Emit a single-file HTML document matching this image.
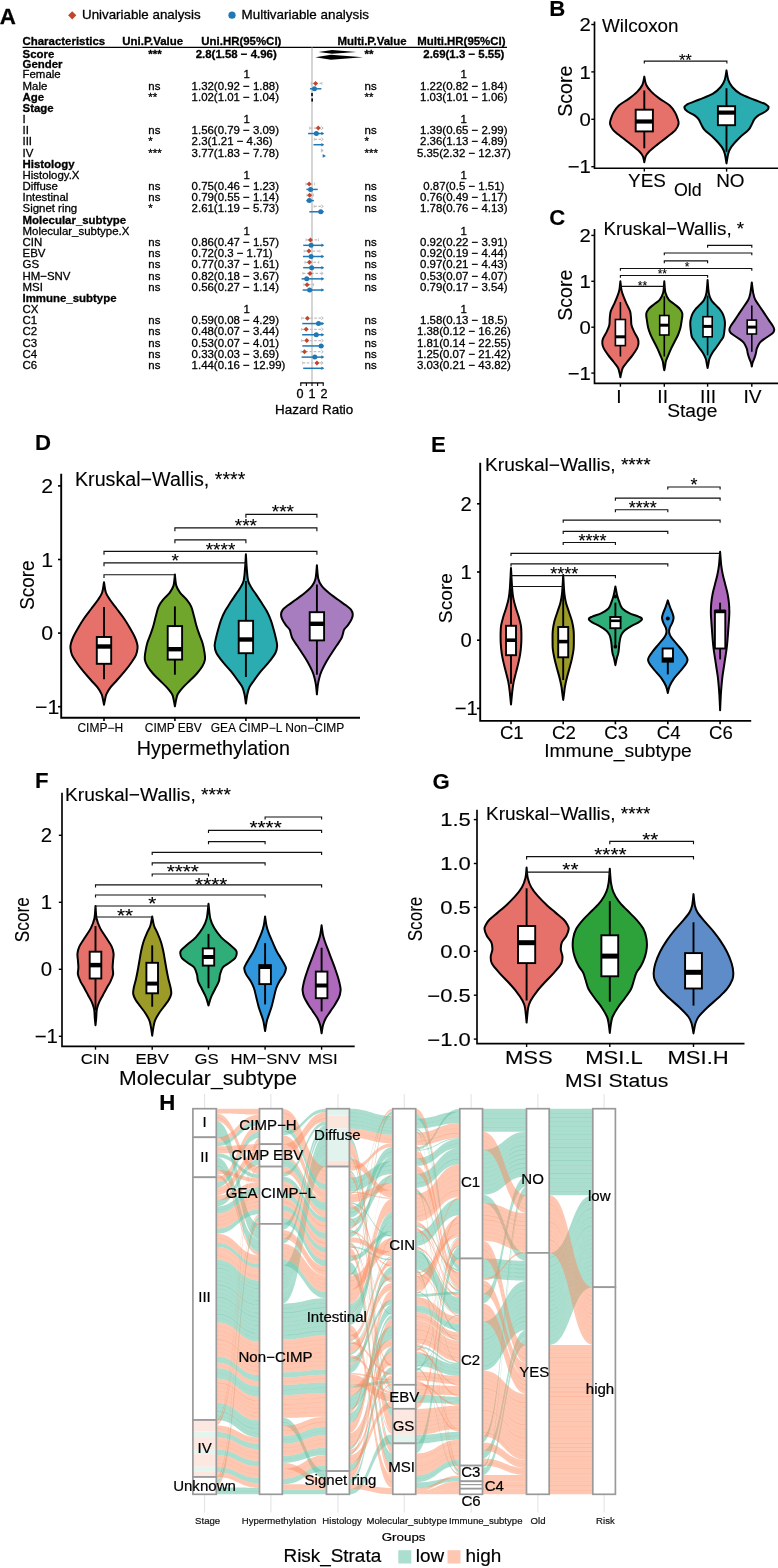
<!DOCTYPE html>
<html lang="en"><head><meta charset="utf-8"><title>Figure</title>
<style>
html,body{margin:0;padding:0;background:#fff}
svg{display:block;font-family:"Liberation Sans",Arial,Helvetica,sans-serif}
text{stroke:#000;stroke-width:.12px;stroke-linejoin:round}
#panelA text{stroke-width:.3px}
#panelH text{stroke-width:.2px}
</style></head><body>
<svg width="778" height="1568" viewBox="0 0 778 1568">
<rect width="778" height="1568" fill="#fff"/>
<g id="panelA">
<text transform="translate(-0.3 24.4)" font-size="22.3" font-weight="700">A</text>
<path d="M72.2 11.2L76.3 15.3L72.2 19.4L68.1 15.3Z" fill="#C1452B"/>
<text transform="translate(82 18.7)" font-size="13.35">Univariable analysis</text>
<circle cx="232" cy="15.2" r="3.6" fill="#1F78B4"/>
<text transform="translate(241.6 18.7)" font-size="13.4">Multivariable analysis</text>
<text transform="translate(22.5 44.9)" font-size="11.45" font-weight="700">Characteristics</text>
<text transform="translate(122.3 44.9)" font-size="11.45" font-weight="700">Uni.P.Value</text>
<text transform="translate(201.3 44.9)" font-size="11.45" font-weight="700">Uni.HR(95%CI)</text>
<text transform="translate(337.5 44.9)" font-size="11.45" font-weight="700">Multi.P.Value</text>
<text transform="translate(417.2 44.9)" font-size="11.45" font-weight="700">Multi.HR(95%CI)</text>
<line x1="22.5" y1="47.4" x2="507" y2="47.4" stroke="#000" stroke-width="1.3"/>
<line x1="312" y1="47.4" x2="312" y2="383" stroke="#BEBEBE" stroke-width="1.3"/>
<text transform="translate(22.5 58)" font-size="11.45" font-weight="700">Score</text>
<text transform="translate(148.3 58)" font-size="11.45" font-weight="700">***</text>
<text transform="translate(236.2 58)" font-size="11.45" text-anchor="middle" font-weight="700">2.8(1.58 − 4.96)</text>
<text transform="translate(364.6 58)" font-size="11.45" font-weight="700">**</text>
<text transform="translate(463.8 58)" font-size="11.45" text-anchor="middle" font-weight="700">2.69(1.3 − 5.55)</text>
<path d="M318.5 51.9L332.16 50L356.35 51.9L332.16 53.8Z" fill="#000"/>
<path d="M315.36 57.3L330.93 54.8L362.96 57.3L330.93 59.8Z" fill="#000"/>
<text transform="translate(22.5 67.6)" font-size="11.45" font-weight="700">Gender</text>
<text transform="translate(22.5 78.32)" font-size="11.45">Female</text>
<text transform="translate(246.7 78.32)" font-size="11.45" text-anchor="middle">1</text>
<text transform="translate(463.8 78.32)" font-size="11.45" text-anchor="middle">1</text>
<text transform="translate(22.5 89.5)" font-size="11.45">Male</text>
<text transform="translate(148.3 89.5)" font-size="11.45">ns</text>
<text transform="translate(191.6 89.5)" font-size="11.45">1.32(0.92 − 1.88)</text>
<text transform="translate(364.6 89.5)" font-size="11.45">ns</text>
<text transform="translate(463.8 89.5)" font-size="11.45" text-anchor="middle">1.22(0.82 − 1.84)</text>
<line x1="311.1" y1="83.4" x2="321.86" y2="83.4" stroke="#BEBEBE" stroke-width="1.25" stroke-dasharray="2.6 1.6"/>
<line x1="321.86" y1="81.9" x2="321.86" y2="84.9" stroke="#BEBEBE" stroke-width="0.8"/>
<line x1="311.1" y1="81.9" x2="311.1" y2="84.9" stroke="#BEBEBE" stroke-width="0.8"/>
<path d="M315.58 80.9L318.08 83.4L315.58 85.9L313.08 83.4Z" fill="#C1452B"/>
<line x1="309.98" y1="88.8" x2="321.41" y2="88.8" stroke="#1F78B4" stroke-width="1.5"/>
<circle cx="314.46" cy="88.8" r="2.5" fill="#1F78B4"/>
<text transform="translate(22.5 100.68)" font-size="11.45" font-weight="700">Age</text>
<text transform="translate(148.3 100.68)" font-size="11.45">**</text>
<text transform="translate(191.6 100.68)" font-size="11.45">1.02(1.01 − 1.04)</text>
<text transform="translate(364.6 100.68)" font-size="11.45">**</text>
<text transform="translate(463.8 100.68)" font-size="11.45" text-anchor="middle">1.03(1.01 − 1.06)</text>
<rect x="311.22" y="92.98" width="1.6" height="3.2" fill="#000" stroke="none" stroke-width="1"/>
<rect x="311.34" y="98.38" width="1.6" height="3.2" fill="#000" stroke="none" stroke-width="1"/>
<text transform="translate(22.5 111.86)" font-size="11.45" font-weight="700">Stage</text>
<text transform="translate(22.5 123.04)" font-size="11.45">I</text>
<text transform="translate(246.7 123.04)" font-size="11.45" text-anchor="middle">1</text>
<text transform="translate(463.8 123.04)" font-size="11.45" text-anchor="middle">1</text>
<text transform="translate(22.5 134.22)" font-size="11.45">II</text>
<text transform="translate(148.3 134.22)" font-size="11.45">ns</text>
<text transform="translate(191.6 134.22)" font-size="11.45">1.56(0.79 − 3.09)</text>
<text transform="translate(364.6 134.22)" font-size="11.45">ns</text>
<text transform="translate(463.8 134.22)" font-size="11.45" text-anchor="middle">1.39(0.65 − 2.99)</text>
<line x1="309.65" y1="128.12" x2="323.2" y2="128.12" stroke="#BEBEBE" stroke-width="1.25" stroke-dasharray="2.6 1.6"/>
<path d="M321.2 126.52L323.2 128.12L321.2 129.72" fill="none" stroke="#BEBEBE" stroke-width="1"/>
<line x1="309.65" y1="126.62" x2="309.65" y2="129.62" stroke="#BEBEBE" stroke-width="0.8"/>
<path d="M318.27 125.62L320.77 128.12L318.27 130.62L315.77 128.12Z" fill="#C1452B"/>
<line x1="308.08" y1="133.52" x2="323.2" y2="133.52" stroke="#1F78B4" stroke-width="1.5"/>
<path d="M321.4 131.72L324.2 133.52L321.4 135.32Z" fill="#1F78B4"/>
<circle cx="316.37" cy="133.52" r="2.5" fill="#1F78B4"/>
<text transform="translate(22.5 145.4)" font-size="11.45">III</text>
<text transform="translate(148.3 145.4)" font-size="11.45">*</text>
<text transform="translate(191.6 145.4)" font-size="11.45">2.3(1.21 − 4.36)</text>
<text transform="translate(364.6 145.4)" font-size="11.45">*</text>
<text transform="translate(463.8 145.4)" font-size="11.45" text-anchor="middle">2.36(1.13 − 4.89)</text>
<line x1="314.35" y1="139.3" x2="323.2" y2="139.3" stroke="#BEBEBE" stroke-width="1.25" stroke-dasharray="2.6 1.6"/>
<path d="M321.2 137.7L323.2 139.3L321.2 140.9" fill="none" stroke="#BEBEBE" stroke-width="1"/>
<line x1="314.35" y1="137.8" x2="314.35" y2="140.8" stroke="#BEBEBE" stroke-width="0.8"/>
<line x1="313.46" y1="144.7" x2="323.2" y2="144.7" stroke="#1F78B4" stroke-width="1.5"/>
<path d="M321.4 142.9L324.2 144.7L321.4 146.5Z" fill="#1F78B4"/>
<text transform="translate(22.5 156.58)" font-size="11.45">IV</text>
<text transform="translate(148.3 156.58)" font-size="11.45">***</text>
<text transform="translate(191.6 156.58)" font-size="11.45">3.77(1.83 − 7.78)</text>
<text transform="translate(364.6 156.58)" font-size="11.45">***</text>
<text transform="translate(463.8 156.58)" font-size="11.45" text-anchor="middle">5.35(2.32 − 12.37)</text>
<line x1="321.3" y1="150.48" x2="323.2" y2="150.48" stroke="#BEBEBE" stroke-width="1.25" stroke-dasharray="2.6 1.6"/>
<path d="M321.2 148.88L323.2 150.48L321.2 152.08" fill="none" stroke="#BEBEBE" stroke-width="1"/>
<line x1="321.3" y1="148.98" x2="321.3" y2="151.98" stroke="#BEBEBE" stroke-width="0.8"/>
<path d="M322.7 154.08L326 155.88L322.7 157.68Z" fill="#1F78B4"/>
<text transform="translate(22.5 167.76)" font-size="11.45" font-weight="700">Histology</text>
<text transform="translate(22.5 178.94)" font-size="11.45">Histology.X</text>
<text transform="translate(246.7 178.94)" font-size="11.45" text-anchor="middle">1</text>
<text transform="translate(463.8 178.94)" font-size="11.45" text-anchor="middle">1</text>
<text transform="translate(22.5 190.12)" font-size="11.45">Diffuse</text>
<text transform="translate(148.3 190.12)" font-size="11.45">ns</text>
<text transform="translate(191.6 190.12)" font-size="11.45">0.75(0.46 − 1.23)</text>
<text transform="translate(364.6 190.12)" font-size="11.45">ns</text>
<text transform="translate(463.8 190.12)" font-size="11.45" text-anchor="middle">0.87(0.5 − 1.51)</text>
<line x1="305.95" y1="184.02" x2="314.58" y2="184.02" stroke="#BEBEBE" stroke-width="1.25" stroke-dasharray="2.6 1.6"/>
<line x1="314.58" y1="182.52" x2="314.58" y2="185.52" stroke="#BEBEBE" stroke-width="0.8"/>
<line x1="305.95" y1="182.52" x2="305.95" y2="185.52" stroke="#BEBEBE" stroke-width="0.8"/>
<path d="M309.2 181.52L311.7 184.02L309.2 186.52L306.7 184.02Z" fill="#C1452B"/>
<line x1="306.4" y1="189.42" x2="317.71" y2="189.42" stroke="#1F78B4" stroke-width="1.5"/>
<circle cx="310.54" cy="189.42" r="2.5" fill="#1F78B4"/>
<text transform="translate(22.5 201.3)" font-size="11.45">Intestinal</text>
<text transform="translate(148.3 201.3)" font-size="11.45">ns</text>
<text transform="translate(191.6 201.3)" font-size="11.45">0.79(0.55 − 1.14)</text>
<text transform="translate(364.6 201.3)" font-size="11.45">ns</text>
<text transform="translate(463.8 201.3)" font-size="11.45" text-anchor="middle">0.76(0.49 − 1.17)</text>
<line x1="306.96" y1="195.2" x2="313.57" y2="195.2" stroke="#BEBEBE" stroke-width="1.25" stroke-dasharray="2.6 1.6"/>
<line x1="313.57" y1="193.7" x2="313.57" y2="196.7" stroke="#BEBEBE" stroke-width="0.8"/>
<line x1="306.96" y1="193.7" x2="306.96" y2="196.7" stroke="#BEBEBE" stroke-width="0.8"/>
<path d="M309.65 192.7L312.15 195.2L309.65 197.7L307.15 195.2Z" fill="#C1452B"/>
<line x1="306.29" y1="200.6" x2="313.9" y2="200.6" stroke="#1F78B4" stroke-width="1.5"/>
<circle cx="309.31" cy="200.6" r="2.5" fill="#1F78B4"/>
<text transform="translate(22.5 212.48)" font-size="11.45">Signet ring</text>
<text transform="translate(148.3 212.48)" font-size="11.45">*</text>
<text transform="translate(191.6 212.48)" font-size="11.45">2.61(1.19 − 5.73)</text>
<text transform="translate(364.6 212.48)" font-size="11.45">ns</text>
<text transform="translate(463.8 212.48)" font-size="11.45" text-anchor="middle">1.78(0.76 − 4.13)</text>
<line x1="314.13" y1="206.38" x2="323.2" y2="206.38" stroke="#BEBEBE" stroke-width="1.25" stroke-dasharray="2.6 1.6"/>
<path d="M321.2 204.78L323.2 206.38L321.2 207.98" fill="none" stroke="#BEBEBE" stroke-width="1"/>
<line x1="314.13" y1="204.88" x2="314.13" y2="207.88" stroke="#BEBEBE" stroke-width="0.8"/>
<line x1="309.31" y1="211.78" x2="323.2" y2="211.78" stroke="#1F78B4" stroke-width="1.5"/>
<path d="M321.4 209.98L324.2 211.78L321.4 213.58Z" fill="#1F78B4"/>
<circle cx="320.74" cy="211.78" r="2.5" fill="#1F78B4"/>
<text transform="translate(22.5 223.66)" font-size="11.45" font-weight="700">Molecular_subtype</text>
<text transform="translate(22.5 234.84)" font-size="11.45">Molecular_subtype.X</text>
<text transform="translate(246.7 234.84)" font-size="11.45" text-anchor="middle">1</text>
<text transform="translate(463.8 234.84)" font-size="11.45" text-anchor="middle">1</text>
<text transform="translate(22.5 246.02)" font-size="11.45">CIN</text>
<text transform="translate(148.3 246.02)" font-size="11.45">ns</text>
<text transform="translate(191.6 246.02)" font-size="11.45">0.86(0.47 − 1.57)</text>
<text transform="translate(364.6 246.02)" font-size="11.45">ns</text>
<text transform="translate(463.8 246.02)" font-size="11.45" text-anchor="middle">0.92(0.22 − 3.91)</text>
<line x1="306.06" y1="239.92" x2="318.38" y2="239.92" stroke="#BEBEBE" stroke-width="1.25" stroke-dasharray="2.6 1.6"/>
<line x1="318.38" y1="238.42" x2="318.38" y2="241.42" stroke="#BEBEBE" stroke-width="0.8"/>
<line x1="306.06" y1="238.42" x2="306.06" y2="241.42" stroke="#BEBEBE" stroke-width="0.8"/>
<path d="M310.43 237.42L312.93 239.92L310.43 242.42L307.93 239.92Z" fill="#C1452B"/>
<line x1="303.26" y1="245.32" x2="323.2" y2="245.32" stroke="#1F78B4" stroke-width="1.5"/>
<path d="M321.4 243.52L324.2 245.32L321.4 247.12Z" fill="#1F78B4"/>
<circle cx="311.1" cy="245.32" r="2.5" fill="#1F78B4"/>
<text transform="translate(22.5 257.2)" font-size="11.45">EBV</text>
<text transform="translate(148.3 257.2)" font-size="11.45">ns</text>
<text transform="translate(191.6 257.2)" font-size="11.45">0.72(0.3 − 1.71)</text>
<text transform="translate(364.6 257.2)" font-size="11.45">ns</text>
<text transform="translate(463.8 257.2)" font-size="11.45" text-anchor="middle">0.92(0.19 − 4.44)</text>
<line x1="304.16" y1="251.1" x2="319.95" y2="251.1" stroke="#BEBEBE" stroke-width="1.25" stroke-dasharray="2.6 1.6"/>
<line x1="319.95" y1="249.6" x2="319.95" y2="252.6" stroke="#BEBEBE" stroke-width="0.8"/>
<line x1="304.16" y1="249.6" x2="304.16" y2="252.6" stroke="#BEBEBE" stroke-width="0.8"/>
<path d="M308.86 248.6L311.36 251.1L308.86 253.6L306.36 251.1Z" fill="#C1452B"/>
<line x1="302.93" y1="256.5" x2="323.2" y2="256.5" stroke="#1F78B4" stroke-width="1.5"/>
<path d="M321.4 254.7L324.2 256.5L321.4 258.3Z" fill="#1F78B4"/>
<circle cx="311.1" cy="256.5" r="2.5" fill="#1F78B4"/>
<text transform="translate(22.5 268.38)" font-size="11.45">GS</text>
<text transform="translate(148.3 268.38)" font-size="11.45">ns</text>
<text transform="translate(191.6 268.38)" font-size="11.45">0.77(0.37 − 1.61)</text>
<text transform="translate(364.6 268.38)" font-size="11.45">ns</text>
<text transform="translate(463.8 268.38)" font-size="11.45" text-anchor="middle">0.97(0.21 − 4.43)</text>
<line x1="304.94" y1="262.28" x2="318.83" y2="262.28" stroke="#BEBEBE" stroke-width="1.25" stroke-dasharray="2.6 1.6"/>
<line x1="318.83" y1="260.78" x2="318.83" y2="263.78" stroke="#BEBEBE" stroke-width="0.8"/>
<line x1="304.94" y1="260.78" x2="304.94" y2="263.78" stroke="#BEBEBE" stroke-width="0.8"/>
<path d="M309.42 259.78L311.92 262.28L309.42 264.78L306.92 262.28Z" fill="#C1452B"/>
<line x1="303.15" y1="267.68" x2="323.2" y2="267.68" stroke="#1F78B4" stroke-width="1.5"/>
<path d="M321.4 265.88L324.2 267.68L321.4 269.48Z" fill="#1F78B4"/>
<circle cx="311.66" cy="267.68" r="2.5" fill="#1F78B4"/>
<text transform="translate(22.5 279.56)" font-size="11.45">HM−SNV</text>
<text transform="translate(148.3 279.56)" font-size="11.45">ns</text>
<text transform="translate(191.6 279.56)" font-size="11.45">0.82(0.18 − 3.67)</text>
<text transform="translate(364.6 279.56)" font-size="11.45">ns</text>
<text transform="translate(463.8 279.56)" font-size="11.45" text-anchor="middle">0.53(0.07 − 4.07)</text>
<line x1="302.82" y1="273.46" x2="323.2" y2="273.46" stroke="#BEBEBE" stroke-width="1.25" stroke-dasharray="2.6 1.6"/>
<path d="M321.2 271.86L323.2 273.46L321.2 275.06" fill="none" stroke="#BEBEBE" stroke-width="1"/>
<line x1="302.82" y1="271.96" x2="302.82" y2="274.96" stroke="#BEBEBE" stroke-width="0.8"/>
<path d="M309.98 270.96L312.48 273.46L309.98 275.96L307.48 273.46Z" fill="#C1452B"/>
<line x1="301.58" y1="278.86" x2="323.2" y2="278.86" stroke="#1F78B4" stroke-width="1.5"/>
<path d="M321.4 277.06L324.2 278.86L321.4 280.66Z" fill="#1F78B4"/>
<circle cx="306.74" cy="278.86" r="2.5" fill="#1F78B4"/>
<text transform="translate(22.5 290.74)" font-size="11.45">MSI</text>
<text transform="translate(148.3 290.74)" font-size="11.45">ns</text>
<text transform="translate(191.6 290.74)" font-size="11.45">0.56(0.27 − 1.14)</text>
<text transform="translate(364.6 290.74)" font-size="11.45">ns</text>
<text transform="translate(463.8 290.74)" font-size="11.45" text-anchor="middle">0.79(0.17 − 3.54)</text>
<line x1="303.82" y1="284.64" x2="313.57" y2="284.64" stroke="#BEBEBE" stroke-width="1.25" stroke-dasharray="2.6 1.6"/>
<line x1="313.57" y1="283.14" x2="313.57" y2="286.14" stroke="#BEBEBE" stroke-width="0.8"/>
<line x1="303.82" y1="283.14" x2="303.82" y2="286.14" stroke="#BEBEBE" stroke-width="0.8"/>
<path d="M307.07 282.14L309.57 284.64L307.07 287.14L304.57 284.64Z" fill="#C1452B"/>
<line x1="302.7" y1="290.04" x2="323.2" y2="290.04" stroke="#1F78B4" stroke-width="1.5"/>
<path d="M321.4 288.24L324.2 290.04L321.4 291.84Z" fill="#1F78B4"/>
<circle cx="309.65" cy="290.04" r="2.5" fill="#1F78B4"/>
<text transform="translate(22.5 301.92)" font-size="11.45" font-weight="700">Immune_subtype</text>
<text transform="translate(22.5 313.1)" font-size="11.45">CX</text>
<text transform="translate(246.7 313.1)" font-size="11.45" text-anchor="middle">1</text>
<text transform="translate(463.8 313.1)" font-size="11.45" text-anchor="middle">1</text>
<text transform="translate(22.5 324.28)" font-size="11.45">C1</text>
<text transform="translate(148.3 324.28)" font-size="11.45">ns</text>
<text transform="translate(191.6 324.28)" font-size="11.45">0.59(0.08 − 4.29)</text>
<text transform="translate(364.6 324.28)" font-size="11.45">ns</text>
<text transform="translate(463.8 324.28)" font-size="11.45" text-anchor="middle">1.58(0.13 − 18.5)</text>
<line x1="301.7" y1="318.18" x2="323.2" y2="318.18" stroke="#BEBEBE" stroke-width="1.25" stroke-dasharray="2.6 1.6"/>
<path d="M321.2 316.58L323.2 318.18L321.2 319.78" fill="none" stroke="#BEBEBE" stroke-width="1"/>
<line x1="301.7" y1="316.68" x2="301.7" y2="319.68" stroke="#BEBEBE" stroke-width="0.8"/>
<path d="M307.41 315.68L309.91 318.18L307.41 320.68L304.91 318.18Z" fill="#C1452B"/>
<line x1="302.26" y1="323.58" x2="323.2" y2="323.58" stroke="#1F78B4" stroke-width="1.5"/>
<path d="M321.4 321.78L324.2 323.58L321.4 325.38Z" fill="#1F78B4"/>
<circle cx="318.5" cy="323.58" r="2.5" fill="#1F78B4"/>
<text transform="translate(22.5 335.46)" font-size="11.45">C2</text>
<text transform="translate(148.3 335.46)" font-size="11.45">ns</text>
<text transform="translate(191.6 335.46)" font-size="11.45">0.48(0.07 − 3.44)</text>
<text transform="translate(364.6 335.46)" font-size="11.45">ns</text>
<text transform="translate(463.8 335.46)" font-size="11.45" text-anchor="middle">1.38(0.12 − 16.26)</text>
<line x1="301.58" y1="329.36" x2="323.2" y2="329.36" stroke="#BEBEBE" stroke-width="1.25" stroke-dasharray="2.6 1.6"/>
<path d="M321.2 327.76L323.2 329.36L321.2 330.96" fill="none" stroke="#BEBEBE" stroke-width="1"/>
<line x1="301.58" y1="327.86" x2="301.58" y2="330.86" stroke="#BEBEBE" stroke-width="0.8"/>
<path d="M306.18 326.86L308.68 329.36L306.18 331.86L303.68 329.36Z" fill="#C1452B"/>
<line x1="302.14" y1="334.76" x2="323.2" y2="334.76" stroke="#1F78B4" stroke-width="1.5"/>
<path d="M321.4 332.96L324.2 334.76L321.4 336.56Z" fill="#1F78B4"/>
<circle cx="316.26" cy="334.76" r="2.5" fill="#1F78B4"/>
<text transform="translate(22.5 346.64)" font-size="11.45">C3</text>
<text transform="translate(148.3 346.64)" font-size="11.45">ns</text>
<text transform="translate(191.6 346.64)" font-size="11.45">0.53(0.07 − 4.01)</text>
<text transform="translate(364.6 346.64)" font-size="11.45">ns</text>
<text transform="translate(463.8 346.64)" font-size="11.45" text-anchor="middle">1.81(0.14 − 22.55)</text>
<line x1="301.58" y1="340.54" x2="323.2" y2="340.54" stroke="#BEBEBE" stroke-width="1.25" stroke-dasharray="2.6 1.6"/>
<path d="M321.2 338.94L323.2 340.54L321.2 342.14" fill="none" stroke="#BEBEBE" stroke-width="1"/>
<line x1="301.58" y1="339.04" x2="301.58" y2="342.04" stroke="#BEBEBE" stroke-width="0.8"/>
<path d="M306.74 338.04L309.24 340.54L306.74 343.04L304.24 340.54Z" fill="#C1452B"/>
<line x1="302.37" y1="345.94" x2="323.2" y2="345.94" stroke="#1F78B4" stroke-width="1.5"/>
<path d="M321.4 344.14L324.2 345.94L321.4 347.74Z" fill="#1F78B4"/>
<circle cx="321.07" cy="345.94" r="2.5" fill="#1F78B4"/>
<text transform="translate(22.5 357.82)" font-size="11.45">C4</text>
<text transform="translate(148.3 357.82)" font-size="11.45">ns</text>
<text transform="translate(191.6 357.82)" font-size="11.45">0.33(0.03 − 3.69)</text>
<text transform="translate(364.6 357.82)" font-size="11.45">ns</text>
<text transform="translate(463.8 357.82)" font-size="11.45" text-anchor="middle">1.25(0.07 − 21.42)</text>
<line x1="301.14" y1="351.72" x2="323.2" y2="351.72" stroke="#BEBEBE" stroke-width="1.25" stroke-dasharray="2.6 1.6"/>
<path d="M321.2 350.12L323.2 351.72L321.2 353.32" fill="none" stroke="#BEBEBE" stroke-width="1"/>
<line x1="301.14" y1="350.22" x2="301.14" y2="353.22" stroke="#BEBEBE" stroke-width="0.8"/>
<path d="M304.5 349.22L307 351.72L304.5 354.22L302 351.72Z" fill="#C1452B"/>
<line x1="301.58" y1="357.12" x2="323.2" y2="357.12" stroke="#1F78B4" stroke-width="1.5"/>
<path d="M321.4 355.32L324.2 357.12L321.4 358.92Z" fill="#1F78B4"/>
<circle cx="314.8" cy="357.12" r="2.5" fill="#1F78B4"/>
<text transform="translate(22.5 369)" font-size="11.45">C6</text>
<text transform="translate(148.3 369)" font-size="11.45">ns</text>
<text transform="translate(191.6 369)" font-size="11.45">1.44(0.16 − 12.99)</text>
<text transform="translate(364.6 369)" font-size="11.45">ns</text>
<text transform="translate(463.8 369)" font-size="11.45" text-anchor="middle">3.03(0.21 − 43.82)</text>
<line x1="302.59" y1="362.9" x2="323.2" y2="362.9" stroke="#BEBEBE" stroke-width="1.25" stroke-dasharray="2.6 1.6"/>
<path d="M321.2 361.3L323.2 362.9L321.2 364.5" fill="none" stroke="#BEBEBE" stroke-width="1"/>
<line x1="302.59" y1="361.4" x2="302.59" y2="364.4" stroke="#BEBEBE" stroke-width="0.8"/>
<path d="M316.93 360.4L319.43 362.9L316.93 365.4L314.43 362.9Z" fill="#C1452B"/>
<line x1="303.15" y1="368.3" x2="323.2" y2="368.3" stroke="#1F78B4" stroke-width="1.5"/>
<path d="M321.4 366.5L324.2 368.3L321.4 370.1Z" fill="#1F78B4"/>
<line x1="300.2" y1="382.9" x2="323.8" y2="382.9" stroke="#000" stroke-width="1.3"/>
<line x1="300.8" y1="382.9" x2="300.8" y2="386" stroke="#000" stroke-width="1.1"/>
<line x1="306.4" y1="382.9" x2="306.4" y2="386" stroke="#000" stroke-width="1.1"/>
<line x1="312" y1="382.9" x2="312" y2="386" stroke="#000" stroke-width="1.1"/>
<line x1="317.6" y1="382.9" x2="317.6" y2="386" stroke="#000" stroke-width="1.1"/>
<line x1="323.2" y1="382.9" x2="323.2" y2="386" stroke="#000" stroke-width="1.1"/>
<text transform="translate(299.9 398.4)" font-size="12.6" text-anchor="middle">0</text>
<text transform="translate(312 398.4)" font-size="12.6" text-anchor="middle">1</text>
<text transform="translate(324.1 398.4)" font-size="12.6" text-anchor="middle">2</text>
<text transform="translate(314.2 413.8)" font-size="13.4" text-anchor="middle">Hazard Ratio</text>
</g>
<g id="panelB">
<text transform="translate(549.3 15.6)" font-size="22.2" font-weight="700">B</text>
<path d="M594.5 21.4V168.2H778" fill="none" stroke="#000" stroke-width="1.65" stroke-linejoin="miter"/>
<line x1="591.3" y1="24.5" x2="594.5" y2="24.5" stroke="#000" stroke-width="1.4"/>
<text transform="translate(590.8 31.27) scale(1.08 1)" font-size="18.8" text-anchor="end">2</text>
<line x1="591.3" y1="71.9" x2="594.5" y2="71.9" stroke="#000" stroke-width="1.4"/>
<text transform="translate(590.8 78.67) scale(1.08 1)" font-size="18.8" text-anchor="end">1</text>
<line x1="591.3" y1="119.3" x2="594.5" y2="119.3" stroke="#000" stroke-width="1.4"/>
<text transform="translate(590.8 126.07) scale(1.08 1)" font-size="18.8" text-anchor="end">0</text>
<line x1="591.3" y1="166.7" x2="594.5" y2="166.7" stroke="#000" stroke-width="1.4"/>
<text transform="translate(590.8 173.47) scale(1.08 1)" font-size="18.8" text-anchor="end">−1</text>
<line x1="644.3" y1="168.2" x2="644.3" y2="171.6" stroke="#000" stroke-width="1.4"/>
<line x1="726.6" y1="168.2" x2="726.6" y2="171.6" stroke="#000" stroke-width="1.4"/>
<text transform="translate(571.6 91.2) rotate(-90)" font-size="19.6" text-anchor="middle">Score</text>
<text transform="translate(602 32.4) scale(1.01 1)" font-size="18.7">Wilcoxon</text>
<path d="M644.3 76.61C644.61 77.96 644.99 82.2 646.15 84.71C647.31 87.21 649 89.33 651.24 91.65C653.48 93.96 656.49 96.27 659.57 98.59C662.66 100.9 667.17 103.22 669.75 105.53C672.33 107.84 673.72 110.16 675.07 112.47C676.42 114.78 677.27 117.48 677.85 119.41C678.43 121.34 678.93 122.3 678.54 124.04C678.16 125.78 677.39 127.7 675.54 129.82C673.68 131.95 670.52 134.26 667.44 136.77C664.35 139.27 660.11 142.36 657.03 144.86C653.94 147.37 650.82 149.88 648.93 151.8C647.04 153.73 646.46 154.7 645.69 156.43C644.92 158.17 644.53 161.25 644.3 162.22C644.07 161.25 643.68 158.17 642.91 156.43C642.14 154.7 641.56 153.73 639.67 151.8C637.78 149.88 634.66 147.37 631.57 144.86C628.49 142.36 624.25 139.27 621.16 136.77C618.08 134.26 614.92 131.95 613.06 129.82C611.21 127.7 610.44 125.78 610.06 124.04C609.67 122.3 610.17 121.34 610.75 119.41C611.33 117.48 612.18 114.78 613.53 112.47C614.88 110.16 616.27 107.84 618.85 105.53C621.43 103.22 625.94 100.9 629.03 98.59C632.11 96.27 635.12 93.96 637.36 91.65C639.6 89.33 641.29 87.21 642.45 84.71C643.61 82.2 643.99 77.96 644.3 76.61Z" fill="#E5716A" stroke="#000" stroke-width="2" stroke-linejoin="round"/>
<line x1="644.3" y1="90.5" x2="644.3" y2="148.3" stroke="#000" stroke-width="1.9"/>
<rect x="635.7" y="109.7" width="17.2" height="21.7" fill="#fff" stroke="#000" stroke-width="1.9"/>
<line x1="635.7" y1="121.5" x2="652.9" y2="121.5" stroke="#000" stroke-width="4.2"/>
<path d="M726.5 70.36C726.81 71.98 727.39 77.3 728.35 80.08C729.32 82.86 730.28 84.71 732.28 87.02C734.29 89.33 736.72 91.84 740.38 93.96C744.05 96.08 750.02 98.01 754.26 99.75C758.51 101.48 763.44 103.02 765.83 104.37C768.22 105.72 768.61 106.69 768.61 107.84C768.61 109 767.65 109.96 765.83 111.31C764.02 112.66 759.66 114.59 757.74 115.94C755.81 117.29 755.23 118.06 754.26 119.41C753.3 120.76 752.92 122.3 751.95 124.04C750.99 125.78 750.6 127.51 748.48 129.82C746.36 132.14 742.12 135.03 739.23 137.92C736.33 140.81 732.98 144.48 731.13 147.18C729.28 149.88 728.89 151.42 728.12 154.12C727.35 156.82 726.77 161.83 726.5 163.37C726.23 161.83 725.65 156.82 724.88 154.12C724.11 151.42 723.72 149.88 721.87 147.18C720.02 144.48 716.67 140.81 713.77 137.92C710.88 135.03 706.64 132.14 704.52 129.82C702.4 127.51 702.01 125.78 701.05 124.04C700.08 122.3 699.7 120.76 698.74 119.41C697.77 118.06 697.19 117.29 695.26 115.94C693.34 114.59 688.98 112.66 687.17 111.31C685.35 109.96 684.39 109 684.39 107.84C684.39 106.69 684.78 105.72 687.17 104.37C689.56 103.02 694.49 101.48 698.74 99.75C702.98 98.01 708.95 96.08 712.62 93.96C716.28 91.84 718.71 89.33 720.72 87.02C722.72 84.71 723.68 82.86 724.65 80.08C725.61 77.3 726.19 71.98 726.5 70.36Z" fill="#2AACB0" stroke="#000" stroke-width="2" stroke-linejoin="round"/>
<line x1="726.5" y1="88.2" x2="726.5" y2="151.8" stroke="#000" stroke-width="1.9"/>
<rect x="717.9" y="106.2" width="17.2" height="19" fill="#fff" stroke="#000" stroke-width="1.9"/>
<line x1="717.9" y1="112.6" x2="735.1" y2="112.6" stroke="#000" stroke-width="4.2"/>
<path d="M644.3 63.5V61.1H726.9V63.5" fill="none" stroke="#111" stroke-width="1.15"/>
<text transform="translate(685.3 65.65)" font-size="16.5" text-anchor="middle">**</text>
<text transform="translate(647 187.2)" font-size="18.9" text-anchor="middle">YES</text>
<text transform="translate(730.4 187.2)" font-size="18.9" text-anchor="middle">NO</text>
<text transform="translate(687.8 196.4)" font-size="17.8" text-anchor="middle">Old</text>
</g>
<g id="panelC">
<text transform="translate(549.3 225.3)" font-size="22.2" font-weight="700">C</text>
<path d="M594.5 229V383.3H778" fill="none" stroke="#000" stroke-width="1.65" stroke-linejoin="miter"/>
<line x1="591.3" y1="235.4" x2="594.5" y2="235.4" stroke="#000" stroke-width="1.4"/>
<text transform="translate(590.8 242.24) scale(1.07 1)" font-size="19" text-anchor="end">2</text>
<line x1="591.3" y1="281.3" x2="594.5" y2="281.3" stroke="#000" stroke-width="1.4"/>
<text transform="translate(590.8 288.14) scale(1.07 1)" font-size="19" text-anchor="end">1</text>
<line x1="591.3" y1="327.2" x2="594.5" y2="327.2" stroke="#000" stroke-width="1.4"/>
<text transform="translate(590.8 334.04) scale(1.07 1)" font-size="19" text-anchor="end">0</text>
<line x1="591.3" y1="373.1" x2="594.5" y2="373.1" stroke="#000" stroke-width="1.4"/>
<text transform="translate(590.8 379.94) scale(1.07 1)" font-size="19" text-anchor="end">−1</text>
<line x1="620.4" y1="383.3" x2="620.4" y2="386.7" stroke="#000" stroke-width="1.4"/>
<line x1="664.3" y1="383.3" x2="664.3" y2="386.7" stroke="#000" stroke-width="1.4"/>
<line x1="707.6" y1="383.3" x2="707.6" y2="386.7" stroke="#000" stroke-width="1.4"/>
<line x1="751.8" y1="383.3" x2="751.8" y2="386.7" stroke="#000" stroke-width="1.4"/>
<text transform="translate(571.5 295.2) rotate(-90)" font-size="19.6" text-anchor="middle">Score</text>
<text transform="translate(603.4 234.8)" font-size="18.8">Kruskal−Wallis, *</text>
<path d="M620.4 281.27C620.59 282.82 620.98 287.83 621.56 290.53C622.14 293.23 622.98 295.16 623.87 297.47C624.76 299.78 625.84 302.1 626.88 304.41C627.92 306.73 629.42 309.04 630.12 311.35C630.81 313.67 630.81 315.98 631.04 318.29C631.27 320.61 630.97 322.92 631.51 325.24C632.05 327.55 633.2 329.86 634.28 332.18C635.36 334.49 637.29 337.19 637.98 339.12C638.68 341.05 638.6 342.2 638.45 343.75C638.29 345.29 638.06 346.45 637.06 348.37C636.06 350.3 634.13 353 632.43 355.31C630.73 357.63 628.5 360.13 626.88 362.26C625.26 364.38 623.68 366.11 622.71 368.04C621.75 369.97 621.48 372.28 621.09 373.82C620.71 375.37 620.52 376.72 620.4 377.3C620.28 376.72 620.09 375.37 619.71 373.82C619.32 372.28 619.05 369.97 618.09 368.04C617.12 366.11 615.54 364.38 613.92 362.26C612.3 360.13 610.07 357.63 608.37 355.31C606.67 353 604.74 350.3 603.74 348.37C602.74 346.45 602.51 345.29 602.35 343.75C602.2 342.2 602.12 341.05 602.82 339.12C603.51 337.19 605.44 334.49 606.52 332.18C607.6 329.86 608.75 327.55 609.29 325.24C609.83 322.92 609.53 320.61 609.76 318.29C609.99 315.98 609.99 313.67 610.68 311.35C611.38 309.04 612.88 306.73 613.92 304.41C614.96 302.1 616.04 299.78 616.93 297.47C617.82 295.16 618.66 293.23 619.24 290.53C619.82 287.83 620.21 282.82 620.4 281.27Z" fill="#E5716A" stroke="#000" stroke-width="2" stroke-linejoin="round"/>
<line x1="620.4" y1="302.1" x2="620.4" y2="356.5" stroke="#000" stroke-width="1.6"/>
<rect x="615.4" y="319.5" width="10" height="26.1" fill="#fff" stroke="#000" stroke-width="1.6"/>
<line x1="615.4" y1="336.8" x2="625.4" y2="336.8" stroke="#000" stroke-width="3"/>
<path d="M664.3 281.27C664.49 283.2 664.69 289.76 665.46 292.84C666.23 295.93 667.38 297.86 668.93 299.78C670.47 301.71 672.86 302.87 674.71 304.41C676.56 305.95 678.76 307.5 680.03 309.04C681.31 310.58 682.08 311.74 682.35 313.67C682.62 315.6 681.96 318.29 681.65 320.61C681.34 322.92 681.07 325.24 680.5 327.55C679.92 329.86 679.15 332.18 678.18 334.49C677.22 336.8 675.87 339.12 674.71 341.43C673.55 343.75 672.32 346.06 671.24 348.37C670.16 350.69 669.12 353.19 668.23 355.31C667.35 357.44 666.46 359.17 665.92 361.1C665.38 363.03 665.26 365.34 664.99 366.88C664.72 368.43 664.42 369.78 664.3 370.35C664.18 369.78 663.88 368.43 663.61 366.88C663.34 365.34 663.22 363.03 662.68 361.1C662.14 359.17 661.25 357.44 660.37 355.31C659.48 353.19 658.44 350.69 657.36 348.37C656.28 346.06 655.05 343.75 653.89 341.43C652.73 339.12 651.38 336.8 650.42 334.49C649.45 332.18 648.68 329.86 648.1 327.55C647.53 325.24 647.26 322.92 646.95 320.61C646.64 318.29 645.98 315.6 646.25 313.67C646.52 311.74 647.29 310.58 648.57 309.04C649.84 307.5 652.04 305.95 653.89 304.41C655.74 302.87 658.13 301.71 659.67 299.78C661.22 297.86 662.37 295.93 663.14 292.84C663.91 289.76 664.11 283.2 664.3 281.27Z" fill="#70A62B" stroke="#000" stroke-width="2" stroke-linejoin="round"/>
<line x1="664.3" y1="296.3" x2="664.3" y2="356.5" stroke="#000" stroke-width="1.6"/>
<rect x="659.7" y="315.5" width="9.2" height="19.5" fill="#fff" stroke="#000" stroke-width="1.6"/>
<line x1="659.7" y1="325.2" x2="668.9" y2="325.2" stroke="#000" stroke-width="3"/>
<path d="M707.6 280.12C707.79 282.24 708.18 289.57 708.76 292.84C709.34 296.12 710.03 297.86 711.07 299.78C712.11 301.71 713.58 302.87 715 304.41C716.43 305.95 718.36 307.5 719.63 309.04C720.9 310.58 721.87 312.12 722.64 313.67C723.41 315.21 723.87 316.75 724.26 318.29C724.64 319.84 724.91 320.99 724.95 322.92C724.99 324.85 724.76 327.55 724.49 329.86C724.22 332.18 724.03 334.88 723.33 336.8C722.64 338.73 721.48 339.7 720.33 341.43C719.17 343.17 717.74 345.29 716.39 347.22C715.04 349.14 713.38 351.07 712.23 353C711.07 354.93 710.11 356.86 709.45 358.79C708.8 360.71 708.6 363.03 708.29 364.57C707.99 366.11 707.72 367.46 707.6 368.04C707.48 367.46 707.21 366.11 706.91 364.57C706.6 363.03 706.4 360.71 705.75 358.79C705.09 356.86 704.13 354.93 702.97 353C701.82 351.07 700.16 349.14 698.81 347.22C697.46 345.29 696.03 343.17 694.87 341.43C693.72 339.7 692.56 338.73 691.87 336.8C691.17 334.88 690.98 332.18 690.71 329.86C690.44 327.55 690.21 324.85 690.25 322.92C690.29 320.99 690.56 319.84 690.94 318.29C691.33 316.75 691.79 315.21 692.56 313.67C693.33 312.12 694.3 310.58 695.57 309.04C696.84 307.5 698.77 305.95 700.2 304.41C701.62 302.87 703.09 301.71 704.13 299.78C705.17 297.86 705.86 296.12 706.44 292.84C707.02 289.57 707.41 282.24 707.6 280.12Z" fill="#2AACB0" stroke="#000" stroke-width="2" stroke-linejoin="round"/>
<line x1="707.6" y1="295.6" x2="707.6" y2="355.3" stroke="#000" stroke-width="1.6"/>
<rect x="703" y="316.7" width="9.2" height="20.1" fill="#fff" stroke="#000" stroke-width="1.6"/>
<line x1="703" y1="326.4" x2="712.2" y2="326.4" stroke="#000" stroke-width="3"/>
<path d="M751.8 282.43C752.03 284.17 752.61 289.95 753.19 292.84C753.77 295.74 754.15 297.47 755.27 299.78C756.39 302.1 758.36 304.41 759.9 306.73C761.44 309.04 762.98 311.35 764.53 313.67C766.07 315.98 767.73 318.49 769.15 320.61C770.58 322.73 772.24 324.85 773.09 326.39C773.93 327.94 774.32 328.71 774.24 329.86C774.17 331.02 774.05 331.98 772.62 333.33C771.2 334.68 767.8 336.42 765.68 337.96C763.56 339.5 761.36 340.85 759.9 342.59C758.43 344.32 757.55 346.64 756.89 348.37C756.23 350.11 756.35 351.46 755.96 353C755.58 354.54 755.12 356.09 754.58 357.63C754.04 359.17 753.19 360.79 752.73 362.26C752.26 363.72 751.95 365.73 751.8 366.42C751.65 365.73 751.34 363.72 750.87 362.26C750.41 360.79 749.56 359.17 749.02 357.63C748.48 356.09 748.02 354.54 747.64 353C747.25 351.46 747.37 350.11 746.71 348.37C746.05 346.64 745.17 344.32 743.7 342.59C742.24 340.85 740.04 339.5 737.92 337.96C735.8 336.42 732.4 334.68 730.98 333.33C729.55 331.98 729.43 331.02 729.36 329.86C729.28 328.71 729.67 327.94 730.51 326.39C731.36 324.85 733.02 322.73 734.45 320.61C735.87 318.49 737.53 315.98 739.07 313.67C740.62 311.35 742.16 309.04 743.7 306.73C745.24 304.41 747.21 302.1 748.33 299.78C749.45 297.47 749.83 295.74 750.41 292.84C750.99 289.95 751.57 284.17 751.8 282.43Z" fill="#A87DC0" stroke="#000" stroke-width="2" stroke-linejoin="round"/>
<line x1="751.8" y1="305.6" x2="751.8" y2="351.8" stroke="#000" stroke-width="1.6"/>
<rect x="747.2" y="320.1" width="9.2" height="13.9" fill="#fff" stroke="#000" stroke-width="1.6"/>
<line x1="747.2" y1="327.1" x2="756.4" y2="327.1" stroke="#000" stroke-width="3"/>
<path d="M620.4 288.7V286.4H664.3V288.7" fill="none" stroke="#111" stroke-width="1.15"/>
<text transform="translate(642.4 289.6)" font-size="12" text-anchor="middle">**</text>
<path d="M620.4 277.8V275.5H707.6V277.8" fill="none" stroke="#111" stroke-width="1.15"/>
<text transform="translate(662.3 278)" font-size="12" text-anchor="middle">**</text>
<path d="M620.4 270.8V268.5H751.8V270.8" fill="none" stroke="#111" stroke-width="1.15"/>
<text transform="translate(687.1 270.6)" font-size="12" text-anchor="middle">*</text>
<path d="M664.3 263.2V260.9H707.6V263.2" fill="none" stroke="#111" stroke-width="1.15"/>
<path d="M664.3 255.3V253H751.8V255.3" fill="none" stroke="#111" stroke-width="1.15"/>
<path d="M707.6 247.7V245.4H751.8V247.7" fill="none" stroke="#111" stroke-width="1.15"/>
<text transform="translate(618.8 403)" font-size="19.2" text-anchor="middle">I</text>
<text transform="translate(662.7 403)" font-size="19.2" text-anchor="middle">II</text>
<text transform="translate(708.1 403)" font-size="19.2" text-anchor="middle">III</text>
<text transform="translate(752.5 403)" font-size="19.2" text-anchor="middle">IV</text>
<text transform="translate(692.3 417.2)" font-size="19.2" text-anchor="middle">Stage</text>
</g>
<g id="panelD">
<text transform="translate(35 450.4)" font-size="22.2" font-weight="700">D</text>
<path d="M61.2 473.7V717.7H360" fill="none" stroke="#000" stroke-width="1.9" stroke-linejoin="miter"/>
<line x1="58" y1="485.9" x2="61.2" y2="485.9" stroke="#000" stroke-width="1.61"/>
<text transform="translate(47.27 493.21) scale(1.05 1)" font-size="20.3" text-anchor="middle">2</text>
<line x1="58" y1="559.5" x2="61.2" y2="559.5" stroke="#000" stroke-width="1.61"/>
<text transform="translate(47.27 566.81) scale(1.05 1)" font-size="20.3" text-anchor="middle">1</text>
<line x1="58" y1="633.1" x2="61.2" y2="633.1" stroke="#000" stroke-width="1.61"/>
<text transform="translate(47.27 640.41) scale(1.05 1)" font-size="20.3" text-anchor="middle">0</text>
<line x1="58" y1="706.7" x2="61.2" y2="706.7" stroke="#000" stroke-width="1.61"/>
<text transform="translate(47.27 714.01) scale(1.05 1)" font-size="20.3" text-anchor="middle">−1</text>
<line x1="104" y1="717.7" x2="104" y2="721.1" stroke="#000" stroke-width="1.61"/>
<line x1="174.9" y1="717.7" x2="174.9" y2="721.1" stroke="#000" stroke-width="1.61"/>
<line x1="245.9" y1="717.7" x2="245.9" y2="721.1" stroke="#000" stroke-width="1.61"/>
<line x1="316.9" y1="717.7" x2="316.9" y2="721.1" stroke="#000" stroke-width="1.61"/>
<text transform="translate(33.8 585.1) rotate(-90) scale(1 1.04)" font-size="18.9" text-anchor="middle">Score</text>
<text transform="translate(75 485.7) scale(1.02 1)" font-size="19.3">Kruskal−Wallis, ****</text>
<path d="M104 582.14C104.31 583.87 104.89 589.66 105.85 592.55C106.82 595.44 107.97 596.79 109.78 599.49C111.6 602.19 114.41 605.66 116.73 608.75C119.04 611.83 121.55 614.92 123.67 618C125.79 621.09 127.64 624.17 129.45 627.26C131.26 630.34 133.27 633.81 134.54 636.51C135.81 639.21 136.59 641.52 137.09 643.45C137.59 645.38 137.74 646.15 137.55 648.08C137.36 650.01 136.89 652.71 135.93 655.02C134.97 657.33 133.62 659.26 131.76 661.96C129.91 664.66 127.33 668.13 124.82 671.22C122.32 674.3 119.12 677.77 116.73 680.47C114.33 683.17 112.21 685.1 110.48 687.41C108.74 689.73 107.24 692.23 106.31 694.35C105.39 696.48 105.31 698.4 104.93 700.14C104.54 701.87 104.15 704 104 704.77C103.85 704 103.46 701.87 103.07 700.14C102.69 698.4 102.61 696.48 101.69 694.35C100.76 692.23 99.26 689.73 97.52 687.41C95.79 685.1 93.67 683.17 91.27 680.47C88.88 677.77 85.68 674.3 83.18 671.22C80.67 668.13 78.09 664.66 76.24 661.96C74.38 659.26 73.03 657.33 72.07 655.02C71.11 652.71 70.64 650.01 70.45 648.08C70.26 646.15 70.41 645.38 70.91 643.45C71.41 641.52 72.19 639.21 73.46 636.51C74.73 633.81 76.74 630.34 78.55 627.26C80.36 624.17 82.21 621.09 84.33 618C86.45 614.92 88.96 611.83 91.27 608.75C93.59 605.66 96.4 602.19 98.22 599.49C100.03 596.79 101.18 595.44 102.15 592.55C103.11 589.66 103.69 583.87 104 582.14Z" fill="#E5716A" stroke="#000" stroke-width="2" stroke-linejoin="round"/>
<line x1="104" y1="606.9" x2="104" y2="679.3" stroke="#000" stroke-width="1.9"/>
<rect x="96.8" y="637" width="14.4" height="26.8" fill="#fff" stroke="#000" stroke-width="1.9"/>
<line x1="96.8" y1="646.5" x2="111.2" y2="646.5" stroke="#000" stroke-width="4.4"/>
<path d="M174.9 574.5C175.13 576.35 175.44 582.6 176.29 585.61C177.14 588.62 178.29 590.24 179.99 592.55C181.69 594.86 184.62 597.18 186.47 599.49C188.32 601.8 189.86 603.73 191.1 606.43C192.33 609.13 193.02 612.6 193.87 615.69C194.72 618.77 195.3 621.86 196.19 624.94C197.07 628.03 198.11 631.11 199.19 634.2C200.27 637.28 201.78 640.37 202.66 643.45C203.55 646.54 204.13 650.01 204.52 652.71C204.9 655.41 205.36 657.33 204.98 659.65C204.59 661.96 203.55 664.28 202.2 666.59C200.85 668.9 198.92 671.22 196.88 673.53C194.84 675.84 192.25 678.16 189.94 680.47C187.63 682.79 185.04 685.1 183 687.41C180.95 689.73 178.83 692.23 177.68 694.35C176.52 696.48 176.52 698.13 176.06 700.14C175.59 702.14 175.09 705.34 174.9 706.39C174.71 705.34 174.21 702.14 173.74 700.14C173.28 698.13 173.28 696.48 172.12 694.35C170.97 692.23 168.85 689.73 166.8 687.41C164.76 685.1 162.17 682.79 159.86 680.47C157.55 678.16 154.96 675.84 152.92 673.53C150.88 671.22 148.95 668.9 147.6 666.59C146.25 664.28 145.21 661.96 144.82 659.65C144.44 657.33 144.9 655.41 145.28 652.71C145.67 650.01 146.25 646.54 147.14 643.45C148.02 640.37 149.53 637.28 150.61 634.2C151.69 631.11 152.73 628.03 153.61 624.94C154.5 621.86 155.08 618.77 155.93 615.69C156.78 612.6 157.47 609.13 158.7 606.43C159.94 603.73 161.48 601.8 163.33 599.49C165.18 597.18 168.11 594.86 169.81 592.55C171.51 590.24 172.66 588.62 173.51 585.61C174.36 582.6 174.67 576.35 174.9 574.5Z" fill="#70A62B" stroke="#000" stroke-width="2" stroke-linejoin="round"/>
<line x1="174.9" y1="606.4" x2="174.9" y2="674.7" stroke="#000" stroke-width="1.9"/>
<rect x="167.7" y="626.1" width="14.4" height="33.5" fill="#fff" stroke="#000" stroke-width="1.9"/>
<line x1="167.7" y1="649.2" x2="182.1" y2="649.2" stroke="#000" stroke-width="4.4"/>
<path d="M245.9 554.37C246.05 556.88 246.44 564.98 246.83 569.41C247.21 573.85 247.4 577.9 248.21 580.98C249.02 584.07 250.33 585.61 251.68 587.92C253.03 590.24 254.77 592.55 256.31 594.86C257.85 597.18 259.2 599.11 260.94 601.8C262.67 604.5 265.07 607.97 266.72 611.06C268.38 614.14 269.73 617.23 270.89 620.31C272.05 623.4 272.82 626.48 273.66 629.57C274.51 632.65 275.4 636.13 275.98 638.82C276.56 641.52 277.21 643.45 277.14 645.77C277.06 648.08 276.87 650.01 275.52 652.71C274.17 655.41 271.47 658.88 269.04 661.96C266.61 665.05 263.45 668.13 260.94 671.22C258.43 674.3 255.93 677.77 254 680.47C252.07 683.17 250.49 685.1 249.37 687.41C248.25 689.73 247.87 691.66 247.29 694.35C246.71 697.05 246.13 702.07 245.9 703.61C245.67 702.07 245.09 697.05 244.51 694.35C243.93 691.66 243.55 689.73 242.43 687.41C241.31 685.1 239.73 683.17 237.8 680.47C235.87 677.77 233.37 674.3 230.86 671.22C228.35 668.13 225.19 665.05 222.76 661.96C220.33 658.88 217.63 655.41 216.28 652.71C214.93 650.01 214.74 648.08 214.66 645.77C214.59 643.45 215.24 641.52 215.82 638.82C216.4 636.13 217.29 632.65 218.14 629.57C218.98 626.48 219.75 623.4 220.91 620.31C222.07 617.23 223.42 614.14 225.08 611.06C226.73 607.97 229.13 604.5 230.86 601.8C232.6 599.11 233.95 597.18 235.49 594.86C237.03 592.55 238.77 590.24 240.12 587.92C241.47 585.61 242.78 584.07 243.59 580.98C244.4 577.9 244.59 573.85 244.97 569.41C245.36 564.98 245.75 556.88 245.9 554.37Z" fill="#2AACB0" stroke="#000" stroke-width="2" stroke-linejoin="round"/>
<line x1="245.9" y1="581" x2="245.9" y2="677" stroke="#000" stroke-width="1.9"/>
<rect x="238.7" y="620.8" width="14.4" height="32.4" fill="#fff" stroke="#000" stroke-width="1.9"/>
<line x1="238.7" y1="639.5" x2="253.1" y2="639.5" stroke="#000" stroke-width="4.4"/>
<path d="M316.9 565.25C317.13 567.48 317.52 575.27 318.29 578.67C319.06 582.06 319.83 583.29 321.53 585.61C323.22 587.92 325.77 590.24 328.47 592.55C331.17 594.86 334.83 597.37 337.72 599.49C340.62 601.61 343.59 603.54 345.82 605.28C348.06 607.01 349.99 608.36 351.14 609.9C352.3 611.45 352.69 612.99 352.76 614.53C352.84 616.07 352.38 617.42 351.61 619.16C350.83 620.89 349.37 623.21 348.14 624.94C346.9 626.68 345.09 628.03 344.2 629.57C343.32 631.11 343.32 632.65 342.81 634.2C342.31 635.74 342.24 636.9 341.19 638.82C340.15 640.75 338.11 643.45 336.57 645.77C335.02 648.08 333.67 650.01 331.94 652.71C330.2 655.41 327.89 658.88 326.15 661.96C324.42 665.05 322.68 668.52 321.53 671.22C320.37 673.92 319.83 675.84 319.21 678.16C318.6 680.47 318.21 682.4 317.83 685.1C317.44 687.8 317.05 692.81 316.9 694.35C316.75 692.81 316.36 687.8 315.97 685.1C315.59 682.4 315.2 680.47 314.59 678.16C313.97 675.84 313.43 673.92 312.27 671.22C311.12 668.52 309.38 665.05 307.65 661.96C305.91 658.88 303.6 655.41 301.86 652.71C300.13 650.01 298.78 648.08 297.23 645.77C295.69 643.45 293.65 640.75 292.61 638.82C291.56 636.9 291.49 635.74 290.99 634.2C290.48 632.65 290.48 631.11 289.6 629.57C288.71 628.03 286.9 626.68 285.66 624.94C284.43 623.21 282.97 620.89 282.19 619.16C281.42 617.42 280.96 616.07 281.04 614.53C281.11 612.99 281.5 611.45 282.66 609.9C283.81 608.36 285.74 607.01 287.98 605.28C290.21 603.54 293.18 601.61 296.08 599.49C298.97 597.37 302.63 594.86 305.33 592.55C308.03 590.24 310.58 587.92 312.27 585.61C313.97 583.29 314.74 582.06 315.51 578.67C316.28 575.27 316.67 567.48 316.9 565.25Z" fill="#A87DC0" stroke="#000" stroke-width="2" stroke-linejoin="round"/>
<line x1="316.9" y1="584.5" x2="316.9" y2="674.7" stroke="#000" stroke-width="1.9"/>
<rect x="309.7" y="612.2" width="14.4" height="28.2" fill="#fff" stroke="#000" stroke-width="1.9"/>
<line x1="309.7" y1="623.8" x2="324.1" y2="623.8" stroke="#000" stroke-width="4.4"/>
<path d="M104 578.1V574.7H174.9V578.1" fill="none" stroke="#111" stroke-width="1.15"/>
<path d="M104 566.3V562.9H245.9V566.3" fill="none" stroke="#111" stroke-width="1.15"/>
<text transform="translate(175.3 567.3)" font-size="19" text-anchor="middle">*</text>
<path d="M104 554.8V551.4H316.9V554.8" fill="none" stroke="#111" stroke-width="1.15"/>
<text transform="translate(220.5 555.8)" font-size="19" text-anchor="middle">****</text>
<path d="M174.9 543.2V539.8H245.9V543.2" fill="none" stroke="#111" stroke-width="1.15"/>
<path d="M174.9 531.2V527.8H316.9V531.2" fill="none" stroke="#111" stroke-width="1.15"/>
<text transform="translate(245.9 531.9)" font-size="19" text-anchor="middle">***</text>
<path d="M245.9 517.7V514.3H316.9V517.7" fill="none" stroke="#111" stroke-width="1.15"/>
<text transform="translate(282.9 518.3)" font-size="19" text-anchor="middle">***</text>
<text transform="translate(100.3 732.2)" font-size="12" text-anchor="middle">CIMP−H</text>
<text transform="translate(173.3 732.2)" font-size="12" text-anchor="middle">CIMP EBV</text>
<text transform="translate(246.5 732.2)" font-size="12" text-anchor="middle">GEA CIMP−L</text>
<text transform="translate(314.8 732.2)" font-size="12" text-anchor="middle">Non−CIMP</text>
<text transform="translate(213.3 754.6) scale(1.01 1)" font-size="19.5" text-anchor="middle">Hypermethylation</text>
</g>
<g id="panelE">
<text transform="translate(431 451.6)" font-size="22.2" font-weight="700">E</text>
<path d="M480.2 462.7V720.9H751.2" fill="none" stroke="#000" stroke-width="1.9" stroke-linejoin="miter"/>
<line x1="477" y1="503.8" x2="480.2" y2="503.8" stroke="#000" stroke-width="1.61"/>
<text transform="translate(466.17 510.75) scale(1.05 1)" font-size="19.3" text-anchor="middle">2</text>
<line x1="477" y1="572" x2="480.2" y2="572" stroke="#000" stroke-width="1.61"/>
<text transform="translate(466.17 578.95) scale(1.05 1)" font-size="19.3" text-anchor="middle">1</text>
<line x1="477" y1="640.2" x2="480.2" y2="640.2" stroke="#000" stroke-width="1.61"/>
<text transform="translate(466.17 647.15) scale(1.05 1)" font-size="19.3" text-anchor="middle">0</text>
<line x1="477" y1="708.4" x2="480.2" y2="708.4" stroke="#000" stroke-width="1.61"/>
<text transform="translate(466.17 715.35) scale(1.05 1)" font-size="19.3" text-anchor="middle">−1</text>
<line x1="511" y1="720.9" x2="511" y2="724.3" stroke="#000" stroke-width="1.61"/>
<line x1="563.2" y1="720.9" x2="563.2" y2="724.3" stroke="#000" stroke-width="1.61"/>
<line x1="615.4" y1="720.9" x2="615.4" y2="724.3" stroke="#000" stroke-width="1.61"/>
<line x1="667.8" y1="720.9" x2="667.8" y2="724.3" stroke="#000" stroke-width="1.61"/>
<line x1="720.1" y1="720.9" x2="720.1" y2="724.3" stroke="#000" stroke-width="1.61"/>
<text transform="translate(451.6 598.1) rotate(-90)" font-size="19.2" text-anchor="middle">Score</text>
<text transform="translate(485 471) scale(1.07 1)" font-size="17.9">Kruskal−Wallis, ****</text>
<path d="M511 568C511.19 571.47 511.77 583.81 512.16 588.82C512.54 593.84 512.74 594.99 513.31 598.08C513.89 601.16 514.74 604.25 515.63 607.33C516.51 610.42 517.75 613.5 518.64 616.59C519.52 619.67 520.49 622.76 520.95 625.84C521.41 628.93 521.37 632.01 521.41 635.1C521.45 638.18 521.37 641.27 521.18 644.35C520.99 647.44 520.72 650.52 520.25 653.61C519.79 656.69 519.1 659.78 518.4 662.86C517.71 665.95 516.86 669.03 516.09 672.12C515.32 675.2 514.39 678.29 513.78 681.37C513.16 684.46 512.85 686.77 512.39 690.63C511.93 694.49 511.23 702.2 511 704.51C510.77 702.2 510.07 694.49 509.61 690.63C509.15 686.77 508.84 684.46 508.22 681.37C507.61 678.29 506.68 675.2 505.91 672.12C505.14 669.03 504.29 665.95 503.6 662.86C502.9 659.78 502.21 656.69 501.75 653.61C501.28 650.52 501.01 647.44 500.82 644.35C500.63 641.27 500.55 638.18 500.59 635.1C500.63 632.01 500.59 628.93 501.05 625.84C501.51 622.76 502.48 619.67 503.36 616.59C504.25 613.5 505.49 610.42 506.37 607.33C507.26 604.25 508.11 601.16 508.69 598.08C509.26 594.99 509.46 593.84 509.84 588.82C510.23 583.81 510.81 571.47 511 568Z" fill="#E5716A" stroke="#000" stroke-width="2" stroke-linejoin="round"/>
<line x1="511" y1="588.8" x2="511" y2="683.7" stroke="#000" stroke-width="1.9"/>
<rect x="506" y="625.8" width="10" height="29.4" fill="#fff" stroke="#000" stroke-width="1.9"/>
<line x1="506" y1="640.2" x2="516" y2="640.2" stroke="#000" stroke-width="3.6"/>
<path d="M563.2 574.94C563.39 578.03 563.89 588.82 564.36 593.45C564.82 598.08 565.21 599.62 565.98 602.71C566.75 605.79 567.98 608.88 568.98 611.96C569.99 615.05 571.22 618.13 571.99 621.22C572.76 624.3 573.3 627.39 573.61 630.47C573.92 633.56 573.84 636.64 573.84 639.73C573.84 642.81 573.92 645.9 573.61 648.98C573.3 652.07 572.65 655.15 571.99 658.24C571.34 661.32 570.49 664.41 569.68 667.49C568.87 670.58 567.9 673.66 567.13 676.75C566.36 679.83 565.55 683.3 565.05 686C564.55 688.7 564.43 690.63 564.13 692.94C563.82 695.26 563.35 698.73 563.2 699.88C563.05 698.73 562.58 695.26 562.27 692.94C561.97 690.63 561.85 688.7 561.35 686C560.85 683.3 560.04 679.83 559.27 676.75C558.5 673.66 557.53 670.58 556.72 667.49C555.91 664.41 555.06 661.32 554.41 658.24C553.75 655.15 553.1 652.07 552.79 648.98C552.48 645.9 552.56 642.81 552.56 639.73C552.56 636.64 552.48 633.56 552.79 630.47C553.1 627.39 553.64 624.3 554.41 621.22C555.18 618.13 556.41 615.05 557.42 611.96C558.42 608.88 559.65 605.79 560.42 602.71C561.19 599.62 561.58 598.08 562.04 593.45C562.51 588.82 563.01 578.03 563.2 574.94Z" fill="#9C9B28" stroke="#000" stroke-width="2" stroke-linejoin="round"/>
<line x1="563.2" y1="592" x2="563.2" y2="680" stroke="#000" stroke-width="1.9"/>
<rect x="558.2" y="627" width="10" height="30.3" fill="#fff" stroke="#000" stroke-width="1.9"/>
<line x1="558.2" y1="641.6" x2="568.2" y2="641.6" stroke="#000" stroke-width="3.6"/>
<path d="M615.4 586.51C615.71 588.05 616.56 593.07 617.25 595.77C617.95 598.47 618.72 600.59 619.56 602.71C620.41 604.83 620.72 606.76 622.34 608.49C623.96 610.23 626.58 611.77 629.28 613.12C631.98 614.47 636.42 615.63 638.54 616.59C640.66 617.55 642.01 617.94 642.01 618.9C642.01 619.87 640.27 621.22 638.54 622.37C636.8 623.53 633.91 624.49 631.6 625.84C629.28 627.19 626.39 628.93 624.65 630.47C622.92 632.01 622.03 633.17 621.18 635.1C620.34 637.03 619.95 639.73 619.56 642.04C619.18 644.35 619.1 647.05 618.87 648.98C618.64 650.91 618.52 652.07 618.18 653.61C617.83 655.15 617.25 656.31 616.79 658.24C616.33 660.17 615.63 664.02 615.4 665.18C615.17 664.02 614.47 660.17 614.01 658.24C613.55 656.31 612.97 655.15 612.62 653.61C612.28 652.07 612.16 650.91 611.93 648.98C611.7 647.05 611.62 644.35 611.24 642.04C610.85 639.73 610.46 637.03 609.62 635.1C608.77 633.17 607.88 632.01 606.15 630.47C604.41 628.93 601.52 627.19 599.2 625.84C596.89 624.49 594 623.53 592.26 622.37C590.53 621.22 588.79 619.87 588.79 618.9C588.79 617.94 590.14 617.55 592.26 616.59C594.38 615.63 598.82 614.47 601.52 613.12C604.22 611.77 606.84 610.23 608.46 608.49C610.08 606.76 610.39 604.83 611.24 602.71C612.08 600.59 612.85 598.47 613.55 595.77C614.24 593.07 615.09 588.05 615.4 586.51Z" fill="#2FAE79" stroke="#000" stroke-width="2" stroke-linejoin="round"/>
<line x1="615.4" y1="602.7" x2="615.4" y2="646.7" stroke="#000" stroke-width="1.9"/>
<rect x="610.2" y="617" width="10.4" height="11.2" fill="#fff" stroke="#000" stroke-width="1.9"/>
<line x1="610.2" y1="620.8" x2="620.6" y2="620.8" stroke="#000" stroke-width="2.6"/>
<circle cx="615.4" cy="596.5" r="1.9" fill="#000"/><circle cx="615.4" cy="646.7" r="1.9" fill="#000"/>
<path d="M667.8 600.39C668.19 601.55 669.34 605.21 670.11 607.33C670.88 609.46 671.85 611.38 672.43 613.12C673.01 614.85 673.58 616.2 673.58 617.75C673.58 619.29 673.08 620.64 672.43 622.37C671.77 624.11 670.19 626.42 669.65 628.16C669.11 629.89 668.92 631.24 669.19 632.79C669.46 634.33 669.96 635.49 671.27 637.41C672.58 639.34 675.13 642.04 677.05 644.35C678.98 646.67 681.22 649.17 682.84 651.3C684.46 653.42 686 655.54 686.77 657.08C687.54 658.62 687.74 659.2 687.47 660.55C687.2 661.9 686.5 663.25 685.15 665.18C683.8 667.11 681.3 669.81 679.37 672.12C677.44 674.43 675.2 676.75 673.58 679.06C671.96 681.37 670.62 683.69 669.65 686C668.69 688.32 668.11 691.79 667.8 692.94C667.49 691.79 666.91 688.32 665.95 686C664.98 683.69 663.64 681.37 662.02 679.06C660.4 676.75 658.16 674.43 656.23 672.12C654.3 669.81 651.8 667.11 650.45 665.18C649.1 663.25 648.4 661.9 648.13 660.55C647.86 659.2 648.06 658.62 648.83 657.08C649.6 655.54 651.14 653.42 652.76 651.3C654.38 649.17 656.62 646.67 658.55 644.35C660.47 642.04 663.02 639.34 664.33 637.41C665.64 635.49 666.14 634.33 666.41 632.79C666.68 631.24 666.49 629.89 665.95 628.16C665.41 626.42 663.83 624.11 663.17 622.37C662.52 620.64 662.02 619.29 662.02 617.75C662.02 616.2 662.59 614.85 663.17 613.12C663.75 611.38 664.72 609.46 665.49 607.33C666.26 605.21 667.41 601.55 667.8 600.39Z" fill="#3097DE" stroke="#000" stroke-width="2" stroke-linejoin="round"/>
<line x1="667.8" y1="648.5" x2="667.8" y2="674.4" stroke="#000" stroke-width="1.9"/>
<rect x="662.6" y="648.5" width="10.4" height="13.2" fill="#fff" stroke="#000" stroke-width="1.9"/>
<line x1="662.6" y1="659.4" x2="673" y2="659.4" stroke="#000" stroke-width="4"/>
<circle cx="667.8" cy="618.4" r="2" fill="#000"/>
<path d="M720.1 551.8C720.29 554.12 720.79 561.83 721.26 565.69C721.72 569.54 722.22 571.86 722.88 574.94C723.53 578.03 724.42 581.11 725.19 584.2C725.96 587.28 726.89 590.37 727.5 593.45C728.12 596.54 728.58 599.62 728.89 602.71C729.2 605.79 729.35 608.88 729.35 611.96C729.35 615.05 729.09 618.13 728.89 621.22C728.7 624.3 728.43 627.39 728.2 630.47C727.97 633.56 727.77 636.64 727.5 639.73C727.23 642.81 726.96 645.9 726.58 648.98C726.19 652.07 725.65 655.15 725.19 658.24C724.73 661.32 724.26 664.41 723.8 667.49C723.34 670.58 722.8 673.66 722.41 676.75C722.03 679.83 721.76 682.92 721.49 686C721.22 689.09 721.03 691.21 720.79 695.26C720.56 699.31 720.22 707.79 720.1 710.3C719.98 707.79 719.64 699.31 719.41 695.26C719.17 691.21 718.98 689.09 718.71 686C718.44 682.92 718.17 679.83 717.79 676.75C717.4 673.66 716.86 670.58 716.4 667.49C715.94 664.41 715.47 661.32 715.01 658.24C714.55 655.15 714.01 652.07 713.62 648.98C713.24 645.9 712.97 642.81 712.7 639.73C712.43 636.64 712.23 633.56 712 630.47C711.77 627.39 711.5 624.3 711.31 621.22C711.11 618.13 710.85 615.05 710.85 611.96C710.85 608.88 711 605.79 711.31 602.71C711.62 599.62 712.08 596.54 712.7 593.45C713.31 590.37 714.24 587.28 715.01 584.2C715.78 581.11 716.67 578.03 717.32 574.94C717.98 571.86 718.48 569.54 718.94 565.69C719.41 561.83 719.91 554.12 720.1 551.8Z" fill="#AF69BC" stroke="#000" stroke-width="2" stroke-linejoin="round"/>
<line x1="720.1" y1="602.7" x2="720.1" y2="659.4" stroke="#000" stroke-width="1.9"/>
<rect x="714.9" y="610.8" width="10.4" height="37.7" fill="#fff" stroke="#000" stroke-width="1.9"/>
<line x1="714.9" y1="611.4" x2="725.3" y2="611.4" stroke="#000" stroke-width="3.6"/>
<path d="M511 589.1V586.5H563.2V589.1" fill="none" stroke="#111" stroke-width="1.15"/>
<path d="M511 578.2V575.6H615.4V578.2" fill="none" stroke="#111" stroke-width="1.15"/>
<text transform="translate(564.2 579.8)" font-size="18" text-anchor="middle">****</text>
<path d="M511 566.5V563.9H667.8V566.5" fill="none" stroke="#111" stroke-width="1.15"/>
<path d="M511 555.9V553.3H720.1V555.9" fill="none" stroke="#111" stroke-width="1.15"/>
<path d="M563.2 545.1V542.5H615.4V545.1" fill="none" stroke="#111" stroke-width="1.15"/>
<text transform="translate(592.6 546.5)" font-size="18" text-anchor="middle">****</text>
<path d="M563.2 534V531.4H667.8V534" fill="none" stroke="#111" stroke-width="1.15"/>
<path d="M563.2 522.7V520.1H720.1V522.7" fill="none" stroke="#111" stroke-width="1.15"/>
<path d="M615.4 512.3V509.7H667.8V512.3" fill="none" stroke="#111" stroke-width="1.15"/>
<text transform="translate(642.7 513.8)" font-size="18" text-anchor="middle">****</text>
<path d="M615.4 500.7V498.1H720.1V500.7" fill="none" stroke="#111" stroke-width="1.15"/>
<path d="M667.8 489.6V487H720.1V489.6" fill="none" stroke="#111" stroke-width="1.15"/>
<text transform="translate(694 491.4)" font-size="18" text-anchor="middle">*</text>
<text transform="translate(511.8 739.2)" font-size="18.6" text-anchor="middle">C1</text>
<text transform="translate(564 739.2)" font-size="18.6" text-anchor="middle">C2</text>
<text transform="translate(616.2 739.2)" font-size="18.6" text-anchor="middle">C3</text>
<text transform="translate(668.6 739.2)" font-size="18.6" text-anchor="middle">C4</text>
<text transform="translate(720.9 739.2)" font-size="18.6" text-anchor="middle">C6</text>
<text transform="translate(618 757.3) scale(1.03 1)" font-size="18.7" text-anchor="middle">Immune_subtype</text>
</g>
<g id="panelF">
<text transform="translate(35 788.4)" font-size="22.2" font-weight="700">F</text>
<path d="M62 792.7V1046.3H354.7" fill="none" stroke="#000" stroke-width="1.65" stroke-linejoin="miter"/>
<line x1="58.8" y1="835.3" x2="62" y2="835.3" stroke="#000" stroke-width="1.4"/>
<text transform="translate(46.33 842.43) scale(1.03 1)" font-size="19.8" text-anchor="middle">2</text>
<line x1="58.8" y1="902.3" x2="62" y2="902.3" stroke="#000" stroke-width="1.4"/>
<text transform="translate(46.33 909.43) scale(1.03 1)" font-size="19.8" text-anchor="middle">1</text>
<line x1="58.8" y1="969.3" x2="62" y2="969.3" stroke="#000" stroke-width="1.4"/>
<text transform="translate(46.33 976.43) scale(1.03 1)" font-size="19.8" text-anchor="middle">0</text>
<line x1="58.8" y1="1036.3" x2="62" y2="1036.3" stroke="#000" stroke-width="1.4"/>
<text transform="translate(46.33 1043.43) scale(1.03 1)" font-size="19.8" text-anchor="middle">−1</text>
<line x1="95.5" y1="1046.3" x2="95.5" y2="1049.7" stroke="#000" stroke-width="1.4"/>
<line x1="152.2" y1="1046.3" x2="152.2" y2="1049.7" stroke="#000" stroke-width="1.4"/>
<line x1="208.5" y1="1046.3" x2="208.5" y2="1049.7" stroke="#000" stroke-width="1.4"/>
<line x1="265.1" y1="1046.3" x2="265.1" y2="1049.7" stroke="#000" stroke-width="1.4"/>
<line x1="321.6" y1="1046.3" x2="321.6" y2="1049.7" stroke="#000" stroke-width="1.4"/>
<text transform="translate(29.3 919.7) rotate(-90) scale(1 1.16)" font-size="17.2" text-anchor="middle">Score</text>
<text transform="translate(65 801.4) scale(1.02 1)" font-size="18.8">Kruskal−Wallis, ****</text>
<path d="M95.5 906.1C95.69 908.22 95.89 915.16 96.66 918.82C97.43 922.49 98.58 924.99 100.13 928.08C101.67 931.16 103.98 934.25 105.91 937.33C107.84 940.42 110.42 943.89 111.7 946.59C112.97 949.29 113.32 951.22 113.55 953.53C113.78 955.84 113.24 958.16 113.08 960.47C112.93 962.79 112.62 965.1 112.62 967.41C112.62 969.73 113.43 972.04 113.08 974.35C112.74 976.67 111.62 978.98 110.54 981.3C109.46 983.61 107.88 985.92 106.61 988.24C105.33 990.55 104.14 992.86 102.9 995.18C101.67 997.49 100.2 999.81 99.2 1002.12C98.2 1004.43 97.39 1006.36 96.89 1009.06C96.39 1011.76 96.43 1015.62 96.19 1018.32C95.96 1021.01 95.62 1024.1 95.5 1025.26C95.38 1024.1 95.04 1021.01 94.81 1018.32C94.57 1015.62 94.61 1011.76 94.11 1009.06C93.61 1006.36 92.8 1004.43 91.8 1002.12C90.8 999.81 89.33 997.49 88.1 995.18C86.86 992.86 85.67 990.55 84.39 988.24C83.12 985.92 81.54 983.61 80.46 981.3C79.38 978.98 78.26 976.67 77.92 974.35C77.57 972.04 78.38 969.73 78.38 967.41C78.38 965.1 78.07 962.79 77.92 960.47C77.76 958.16 77.22 955.84 77.45 953.53C77.68 951.22 78.03 949.29 79.3 946.59C80.58 943.89 83.16 940.42 85.09 937.33C87.02 934.25 89.33 931.16 90.87 928.08C92.42 924.99 93.57 922.49 94.34 918.82C95.11 915.16 95.31 908.22 95.5 906.1Z" fill="#E5716A" stroke="#000" stroke-width="2" stroke-linejoin="round"/>
<line x1="95.5" y1="926" x2="95.5" y2="1010.4" stroke="#000" stroke-width="1.9"/>
<rect x="89.7" y="951.7" width="11.6" height="26.8" fill="#fff" stroke="#000" stroke-width="1.9"/>
<line x1="89.7" y1="965.1" x2="101.3" y2="965.1" stroke="#000" stroke-width="4.5"/>
<path d="M152.2 916.51C152.51 918.05 153.2 923.07 154.05 925.77C154.9 928.47 156.13 930.01 157.29 932.71C158.45 935.41 159.99 938.88 160.99 941.96C161.99 945.05 162.65 948.13 163.31 951.22C163.96 954.3 164.39 957.39 164.93 960.47C165.47 963.56 165.97 966.64 166.55 969.73C167.12 972.81 167.7 975.9 168.4 978.98C169.09 982.07 170.25 985.73 170.71 988.24C171.17 990.74 171.48 992.09 171.17 994.02C170.86 995.95 170.09 997.68 168.86 999.81C167.62 1001.93 165.47 1004.43 163.77 1006.75C162.07 1009.06 160.14 1011.37 158.68 1013.69C157.21 1016 155.86 1018.32 154.98 1020.63C154.09 1022.94 153.82 1025.06 153.36 1027.57C152.89 1030.08 152.39 1034.32 152.2 1035.67C152.01 1034.32 151.51 1030.08 151.04 1027.57C150.58 1025.06 150.31 1022.94 149.42 1020.63C148.54 1018.32 147.19 1016 145.72 1013.69C144.26 1011.37 142.33 1009.06 140.63 1006.75C138.93 1004.43 136.78 1001.93 135.54 999.81C134.31 997.68 133.54 995.95 133.23 994.02C132.92 992.09 133.23 990.74 133.69 988.24C134.15 985.73 135.31 982.07 136 978.98C136.7 975.9 137.28 972.81 137.85 969.73C138.43 966.64 138.93 963.56 139.47 960.47C140.01 957.39 140.44 954.3 141.09 951.22C141.75 948.13 142.41 945.05 143.41 941.96C144.41 938.88 145.95 935.41 147.11 932.71C148.27 930.01 149.5 928.47 150.35 925.77C151.2 923.07 151.89 918.05 152.2 916.51Z" fill="#9C9B28" stroke="#000" stroke-width="2" stroke-linejoin="round"/>
<line x1="152.2" y1="945.4" x2="152.2" y2="1006.7" stroke="#000" stroke-width="1.9"/>
<rect x="146.4" y="962.8" width="11.6" height="30.5" fill="#fff" stroke="#000" stroke-width="1.9"/>
<line x1="146.4" y1="983.6" x2="158" y2="983.6" stroke="#000" stroke-width="4"/>
<path d="M208.5 903.79C208.81 906.29 209.39 914.78 210.35 918.82C211.32 922.87 212.47 924.99 214.28 928.08C216.1 931.16 218.72 934.64 221.23 937.33C223.73 940.03 226.89 942.15 229.32 944.28C231.75 946.4 234.57 948.52 235.8 950.06C237.04 951.6 236.84 952.18 236.73 953.53C236.61 954.88 236.34 956.62 235.11 958.16C233.87 959.7 231.37 961.24 229.32 962.79C227.28 964.33 224.39 965.49 222.85 967.41C221.3 969.34 220.72 972.04 220.07 974.35C219.41 976.67 219.68 978.98 218.91 981.3C218.14 983.61 216.6 985.92 215.44 988.24C214.28 990.55 212.86 993.25 211.97 995.18C211.08 997.11 210.7 998.07 210.12 999.81C209.54 1001.54 208.77 1004.63 208.5 1005.59C208.23 1004.63 207.46 1001.54 206.88 999.81C206.3 998.07 205.92 997.11 205.03 995.18C204.14 993.25 202.72 990.55 201.56 988.24C200.4 985.92 198.86 983.61 198.09 981.3C197.32 978.98 197.59 976.67 196.93 974.35C196.28 972.04 195.7 969.34 194.15 967.41C192.61 965.49 189.72 964.33 187.68 962.79C185.63 961.24 183.13 959.7 181.89 958.16C180.66 956.62 180.39 954.88 180.27 953.53C180.16 952.18 179.96 951.6 181.2 950.06C182.43 948.52 185.25 946.4 187.68 944.28C190.11 942.15 193.27 940.03 195.77 937.33C198.28 934.64 200.9 931.16 202.72 928.08C204.53 924.99 205.68 922.87 206.65 918.82C207.61 914.78 208.19 906.29 208.5 903.79Z" fill="#2FAE79" stroke="#000" stroke-width="2" stroke-linejoin="round"/>
<line x1="208.5" y1="933.9" x2="208.5" y2="988.2" stroke="#000" stroke-width="1.9"/>
<rect x="202.8" y="948.4" width="11.4" height="17.2" fill="#fff" stroke="#000" stroke-width="1.9"/>
<line x1="202.8" y1="957" x2="214.2" y2="957" stroke="#000" stroke-width="4"/>
<path d="M265.1 916.51C265.33 918.05 265.91 923.07 266.49 925.77C267.07 928.47 267.57 930.01 268.57 932.71C269.57 935.41 271.15 938.88 272.5 941.96C273.85 945.05 275.28 948.52 276.67 951.22C278.06 953.92 279.48 955.84 280.83 958.16C282.18 960.47 283.92 963.36 284.77 965.1C285.62 966.83 286.04 967.03 285.92 968.57C285.81 970.11 285.15 972.23 284.07 974.35C282.99 976.48 280.76 978.98 279.45 981.3C278.13 983.61 277.13 985.54 276.21 988.24C275.28 990.94 274.66 994.41 273.89 997.49C273.12 1000.58 272.35 1004.05 271.58 1006.75C270.81 1009.45 270.04 1011.37 269.26 1013.69C268.49 1016 267.65 1017.74 266.95 1020.63C266.26 1023.52 265.41 1029.31 265.1 1031.04C264.79 1029.31 263.94 1023.52 263.25 1020.63C262.55 1017.74 261.71 1016 260.94 1013.69C260.16 1011.37 259.39 1009.45 258.62 1006.75C257.85 1004.05 257.08 1000.58 256.31 997.49C255.54 994.41 254.92 990.94 253.99 988.24C253.07 985.54 252.07 983.61 250.75 981.3C249.44 978.98 247.21 976.48 246.13 974.35C245.05 972.23 244.39 970.11 244.28 968.57C244.16 967.03 244.58 966.83 245.43 965.1C246.28 963.36 248.02 960.47 249.37 958.16C250.72 955.84 252.14 953.92 253.53 951.22C254.92 948.52 256.35 945.05 257.7 941.96C259.05 938.88 260.63 935.41 261.63 932.71C262.63 930.01 263.13 928.47 263.71 925.77C264.29 923.07 264.87 918.05 265.1 916.51Z" fill="#3097DE" stroke="#000" stroke-width="2" stroke-linejoin="round"/>
<line x1="265.1" y1="943.1" x2="265.1" y2="1004.4" stroke="#000" stroke-width="1.9"/>
<rect x="259.3" y="965.1" width="11.6" height="19" fill="#fff" stroke="#000" stroke-width="1.9"/>
<line x1="259.3" y1="967.3" x2="270.9" y2="967.3" stroke="#000" stroke-width="3.4"/>
<path d="M321.6 925.3C321.83 926.92 322.41 932.24 322.99 935.02C323.57 937.8 324.15 939.26 325.07 941.96C326 944.66 327.38 948.13 328.54 951.22C329.7 954.3 330.85 957.39 332.01 960.47C333.17 963.56 334.4 966.64 335.48 969.73C336.56 972.81 337.72 976.28 338.49 978.98C339.26 981.68 339.76 984 340.11 985.92C340.46 987.85 340.77 988.62 340.57 990.55C340.38 992.48 339.88 995.18 338.95 997.49C338.03 999.81 336.45 1002.12 335.02 1004.43C333.59 1006.75 331.93 1009.06 330.39 1011.37C328.85 1013.69 327 1016 325.76 1018.32C324.53 1020.63 323.68 1022.75 322.99 1025.26C322.29 1027.76 321.83 1032.01 321.6 1033.35C321.37 1032.01 320.91 1027.76 320.21 1025.26C319.52 1022.75 318.67 1020.63 317.44 1018.32C316.2 1016 314.35 1013.69 312.81 1011.37C311.27 1009.06 309.61 1006.75 308.18 1004.43C306.75 1002.12 305.17 999.81 304.25 997.49C303.32 995.18 302.82 992.48 302.63 990.55C302.43 988.62 302.74 987.85 303.09 985.92C303.44 984 303.94 981.68 304.71 978.98C305.48 976.28 306.64 972.81 307.72 969.73C308.8 966.64 310.03 963.56 311.19 960.47C312.35 957.39 313.5 954.3 314.66 951.22C315.82 948.13 317.2 944.66 318.13 941.96C319.05 939.26 319.63 937.8 320.21 935.02C320.79 932.24 321.37 926.92 321.6 925.3Z" fill="#AF69BC" stroke="#000" stroke-width="2" stroke-linejoin="round"/>
<line x1="321.6" y1="947.7" x2="321.6" y2="1011.4" stroke="#000" stroke-width="1.9"/>
<rect x="315.8" y="971.6" width="11.6" height="26.6" fill="#fff" stroke="#000" stroke-width="1.9"/>
<line x1="315.8" y1="985.5" x2="327.4" y2="985.5" stroke="#000" stroke-width="4"/>
<path d="M95.5 919.6V917H152.2V919.6" fill="none" stroke="#111" stroke-width="1.15"/>
<text transform="translate(125.1 921.55) scale(1.12 1)" font-size="18.5" text-anchor="middle">**</text>
<path d="M95.5 908.6V906H208.5V908.6" fill="none" stroke="#111" stroke-width="1.15"/>
<text transform="translate(152.2 910.05) scale(1.12 1)" font-size="18.5" text-anchor="middle">*</text>
<path d="M95.5 897.6V895H265.1V897.6" fill="none" stroke="#111" stroke-width="1.15"/>
<path d="M95.5 887.4V884.8H321.6V887.4" fill="none" stroke="#111" stroke-width="1.15"/>
<text transform="translate(211.2 890.55) scale(1.12 1)" font-size="18.5" text-anchor="middle">****</text>
<path d="M152.2 876.6V874H208.5V876.6" fill="none" stroke="#111" stroke-width="1.15"/>
<text transform="translate(182.8 877.85) scale(1.12 1)" font-size="18.5" text-anchor="middle">****</text>
<path d="M152.2 865.4V862.8H265.1V865.4" fill="none" stroke="#111" stroke-width="1.15"/>
<path d="M152.2 855V852.4H321.6V855" fill="none" stroke="#111" stroke-width="1.15"/>
<path d="M208.5 844.2V841.6H265.1V844.2" fill="none" stroke="#111" stroke-width="1.15"/>
<path d="M208.5 833V830.4H321.6V833" fill="none" stroke="#111" stroke-width="1.15"/>
<text transform="translate(265.6 834.35) scale(1.12 1)" font-size="18.5" text-anchor="middle">****</text>
<path d="M265.1 819.6V817H321.6V819.6" fill="none" stroke="#111" stroke-width="1.15"/>
<text transform="translate(95.1 1063.5) scale(1.08 1)" font-size="15.5" text-anchor="middle">CIN</text>
<text transform="translate(152.2 1063.5) scale(1.08 1)" font-size="15.5" text-anchor="middle">EBV</text>
<text transform="translate(206.6 1063.5) scale(1.08 1)" font-size="15.5" text-anchor="middle">GS</text>
<text transform="translate(265.6 1063.5) scale(1.08 1)" font-size="15.5" text-anchor="middle">HM−SNV</text>
<text transform="translate(322.8 1063.5) scale(1.08 1)" font-size="15.5" text-anchor="middle">MSI</text>
<text transform="translate(208 1084.6) scale(1.05 1)" font-size="20.2" text-anchor="middle">Molecular_subtype</text>
</g>
<g id="panelG">
<text transform="translate(432.5 789.2)" font-size="22.2" font-weight="700">G</text>
<path d="M477 809.7V1043.6H744.5" fill="none" stroke="#000" stroke-width="1.65" stroke-linejoin="miter"/>
<line x1="473.8" y1="819.6" x2="477" y2="819.6" stroke="#000" stroke-width="1.4"/>
<text transform="translate(470.8 826.04) scale(1.23 1)" font-size="17.9" text-anchor="end">1.5</text>
<line x1="473.8" y1="863.5" x2="477" y2="863.5" stroke="#000" stroke-width="1.4"/>
<text transform="translate(470.8 869.94) scale(1.23 1)" font-size="17.9" text-anchor="end">1.0</text>
<line x1="473.8" y1="907.4" x2="477" y2="907.4" stroke="#000" stroke-width="1.4"/>
<text transform="translate(470.8 913.84) scale(1.23 1)" font-size="17.9" text-anchor="end">0.5</text>
<line x1="473.8" y1="951.3" x2="477" y2="951.3" stroke="#000" stroke-width="1.4"/>
<text transform="translate(470.8 957.74) scale(1.23 1)" font-size="17.9" text-anchor="end">0.0</text>
<line x1="473.8" y1="995.2" x2="477" y2="995.2" stroke="#000" stroke-width="1.4"/>
<text transform="translate(470.8 1001.64) scale(1.23 1)" font-size="17.9" text-anchor="end">−0.5</text>
<line x1="473.8" y1="1039.1" x2="477" y2="1039.1" stroke="#000" stroke-width="1.4"/>
<text transform="translate(470.8 1045.54) scale(1.23 1)" font-size="17.9" text-anchor="end">−1.0</text>
<line x1="526.6" y1="1043.6" x2="526.6" y2="1047" stroke="#000" stroke-width="1.4"/>
<line x1="609.8" y1="1043.6" x2="609.8" y2="1047" stroke="#000" stroke-width="1.4"/>
<line x1="693.5" y1="1043.6" x2="693.5" y2="1047" stroke="#000" stroke-width="1.4"/>
<text transform="translate(422.3 919) rotate(-90) scale(1 1.13)" font-size="17.1" text-anchor="middle">Score</text>
<text transform="translate(486 819.8) scale(1.08 1)" font-size="17.6">Kruskal−Wallis, ****</text>
<path d="M526.6 867.51C526.79 869.25 526.99 874.64 527.76 877.92C528.53 881.2 529.49 884.09 531.23 887.18C532.96 890.26 535.47 893.35 538.17 896.43C540.87 899.52 544.53 902.99 547.42 905.69C550.32 908.39 552.82 910.31 555.52 912.63C558.22 914.94 561.69 917.64 563.62 919.57C565.55 921.5 566.24 922.65 567.09 924.2C567.94 925.74 568.83 926.9 568.71 928.82C568.59 930.75 567.55 933.45 566.4 935.77C565.24 938.08 562.69 940.39 561.77 942.71C560.84 945.02 560.73 947.33 560.84 949.65C560.96 951.96 562.39 954.28 562.46 956.59C562.54 958.9 562.73 960.83 561.31 963.53C559.88 966.23 556.6 969.7 553.9 972.79C551.2 975.87 547.93 978.96 545.11 982.04C542.29 985.13 539.4 988.21 537.01 991.3C534.62 994.38 532.23 997.85 530.76 1000.55C529.3 1003.25 528.91 1003.83 528.22 1007.49C527.53 1011.16 526.87 1020.02 526.6 1022.53C526.33 1020.02 525.67 1011.16 524.98 1007.49C524.29 1003.83 523.9 1003.25 522.44 1000.55C520.97 997.85 518.58 994.38 516.19 991.3C513.8 988.21 510.91 985.13 508.09 982.04C505.27 978.96 502 975.87 499.3 972.79C496.6 969.7 493.32 966.23 491.89 963.53C490.47 960.83 490.66 958.9 490.74 956.59C490.81 954.28 492.24 951.96 492.36 949.65C492.47 947.33 492.36 945.02 491.43 942.71C490.51 940.39 487.96 938.08 486.8 935.77C485.65 933.45 484.61 930.75 484.49 928.82C484.37 926.9 485.26 925.74 486.11 924.2C486.96 922.65 487.65 921.5 489.58 919.57C491.51 917.64 494.98 914.94 497.68 912.63C500.38 910.31 502.88 908.39 505.78 905.69C508.67 902.99 512.33 899.52 515.03 896.43C517.73 893.35 520.24 890.26 521.97 887.18C523.71 884.09 524.67 881.2 525.44 877.92C526.21 874.64 526.41 869.25 526.6 867.51Z" fill="#E5716A" stroke="#000" stroke-width="2" stroke-linejoin="round"/>
<line x1="526.6" y1="888.3" x2="526.6" y2="1000.5" stroke="#000" stroke-width="1.9"/>
<rect x="518" y="926" width="17.2" height="37.1" fill="#fff" stroke="#000" stroke-width="1.9"/>
<line x1="518" y1="942.7" x2="535.2" y2="942.7" stroke="#000" stroke-width="5"/>
<path d="M609.8 868.67C609.99 870.98 610.38 878.69 610.96 882.55C611.54 886.41 612 888.72 613.27 891.8C614.54 894.89 616.28 897.97 618.59 901.06C620.91 904.14 624.18 907.23 627.15 910.31C630.12 913.4 633.71 916.48 636.41 919.57C639.11 922.65 641.69 925.74 643.35 928.82C645.01 931.91 645.78 934.99 646.36 938.08C646.94 941.16 647.05 944.25 646.82 947.33C646.59 950.42 645.93 953.5 644.97 956.59C644 959.67 642.46 963.15 641.04 965.84C639.61 968.54 637.56 970.47 636.41 972.79C635.25 975.1 634.98 977.03 634.09 979.73C633.21 982.43 632.63 985.9 631.09 988.98C629.54 992.07 627.04 995.15 624.84 998.24C622.64 1001.32 619.94 1004.41 617.9 1007.49C615.85 1010.58 613.73 1014.05 612.58 1016.75C611.42 1019.45 611.42 1020.99 610.96 1023.69C610.49 1026.39 609.99 1031.4 609.8 1032.94C609.61 1031.4 609.11 1026.39 608.64 1023.69C608.18 1020.99 608.18 1019.45 607.02 1016.75C605.87 1014.05 603.75 1010.58 601.7 1007.49C599.66 1004.41 596.96 1001.32 594.76 998.24C592.56 995.15 590.06 992.07 588.51 988.98C586.97 985.9 586.39 982.43 585.51 979.73C584.62 977.03 584.35 975.1 583.19 972.79C582.04 970.47 579.99 968.54 578.56 965.84C577.14 963.15 575.6 959.67 574.63 956.59C573.67 953.5 573.01 950.42 572.78 947.33C572.55 944.25 572.66 941.16 573.24 938.08C573.82 934.99 574.59 931.91 576.25 928.82C577.91 925.74 580.49 922.65 583.19 919.57C585.89 916.48 589.48 913.4 592.45 910.31C595.42 907.23 598.69 904.14 601.01 901.06C603.32 897.97 605.06 894.89 606.33 891.8C607.6 888.72 608.06 886.41 608.64 882.55C609.22 878.69 609.61 870.98 609.8 868.67Z" fill="#2EA23A" stroke="#000" stroke-width="2" stroke-linejoin="round"/>
<line x1="609.8" y1="901.1" x2="609.8" y2="1001.7" stroke="#000" stroke-width="1.9"/>
<rect x="601.4" y="935.3" width="16.8" height="41" fill="#fff" stroke="#000" stroke-width="1.9"/>
<line x1="601.4" y1="956.1" x2="618.2" y2="956.1" stroke="#000" stroke-width="5"/>
<path d="M693.5 894.12C693.73 896.05 694.19 902.6 694.89 905.69C695.58 908.77 695.97 909.93 697.66 912.63C699.36 915.33 702.49 918.8 705.07 921.88C707.65 924.97 710.66 928.05 713.17 931.14C715.67 934.22 717.79 936.92 720.11 940.39C722.42 943.86 725.12 948.11 727.05 951.96C728.98 955.82 730.64 960.06 731.68 963.53C732.72 967 733.18 970.09 733.3 972.79C733.41 975.49 733.41 977.03 732.37 979.73C731.33 982.43 729.48 985.9 727.05 988.98C724.62 992.07 721.07 995.15 717.79 998.24C714.52 1001.32 710.58 1004.41 707.38 1007.49C704.18 1010.58 700.6 1014.05 698.59 1016.75C696.58 1019.45 696.2 1020.91 695.35 1023.69C694.5 1026.46 693.81 1031.79 693.5 1033.41C693.19 1031.79 692.5 1026.46 691.65 1023.69C690.8 1020.91 690.42 1019.45 688.41 1016.75C686.4 1014.05 682.82 1010.58 679.62 1007.49C676.42 1004.41 672.48 1001.32 669.21 998.24C665.93 995.15 662.38 992.07 659.95 988.98C657.52 985.9 655.67 982.43 654.63 979.73C653.59 977.03 653.59 975.49 653.7 972.79C653.82 970.09 654.28 967 655.32 963.53C656.36 960.06 658.02 955.82 659.95 951.96C661.88 948.11 664.58 943.86 666.89 940.39C669.21 936.92 671.33 934.22 673.83 931.14C676.34 928.05 679.35 924.97 681.93 921.88C684.51 918.8 687.64 915.33 689.34 912.63C691.03 909.93 691.42 908.77 692.11 905.69C692.81 902.6 693.27 896.05 693.5 894.12Z" fill="#5D8CC9" stroke="#000" stroke-width="2" stroke-linejoin="round"/>
<line x1="693.5" y1="922.3" x2="693.5" y2="1005.6" stroke="#000" stroke-width="1.9"/>
<rect x="685.1" y="953.1" width="16.8" height="35.4" fill="#fff" stroke="#000" stroke-width="1.9"/>
<line x1="685.1" y1="972.3" x2="701.9" y2="972.3" stroke="#000" stroke-width="5"/>
<path d="M526.6 874.9V872.1H609.8V874.9" fill="none" stroke="#111" stroke-width="1.15"/>
<text transform="translate(570.4 876.25) scale(1.12 1)" font-size="18.5" text-anchor="middle">**</text>
<path d="M526.6 859.4V856.6H693.5V859.4" fill="none" stroke="#111" stroke-width="1.15"/>
<text transform="translate(610.4 860.55) scale(1.12 1)" font-size="18.5" text-anchor="middle">****</text>
<path d="M609.8 844.2V841.4H693.5V844.2" fill="none" stroke="#111" stroke-width="1.15"/>
<text transform="translate(650.2 845.55) scale(1.12 1)" font-size="18.5" text-anchor="middle">**</text>
<text transform="translate(528.8 1064.4) scale(1.26 1)" font-size="17.5" text-anchor="middle">MSS</text>
<text transform="translate(614 1064.4) scale(1.26 1)" font-size="17.5" text-anchor="middle">MSI.L</text>
<text transform="translate(698.1 1064.4) scale(1.26 1)" font-size="17.5" text-anchor="middle">MSI.H</text>
<text transform="translate(616.7 1087.3) scale(1.19 1)" font-size="17.8" text-anchor="middle">MSI Status</text>
</g>
<g id="panelH">
<text transform="translate(159.3 1109.8)" font-size="22.2" font-weight="700">H</text>
<g fill-opacity="0.55">
<path d="M216.3 1121.2C237.9 1121.2 237.9 1223.9 259.5 1223.9L259.5 1228.13C237.9 1228.13 237.9 1125.53 216.3 1125.53Z" fill="#66C2A5"/>
<path d="M216.3 1125.23C237.9 1125.23 237.9 1227.83 259.5 1227.83L259.5 1232.07C237.9 1232.07 237.9 1129.55 216.3 1129.55Z" fill="#66C2A5"/>
<path d="M216.3 1129.25C237.9 1129.25 237.9 1231.77 259.5 1231.77L259.5 1236C237.9 1236 237.9 1133.58 216.3 1133.58Z" fill="#66C2A5"/>
<path d="M216.3 1133.28C237.9 1133.28 237.9 1235.7 259.5 1235.7L259.5 1239.64C237.9 1239.64 237.9 1137.3 216.3 1137.3Z" fill="#66C2A5"/>
<path d="M216.3 1142.3C237.9 1142.3 237.9 1120.7 259.5 1120.7L259.5 1125.59C237.9 1125.59 237.9 1146.3 216.3 1146.3Z" fill="#66C2A5"/>
<path d="M216.3 1153.3C237.9 1153.3 237.9 1174.26 259.5 1174.26L259.5 1178.24C237.9 1178.24 237.9 1157.3 216.3 1157.3Z" fill="#66C2A5"/>
<path d="M216.3 1157.3C237.9 1157.3 237.9 1239.64 259.5 1239.64L259.5 1244.11C237.9 1244.11 237.9 1161.87 216.3 1161.87Z" fill="#66C2A5"/>
<path d="M216.3 1161.57C237.9 1161.57 237.9 1243.81 259.5 1243.81L259.5 1248.28C237.9 1248.28 237.9 1166.13 216.3 1166.13Z" fill="#66C2A5"/>
<path d="M216.3 1165.83C237.9 1165.83 237.9 1247.98 259.5 1247.98L259.5 1252.15C237.9 1252.15 237.9 1170.1 216.3 1170.1Z" fill="#66C2A5"/>
<path d="M216.3 1182.4C237.9 1182.4 237.9 1131.84 259.5 1131.84L259.5 1138.08C237.9 1138.08 237.9 1187.5 216.3 1187.5Z" fill="#66C2A5"/>
<path d="M216.3 1200.4C237.9 1200.4 237.9 1159.2 259.5 1159.2L259.5 1165.2C237.9 1165.2 237.9 1206.4 216.3 1206.4Z" fill="#66C2A5"/>
<path d="M216.3 1206.4C237.9 1206.4 237.9 1187.09 259.5 1187.09L259.5 1190.82C237.9 1190.82 237.9 1210.15 216.3 1210.15Z" fill="#66C2A5"/>
<path d="M216.3 1209.85C237.9 1209.85 237.9 1190.52 259.5 1190.52L259.5 1193.96C237.9 1193.96 237.9 1213.3 216.3 1213.3Z" fill="#66C2A5"/>
<path d="M216.3 1228.7C237.9 1228.7 237.9 1209.28 259.5 1209.28L259.5 1214.35C237.9 1214.35 237.9 1233.8 216.3 1233.8Z" fill="#66C2A5"/>
<path d="M216.3 1242.8C237.9 1242.8 237.9 1264.08 259.5 1264.08L259.5 1267.89C237.9 1267.89 237.9 1246.7 216.3 1246.7Z" fill="#66C2A5"/>
<path d="M216.3 1259.5C237.9 1259.5 237.9 1280.4 259.5 1280.4L259.5 1284.79C237.9 1284.79 237.9 1263.98 216.3 1263.98Z" fill="#66C2A5"/>
<path d="M216.3 1263.68C237.9 1263.68 237.9 1284.49 259.5 1284.49L259.5 1288.88C237.9 1288.88 237.9 1268.16 216.3 1268.16Z" fill="#66C2A5"/>
<path d="M216.3 1267.86C237.9 1267.86 237.9 1288.58 259.5 1288.58L259.5 1292.96C237.9 1292.96 237.9 1272.34 216.3 1272.34Z" fill="#66C2A5"/>
<path d="M216.3 1272.04C237.9 1272.04 237.9 1292.66 259.5 1292.66L259.5 1297.05C237.9 1297.05 237.9 1276.52 216.3 1276.52Z" fill="#66C2A5"/>
<path d="M216.3 1276.22C237.9 1276.22 237.9 1296.75 259.5 1296.75L259.5 1301.14C237.9 1301.14 237.9 1280.7 216.3 1280.7Z" fill="#66C2A5"/>
<path d="M216.3 1280.4C237.9 1280.4 237.9 1300.84 259.5 1300.84L259.5 1305.22C237.9 1305.22 237.9 1284.88 216.3 1284.88Z" fill="#66C2A5"/>
<path d="M216.3 1284.58C237.9 1284.58 237.9 1304.92 259.5 1304.92L259.5 1309.31C237.9 1309.31 237.9 1289.06 216.3 1289.06Z" fill="#66C2A5"/>
<path d="M216.3 1288.76C237.9 1288.76 237.9 1309.01 259.5 1309.01L259.5 1313.39C237.9 1313.39 237.9 1293.24 216.3 1293.24Z" fill="#66C2A5"/>
<path d="M216.3 1292.94C237.9 1292.94 237.9 1313.09 259.5 1313.09L259.5 1317.48C237.9 1317.48 237.9 1297.42 216.3 1297.42Z" fill="#66C2A5"/>
<path d="M216.3 1297.12C237.9 1297.12 237.9 1317.18 259.5 1317.18L259.5 1321.57C237.9 1321.57 237.9 1301.6 216.3 1301.6Z" fill="#66C2A5"/>
<path d="M216.3 1301.3C237.9 1301.3 237.9 1321.27 259.5 1321.27L259.5 1325.65C237.9 1325.65 237.9 1305.78 216.3 1305.78Z" fill="#66C2A5"/>
<path d="M216.3 1305.48C237.9 1305.48 237.9 1325.35 259.5 1325.35L259.5 1329.74C237.9 1329.74 237.9 1309.96 216.3 1309.96Z" fill="#66C2A5"/>
<path d="M216.3 1309.66C237.9 1309.66 237.9 1329.44 259.5 1329.44L259.5 1333.83C237.9 1333.83 237.9 1314.14 216.3 1314.14Z" fill="#66C2A5"/>
<path d="M216.3 1313.84C237.9 1313.84 237.9 1333.53 259.5 1333.53L259.5 1337.91C237.9 1337.91 237.9 1318.32 216.3 1318.32Z" fill="#66C2A5"/>
<path d="M216.3 1318.02C237.9 1318.02 237.9 1337.61 259.5 1337.61L259.5 1341.7C237.9 1341.7 237.9 1322.2 216.3 1322.2Z" fill="#66C2A5"/>
<path d="M216.3 1356.5C237.9 1356.5 237.9 1375.23 259.5 1375.23L259.5 1381.1C237.9 1381.1 237.9 1362.5 216.3 1362.5Z" fill="#66C2A5"/>
<path d="M216.3 1367.9C237.9 1367.9 237.9 1386.37 259.5 1386.37L259.5 1391.9C237.9 1391.9 237.9 1373.55 216.3 1373.55Z" fill="#66C2A5"/>
<path d="M216.3 1373.25C237.9 1373.25 237.9 1391.6 259.5 1391.6L259.5 1396.83C237.9 1396.83 237.9 1378.6 216.3 1378.6Z" fill="#66C2A5"/>
<path d="M216.3 1402.7C237.9 1402.7 237.9 1420.39 259.5 1420.39L259.5 1424.92C237.9 1424.92 237.9 1407.33 216.3 1407.33Z" fill="#66C2A5"/>
<path d="M216.3 1407.03C237.9 1407.03 237.9 1424.62 259.5 1424.62L259.5 1429.15C237.9 1429.15 237.9 1411.65 216.3 1411.65Z" fill="#66C2A5"/>
<path d="M216.3 1411.35C237.9 1411.35 237.9 1428.85 259.5 1428.85L259.5 1433.38C237.9 1433.38 237.9 1415.97 216.3 1415.97Z" fill="#66C2A5"/>
<path d="M216.3 1415.67C237.9 1415.67 237.9 1433.08 259.5 1433.08L259.5 1437.31C237.9 1437.31 237.9 1420 216.3 1420Z" fill="#66C2A5"/>
<path d="M216.3 1432.1C237.9 1432.1 237.9 1443.86 259.5 1443.86L259.5 1449.14C237.9 1449.14 237.9 1437.5 216.3 1437.5Z" fill="#66C2A5"/>
<path d="M216.3 1449.5C237.9 1449.5 237.9 1460.87 259.5 1460.87L259.5 1466.15C237.9 1466.15 237.9 1454.9 216.3 1454.9Z" fill="#66C2A5"/>
<path d="M216.3 1466.9C237.9 1466.9 237.9 1477.88 259.5 1477.88L259.5 1483.16C237.9 1483.16 237.9 1472.3 216.3 1472.3Z" fill="#66C2A5"/>
<path d="M216.3 1480C237.9 1480 237.9 1216.34 259.5 1216.34L259.5 1220.32C237.9 1220.32 237.9 1484 216.3 1484Z" fill="#66C2A5"/>
<path d="M216.3 1487.6C237.9 1487.6 237.9 1487.75 259.5 1487.75L259.5 1491.33C237.9 1491.33 237.9 1491.25 216.3 1491.25Z" fill="#66C2A5"/>
<path d="M216.3 1490.95C237.9 1490.95 237.9 1491.03 259.5 1491.03L259.5 1494.3C237.9 1494.3 237.9 1494.3 216.3 1494.3Z" fill="#66C2A5"/>
<path d="M216.3 1108.7C237.9 1108.7 237.9 1108.7 259.5 1108.7L259.5 1114.58C237.9 1114.58 237.9 1113.5 216.3 1113.5Z" fill="#FC8D62" fill-opacity=".49"/>
<path d="M216.3 1113.5C237.9 1113.5 237.9 1166.6 259.5 1166.6L259.5 1170.73C237.9 1170.73 237.9 1117.65 216.3 1117.65Z" fill="#FC8D62" fill-opacity=".49"/>
<path d="M216.3 1117.35C237.9 1117.35 237.9 1170.43 259.5 1170.43L259.5 1174.26C237.9 1174.26 237.9 1121.2 216.3 1121.2Z" fill="#FC8D62" fill-opacity=".49"/>
<path d="M216.3 1137.3C237.9 1137.3 237.9 1114.58 259.5 1114.58L259.5 1120.7C237.9 1120.7 237.9 1142.3 216.3 1142.3Z" fill="#FC8D62" fill-opacity=".49"/>
<path d="M216.3 1146.3C237.9 1146.3 237.9 1144.2 259.5 1144.2L259.5 1148C237.9 1148 237.9 1150.1 216.3 1150.1Z" fill="#FC8D62" fill-opacity=".49"/>
<path d="M216.3 1149.8C237.9 1149.8 237.9 1147.7 259.5 1147.7L259.5 1151.2C237.9 1151.2 237.9 1153.3 216.3 1153.3Z" fill="#FC8D62" fill-opacity=".49"/>
<path d="M216.3 1170.1C237.9 1170.1 237.9 1178.24 259.5 1178.24L259.5 1182.22C237.9 1182.22 237.9 1174.1 216.3 1174.1Z" fill="#FC8D62" fill-opacity=".49"/>
<path d="M216.3 1174.1C237.9 1174.1 237.9 1252.15 259.5 1252.15L259.5 1255.28C237.9 1255.28 237.9 1177.3 216.3 1177.3Z" fill="#FC8D62" fill-opacity=".49"/>
<path d="M216.3 1177.3C237.9 1177.3 237.9 1125.59 259.5 1125.59L259.5 1131.84C237.9 1131.84 237.9 1182.4 216.3 1182.4Z" fill="#FC8D62" fill-opacity=".49"/>
<path d="M216.3 1187.5C237.9 1187.5 237.9 1151.2 259.5 1151.2L259.5 1155.5C237.9 1155.5 237.9 1191.8 216.3 1191.8Z" fill="#FC8D62" fill-opacity=".49"/>
<path d="M216.3 1191.5C237.9 1191.5 237.9 1155.2 259.5 1155.2L259.5 1159.2C237.9 1159.2 237.9 1195.5 216.3 1195.5Z" fill="#FC8D62" fill-opacity=".49"/>
<path d="M216.3 1195.5C237.9 1195.5 237.9 1182.22 259.5 1182.22L259.5 1187.09C237.9 1187.09 237.9 1200.4 216.3 1200.4Z" fill="#FC8D62" fill-opacity=".49"/>
<path d="M216.3 1213.3C237.9 1213.3 237.9 1193.96 259.5 1193.96L259.5 1198.09C237.9 1198.09 237.9 1217.45 216.3 1217.45Z" fill="#FC8D62" fill-opacity=".49"/>
<path d="M216.3 1217.15C237.9 1217.15 237.9 1197.79 259.5 1197.79L259.5 1201.92C237.9 1201.92 237.9 1221.3 216.3 1221.3Z" fill="#FC8D62" fill-opacity=".49"/>
<path d="M216.3 1221C237.9 1221 237.9 1201.62 259.5 1201.62L259.5 1205.75C237.9 1205.75 237.9 1225.15 216.3 1225.15Z" fill="#FC8D62" fill-opacity=".49"/>
<path d="M216.3 1224.85C237.9 1224.85 237.9 1205.45 259.5 1205.45L259.5 1209.28C237.9 1209.28 237.9 1228.7 216.3 1228.7Z" fill="#FC8D62" fill-opacity=".49"/>
<path d="M216.3 1233.8C237.9 1233.8 237.9 1255.28 259.5 1255.28L259.5 1259.98C237.9 1259.98 237.9 1238.6 216.3 1238.6Z" fill="#FC8D62" fill-opacity=".49"/>
<path d="M216.3 1238.3C237.9 1238.3 237.9 1259.68 259.5 1259.68L259.5 1264.08C237.9 1264.08 237.9 1242.8 216.3 1242.8Z" fill="#FC8D62" fill-opacity=".49"/>
<path d="M216.3 1246.7C237.9 1246.7 237.9 1267.89 259.5 1267.89L259.5 1272.88C237.9 1272.88 237.9 1251.8 216.3 1251.8Z" fill="#FC8D62" fill-opacity=".49"/>
<path d="M216.3 1251.8C237.9 1251.8 237.9 1272.88 259.5 1272.88L259.5 1276.94C237.9 1276.94 237.9 1255.95 216.3 1255.95Z" fill="#FC8D62" fill-opacity=".49"/>
<path d="M216.3 1255.65C237.9 1255.65 237.9 1276.64 259.5 1276.64L259.5 1280.4C237.9 1280.4 237.9 1259.5 216.3 1259.5Z" fill="#FC8D62" fill-opacity=".49"/>
<path d="M216.3 1322.2C237.9 1322.2 237.9 1341.7 259.5 1341.7L259.5 1346.19C237.9 1346.19 237.9 1326.79 216.3 1326.79Z" fill="#FC8D62" fill-opacity=".49"/>
<path d="M216.3 1326.49C237.9 1326.49 237.9 1345.89 259.5 1345.89L259.5 1350.38C237.9 1350.38 237.9 1331.08 216.3 1331.08Z" fill="#FC8D62" fill-opacity=".49"/>
<path d="M216.3 1330.78C237.9 1330.78 237.9 1350.08 259.5 1350.08L259.5 1354.57C237.9 1354.57 237.9 1335.36 216.3 1335.36Z" fill="#FC8D62" fill-opacity=".49"/>
<path d="M216.3 1335.06C237.9 1335.06 237.9 1354.27 259.5 1354.27L259.5 1358.76C237.9 1358.76 237.9 1339.65 216.3 1339.65Z" fill="#FC8D62" fill-opacity=".49"/>
<path d="M216.3 1339.35C237.9 1339.35 237.9 1358.46 259.5 1358.46L259.5 1362.96C237.9 1362.96 237.9 1343.94 216.3 1343.94Z" fill="#FC8D62" fill-opacity=".49"/>
<path d="M216.3 1343.64C237.9 1343.64 237.9 1362.66 259.5 1362.66L259.5 1367.15C237.9 1367.15 237.9 1348.22 216.3 1348.22Z" fill="#FC8D62" fill-opacity=".49"/>
<path d="M216.3 1347.92C237.9 1347.92 237.9 1366.85 259.5 1366.85L259.5 1371.34C237.9 1371.34 237.9 1352.51 216.3 1352.51Z" fill="#FC8D62" fill-opacity=".49"/>
<path d="M216.3 1352.21C237.9 1352.21 237.9 1371.04 259.5 1371.04L259.5 1375.23C237.9 1375.23 237.9 1356.5 216.3 1356.5Z" fill="#FC8D62" fill-opacity=".49"/>
<path d="M216.3 1362.5C237.9 1362.5 237.9 1381.1 259.5 1381.1L259.5 1386.37C237.9 1386.37 237.9 1367.9 216.3 1367.9Z" fill="#FC8D62" fill-opacity=".49"/>
<path d="M216.3 1378.6C237.9 1378.6 237.9 1396.83 259.5 1396.83L259.5 1401.06C237.9 1401.06 237.9 1382.92 216.3 1382.92Z" fill="#FC8D62" fill-opacity=".49"/>
<path d="M216.3 1382.62C237.9 1382.62 237.9 1400.76 259.5 1400.76L259.5 1404.99C237.9 1404.99 237.9 1386.93 216.3 1386.93Z" fill="#FC8D62" fill-opacity=".49"/>
<path d="M216.3 1386.63C237.9 1386.63 237.9 1404.69 259.5 1404.69L259.5 1408.91C237.9 1408.91 237.9 1390.95 216.3 1390.95Z" fill="#FC8D62" fill-opacity=".49"/>
<path d="M216.3 1390.65C237.9 1390.65 237.9 1408.61 259.5 1408.61L259.5 1412.84C237.9 1412.84 237.9 1394.97 216.3 1394.97Z" fill="#FC8D62" fill-opacity=".49"/>
<path d="M216.3 1394.67C237.9 1394.67 237.9 1412.54 259.5 1412.54L259.5 1416.77C237.9 1416.77 237.9 1398.98 216.3 1398.98Z" fill="#FC8D62" fill-opacity=".49"/>
<path d="M216.3 1398.68C237.9 1398.68 237.9 1416.47 259.5 1416.47L259.5 1420.39C237.9 1420.39 237.9 1402.7 216.3 1402.7Z" fill="#FC8D62" fill-opacity=".49"/>
<path d="M216.3 1420C237.9 1420 237.9 1138.08 259.5 1138.08L259.5 1140.53C237.9 1140.53 237.9 1422 216.3 1422Z" fill="#FC8D62" fill-opacity=".49"/>
<path d="M216.3 1422C237.9 1422 237.9 1214.35 259.5 1214.35L259.5 1216.34C237.9 1216.34 237.9 1424 216.3 1424Z" fill="#FC8D62" fill-opacity=".49"/>
<path d="M216.3 1424C237.9 1424 237.9 1165.2 259.5 1165.2L259.5 1166.6C237.9 1166.6 237.9 1425.4 216.3 1425.4Z" fill="#FC8D62" fill-opacity=".49"/>
<path d="M216.3 1425.4C237.9 1425.4 237.9 1437.31 259.5 1437.31L259.5 1440.88C237.9 1440.88 237.9 1429.05 216.3 1429.05Z" fill="#FC8D62" fill-opacity=".49"/>
<path d="M216.3 1428.75C237.9 1428.75 237.9 1440.58 259.5 1440.58L259.5 1443.86C237.9 1443.86 237.9 1432.1 216.3 1432.1Z" fill="#FC8D62" fill-opacity=".49"/>
<path d="M216.3 1437.5C237.9 1437.5 237.9 1449.14 259.5 1449.14L259.5 1453.35C237.9 1453.35 237.9 1441.8 216.3 1441.8Z" fill="#FC8D62" fill-opacity=".49"/>
<path d="M216.3 1441.5C237.9 1441.5 237.9 1453.05 259.5 1453.05L259.5 1457.26C237.9 1457.26 237.9 1445.8 216.3 1445.8Z" fill="#FC8D62" fill-opacity=".49"/>
<path d="M216.3 1445.5C237.9 1445.5 237.9 1456.96 259.5 1456.96L259.5 1460.87C237.9 1460.87 237.9 1449.5 216.3 1449.5Z" fill="#FC8D62" fill-opacity=".49"/>
<path d="M216.3 1454.9C237.9 1454.9 237.9 1466.15 259.5 1466.15L259.5 1470.36C237.9 1470.36 237.9 1459.2 216.3 1459.2Z" fill="#FC8D62" fill-opacity=".49"/>
<path d="M216.3 1458.9C237.9 1458.9 237.9 1470.06 259.5 1470.06L259.5 1474.27C237.9 1474.27 237.9 1463.2 216.3 1463.2Z" fill="#FC8D62" fill-opacity=".49"/>
<path d="M216.3 1462.9C237.9 1462.9 237.9 1473.97 259.5 1473.97L259.5 1477.88C237.9 1477.88 237.9 1466.9 216.3 1466.9Z" fill="#FC8D62" fill-opacity=".49"/>
<path d="M216.3 1472.3C237.9 1472.3 237.9 1483.16 259.5 1483.16L259.5 1487.75C237.9 1487.75 237.9 1477 216.3 1477Z" fill="#FC8D62" fill-opacity=".49"/>
<path d="M216.3 1477C237.9 1477 237.9 1140.53 259.5 1140.53L259.5 1144.2C237.9 1144.2 237.9 1480 216.3 1480Z" fill="#FC8D62" fill-opacity=".49"/>
<path d="M216.3 1484C237.9 1484 237.9 1220.32 259.5 1220.32L259.5 1223.9C237.9 1223.9 237.9 1487.6 216.3 1487.6Z" fill="#FC8D62" fill-opacity=".49"/>
<path d="M282.3 1125.3C304.4 1125.3 304.4 1183.8 326.5 1183.8L326.5 1190.02C304.4 1190.02 304.4 1131.3 282.3 1131.3Z" fill="#66C2A5"/>
<path d="M282.3 1131.3C304.4 1131.3 304.4 1108.7 326.5 1108.7L326.5 1112.11C304.4 1112.11 304.4 1135.3 282.3 1135.3Z" fill="#66C2A5"/>
<path d="M282.3 1158.2C304.4 1158.2 304.4 1202.35 326.5 1202.35L326.5 1207C304.4 1207 304.4 1162.7 282.3 1162.7Z" fill="#66C2A5"/>
<path d="M282.3 1162.4C304.4 1162.4 304.4 1206.7 326.5 1206.7L326.5 1211.06C304.4 1211.06 304.4 1166.6 282.3 1166.6Z" fill="#66C2A5"/>
<path d="M282.3 1172.6C304.4 1172.6 304.4 1121.5 326.5 1121.5L326.5 1124.92C304.4 1124.92 304.4 1176.6 282.3 1176.6Z" fill="#66C2A5"/>
<path d="M282.3 1176.6C304.4 1176.6 304.4 1217.27 326.5 1217.27L326.5 1222.45C304.4 1222.45 304.4 1181.6 282.3 1181.6Z" fill="#66C2A5"/>
<path d="M282.3 1191.6C304.4 1191.6 304.4 1232.82 326.5 1232.82L326.5 1239.04C304.4 1239.04 304.4 1197.6 282.3 1197.6Z" fill="#66C2A5"/>
<path d="M282.3 1205.6C304.4 1205.6 304.4 1247.33 326.5 1247.33L326.5 1252.51C304.4 1252.51 304.4 1210.6 282.3 1210.6Z" fill="#66C2A5"/>
<path d="M282.3 1217.9C304.4 1217.9 304.4 1260.07 326.5 1260.07L326.5 1266.29C304.4 1266.29 304.4 1223.9 282.3 1223.9Z" fill="#66C2A5"/>
<path d="M282.3 1223.9C304.4 1223.9 304.4 1124.92 326.5 1124.92L326.5 1130.02C304.4 1130.02 304.4 1229.88 282.3 1229.88Z" fill="#66C2A5"/>
<path d="M282.3 1238.85C304.4 1238.85 304.4 1130.02 326.5 1130.02L326.5 1134.27C304.4 1134.27 304.4 1243.83 282.3 1243.83Z" fill="#66C2A5"/>
<path d="M282.3 1259.78C304.4 1259.78 304.4 1292.11 326.5 1292.11L326.5 1298.31C304.4 1298.31 304.4 1265.76 282.3 1265.76Z" fill="#66C2A5"/>
<path d="M282.3 1265.76C304.4 1265.76 304.4 1134.27 326.5 1134.27L326.5 1138.26C304.4 1138.26 304.4 1270.38 282.3 1270.38Z" fill="#66C2A5"/>
<path d="M282.3 1270.08C304.4 1270.08 304.4 1137.96 326.5 1137.96L326.5 1141.95C304.4 1141.95 304.4 1274.7 282.3 1274.7Z" fill="#66C2A5"/>
<path d="M282.3 1274.4C304.4 1274.4 304.4 1141.65 326.5 1141.65L326.5 1145.63C304.4 1145.63 304.4 1279.02 282.3 1279.02Z" fill="#66C2A5"/>
<path d="M282.3 1278.72C304.4 1278.72 304.4 1145.33 326.5 1145.33L326.5 1149.32C304.4 1149.32 304.4 1283.34 282.3 1283.34Z" fill="#66C2A5"/>
<path d="M282.3 1283.04C304.4 1283.04 304.4 1149.02 326.5 1149.02L326.5 1153.01C304.4 1153.01 304.4 1287.66 282.3 1287.66Z" fill="#66C2A5"/>
<path d="M282.3 1287.36C304.4 1287.36 304.4 1152.71 326.5 1152.71L326.5 1156.39C304.4 1156.39 304.4 1291.67 282.3 1291.67Z" fill="#66C2A5"/>
<path d="M282.3 1291.67C304.4 1291.67 304.4 1156.39 326.5 1156.39L326.5 1160.09C304.4 1160.09 304.4 1295.96 282.3 1295.96Z" fill="#66C2A5"/>
<path d="M282.3 1295.66C304.4 1295.66 304.4 1159.79 326.5 1159.79L326.5 1163.5C304.4 1163.5 304.4 1299.95 282.3 1299.95Z" fill="#66C2A5"/>
<path d="M282.3 1299.65C304.4 1299.65 304.4 1163.2 326.5 1163.2L326.5 1166.6C304.4 1166.6 304.4 1303.63 282.3 1303.63Z" fill="#66C2A5"/>
<path d="M282.3 1303.63C304.4 1303.63 304.4 1298.31 326.5 1298.31L326.5 1303.25C304.4 1303.25 304.4 1308.42 282.3 1308.42Z" fill="#66C2A5"/>
<path d="M282.3 1308.12C304.4 1308.12 304.4 1302.95 326.5 1302.95L326.5 1307.9C304.4 1307.9 304.4 1312.9 282.3 1312.9Z" fill="#66C2A5"/>
<path d="M282.3 1312.6C304.4 1312.6 304.4 1307.6 326.5 1307.6L326.5 1312.55C304.4 1312.55 304.4 1317.39 282.3 1317.39Z" fill="#66C2A5"/>
<path d="M282.3 1317.09C304.4 1317.09 304.4 1312.25 326.5 1312.25L326.5 1317.2C304.4 1317.2 304.4 1321.87 282.3 1321.87Z" fill="#66C2A5"/>
<path d="M282.3 1321.57C304.4 1321.57 304.4 1316.9 326.5 1316.9L326.5 1321.85C304.4 1321.85 304.4 1326.36 282.3 1326.36Z" fill="#66C2A5"/>
<path d="M282.3 1326.06C304.4 1326.06 304.4 1321.55 326.5 1321.55L326.5 1326.49C304.4 1326.49 304.4 1330.85 282.3 1330.85Z" fill="#66C2A5"/>
<path d="M282.3 1330.55C304.4 1330.55 304.4 1326.19 326.5 1326.19L326.5 1331.14C304.4 1331.14 304.4 1335.33 282.3 1335.33Z" fill="#66C2A5"/>
<path d="M282.3 1335.03C304.4 1335.03 304.4 1330.84 326.5 1330.84L326.5 1335.49C304.4 1335.49 304.4 1339.52 282.3 1339.52Z" fill="#66C2A5"/>
<path d="M282.3 1372.41C304.4 1372.41 304.4 1369.57 326.5 1369.57L326.5 1374.74C304.4 1374.74 304.4 1377.39 282.3 1377.39Z" fill="#66C2A5"/>
<path d="M282.3 1384.96C304.4 1384.96 304.4 1382.59 326.5 1382.59L326.5 1388.05C304.4 1388.05 304.4 1390.25 282.3 1390.25Z" fill="#66C2A5"/>
<path d="M282.3 1389.95C304.4 1389.95 304.4 1387.75 326.5 1387.75L326.5 1392.91C304.4 1392.91 304.4 1394.93 282.3 1394.93Z" fill="#66C2A5"/>
<path d="M282.3 1417.85C304.4 1417.85 304.4 1471.1 326.5 1471.1L326.5 1475.27C304.4 1475.27 304.4 1422.14 282.3 1422.14Z" fill="#66C2A5"/>
<path d="M282.3 1421.84C304.4 1421.84 304.4 1474.97 326.5 1474.97L326.5 1478.83C304.4 1478.83 304.4 1425.83 282.3 1425.83Z" fill="#66C2A5"/>
<path d="M282.3 1435.79C304.4 1435.79 304.4 1427 326.5 1427L326.5 1431.43C304.4 1431.43 304.4 1440.08 282.3 1440.08Z" fill="#66C2A5"/>
<path d="M282.3 1439.78C304.4 1439.78 304.4 1431.13 326.5 1431.13L326.5 1435.26C304.4 1435.26 304.4 1443.77 282.3 1443.77Z" fill="#66C2A5"/>
<path d="M282.3 1455.73C304.4 1455.73 304.4 1447.65 326.5 1447.65L326.5 1451.57C304.4 1451.57 304.4 1459.52 282.3 1459.52Z" fill="#66C2A5"/>
<path d="M282.3 1459.22C304.4 1459.22 304.4 1451.27 326.5 1451.27L326.5 1454.88C304.4 1454.88 304.4 1462.71 282.3 1462.71Z" fill="#66C2A5"/>
<path d="M282.3 1478.65C304.4 1478.65 304.4 1465.21 326.5 1465.21L326.5 1471.1C304.4 1471.1 304.4 1484.33 282.3 1484.33Z" fill="#66C2A5"/>
<path d="M282.3 1489.72C304.4 1489.72 304.4 1489.85 326.5 1489.85L326.5 1494.3C304.4 1494.3 304.4 1494.3 282.3 1494.3Z" fill="#66C2A5"/>
<path d="M282.3 1108.7C304.4 1108.7 304.4 1166.6 326.5 1166.6L326.5 1171.2C304.4 1171.2 304.4 1113.15 282.3 1113.15Z" fill="#FC8D62" fill-opacity=".49"/>
<path d="M282.3 1112.85C304.4 1112.85 304.4 1170.9 326.5 1170.9L326.5 1175.5C304.4 1175.5 304.4 1117.3 282.3 1117.3Z" fill="#FC8D62" fill-opacity=".49"/>
<path d="M282.3 1117C304.4 1117 304.4 1175.2 326.5 1175.2L326.5 1179.8C304.4 1179.8 304.4 1121.45 282.3 1121.45Z" fill="#FC8D62" fill-opacity=".49"/>
<path d="M282.3 1121.15C304.4 1121.15 304.4 1179.5 326.5 1179.5L326.5 1183.8C304.4 1183.8 304.4 1125.3 282.3 1125.3Z" fill="#FC8D62" fill-opacity=".49"/>
<path d="M282.3 1135.3C304.4 1135.3 304.4 1190.02 326.5 1190.02L326.5 1194.93C304.4 1194.93 304.4 1140.05 282.3 1140.05Z" fill="#FC8D62" fill-opacity=".49"/>
<path d="M282.3 1139.75C304.4 1139.75 304.4 1194.63 326.5 1194.63L326.5 1199.24C304.4 1199.24 304.4 1144.2 282.3 1144.2Z" fill="#FC8D62" fill-opacity=".49"/>
<path d="M282.3 1144.2C304.4 1144.2 304.4 1112.11 326.5 1112.11L326.5 1115.54C304.4 1115.54 304.4 1148.17 282.3 1148.17Z" fill="#FC8D62" fill-opacity=".49"/>
<path d="M282.3 1147.87C304.4 1147.87 304.4 1115.24 326.5 1115.24L326.5 1118.67C304.4 1118.67 304.4 1151.83 282.3 1151.83Z" fill="#FC8D62" fill-opacity=".49"/>
<path d="M282.3 1151.53C304.4 1151.53 304.4 1118.37 326.5 1118.37L326.5 1121.5C304.4 1121.5 304.4 1155.2 282.3 1155.2Z" fill="#FC8D62" fill-opacity=".49"/>
<path d="M282.3 1155.2C304.4 1155.2 304.4 1199.24 326.5 1199.24L326.5 1202.35C304.4 1202.35 304.4 1158.2 282.3 1158.2Z" fill="#FC8D62" fill-opacity=".49"/>
<path d="M282.3 1166.6C304.4 1166.6 304.4 1211.06 326.5 1211.06L326.5 1217.27C304.4 1217.27 304.4 1172.6 282.3 1172.6Z" fill="#FC8D62" fill-opacity=".49"/>
<path d="M282.3 1181.6C304.4 1181.6 304.4 1222.45 326.5 1222.45L326.5 1226.38C304.4 1226.38 304.4 1185.4 282.3 1185.4Z" fill="#FC8D62" fill-opacity=".49"/>
<path d="M282.3 1185.1C304.4 1185.1 304.4 1226.08 326.5 1226.08L326.5 1229.71C304.4 1229.71 304.4 1188.6 282.3 1188.6Z" fill="#FC8D62" fill-opacity=".49"/>
<path d="M282.3 1188.6C304.4 1188.6 304.4 1229.71 326.5 1229.71L326.5 1232.82C304.4 1232.82 304.4 1191.6 282.3 1191.6Z" fill="#FC8D62" fill-opacity=".49"/>
<path d="M282.3 1197.6C304.4 1197.6 304.4 1239.04 326.5 1239.04L326.5 1243.48C304.4 1243.48 304.4 1201.9 282.3 1201.9Z" fill="#FC8D62" fill-opacity=".49"/>
<path d="M282.3 1201.6C304.4 1201.6 304.4 1243.18 326.5 1243.18L326.5 1247.33C304.4 1247.33 304.4 1205.6 282.3 1205.6Z" fill="#FC8D62" fill-opacity=".49"/>
<path d="M282.3 1210.6C304.4 1210.6 304.4 1252.51 326.5 1252.51L326.5 1256.59C304.4 1256.59 304.4 1214.55 282.3 1214.55Z" fill="#FC8D62" fill-opacity=".49"/>
<path d="M282.3 1214.25C304.4 1214.25 304.4 1256.29 326.5 1256.29L326.5 1260.07C304.4 1260.07 304.4 1217.9 282.3 1217.9Z" fill="#FC8D62" fill-opacity=".49"/>
<path d="M282.3 1229.88C304.4 1229.88 304.4 1266.29 326.5 1266.29L326.5 1271.24C304.4 1271.24 304.4 1234.67 282.3 1234.67Z" fill="#FC8D62" fill-opacity=".49"/>
<path d="M282.3 1234.37C304.4 1234.37 304.4 1270.94 326.5 1270.94L326.5 1275.58C304.4 1275.58 304.4 1238.85 282.3 1238.85Z" fill="#FC8D62" fill-opacity=".49"/>
<path d="M282.3 1243.83C304.4 1243.83 304.4 1275.58 326.5 1275.58L326.5 1280.02C304.4 1280.02 304.4 1248.12 282.3 1248.12Z" fill="#FC8D62" fill-opacity=".49"/>
<path d="M282.3 1247.82C304.4 1247.82 304.4 1279.72 326.5 1279.72L326.5 1284.15C304.4 1284.15 304.4 1252.11 282.3 1252.11Z" fill="#FC8D62" fill-opacity=".49"/>
<path d="M282.3 1251.81C304.4 1251.81 304.4 1283.85 326.5 1283.85L326.5 1288.28C304.4 1288.28 304.4 1256.09 282.3 1256.09Z" fill="#FC8D62" fill-opacity=".49"/>
<path d="M282.3 1255.79C304.4 1255.79 304.4 1287.98 326.5 1287.98L326.5 1292.11C304.4 1292.11 304.4 1259.78 282.3 1259.78Z" fill="#FC8D62" fill-opacity=".49"/>
<path d="M282.3 1339.52C304.4 1339.52 304.4 1335.49 326.5 1335.49L326.5 1340.05C304.4 1340.05 304.4 1343.93 282.3 1343.93Z" fill="#FC8D62" fill-opacity=".49"/>
<path d="M282.3 1343.63C304.4 1343.63 304.4 1339.75 326.5 1339.75L326.5 1344.31C304.4 1344.31 304.4 1348.04 282.3 1348.04Z" fill="#FC8D62" fill-opacity=".49"/>
<path d="M282.3 1347.74C304.4 1347.74 304.4 1344.01 326.5 1344.01L326.5 1348.57C304.4 1348.57 304.4 1352.15 282.3 1352.15Z" fill="#FC8D62" fill-opacity=".49"/>
<path d="M282.3 1351.85C304.4 1351.85 304.4 1348.27 326.5 1348.27L326.5 1352.83C304.4 1352.83 304.4 1356.26 282.3 1356.26Z" fill="#FC8D62" fill-opacity=".49"/>
<path d="M282.3 1355.96C304.4 1355.96 304.4 1352.53 326.5 1352.53L326.5 1357.09C304.4 1357.09 304.4 1360.37 282.3 1360.37Z" fill="#FC8D62" fill-opacity=".49"/>
<path d="M282.3 1360.07C304.4 1360.07 304.4 1356.79 326.5 1356.79L326.5 1361.35C304.4 1361.35 304.4 1364.48 282.3 1364.48Z" fill="#FC8D62" fill-opacity=".49"/>
<path d="M282.3 1364.18C304.4 1364.18 304.4 1361.05 326.5 1361.05L326.5 1365.61C304.4 1365.61 304.4 1368.59 282.3 1368.59Z" fill="#FC8D62" fill-opacity=".49"/>
<path d="M282.3 1368.29C304.4 1368.29 304.4 1365.31 326.5 1365.31L326.5 1369.57C304.4 1369.57 304.4 1372.41 282.3 1372.41Z" fill="#FC8D62" fill-opacity=".49"/>
<path d="M282.3 1377.39C304.4 1377.39 304.4 1374.74 326.5 1374.74L326.5 1378.96C304.4 1378.96 304.4 1381.48 282.3 1381.48Z" fill="#FC8D62" fill-opacity=".49"/>
<path d="M282.3 1381.18C304.4 1381.18 304.4 1378.66 326.5 1378.66L326.5 1382.59C304.4 1382.59 304.4 1384.96 282.3 1384.96Z" fill="#FC8D62" fill-opacity=".49"/>
<path d="M282.3 1394.93C304.4 1394.93 304.4 1392.91 326.5 1392.91L326.5 1397.97C304.4 1397.97 304.4 1399.82 282.3 1399.82Z" fill="#FC8D62" fill-opacity=".49"/>
<path d="M282.3 1399.52C304.4 1399.52 304.4 1397.67 326.5 1397.67L326.5 1402.72C304.4 1402.72 304.4 1404.4 282.3 1404.4Z" fill="#FC8D62" fill-opacity=".49"/>
<path d="M282.3 1404.1C304.4 1404.1 304.4 1402.42 326.5 1402.42L326.5 1407.47C304.4 1407.47 304.4 1408.98 282.3 1408.98Z" fill="#FC8D62" fill-opacity=".49"/>
<path d="M282.3 1408.68C304.4 1408.68 304.4 1407.17 326.5 1407.17L326.5 1412.22C304.4 1412.22 304.4 1413.57 282.3 1413.57Z" fill="#FC8D62" fill-opacity=".49"/>
<path d="M282.3 1413.27C304.4 1413.27 304.4 1411.92 326.5 1411.92L326.5 1416.67C304.4 1416.67 304.4 1417.85 282.3 1417.85Z" fill="#FC8D62" fill-opacity=".49"/>
<path d="M282.3 1425.83C304.4 1425.83 304.4 1416.67 326.5 1416.67L326.5 1422.13C304.4 1422.13 304.4 1431.11 282.3 1431.11Z" fill="#FC8D62" fill-opacity=".49"/>
<path d="M282.3 1430.81C304.4 1430.81 304.4 1421.83 326.5 1421.83L326.5 1427C304.4 1427 304.4 1435.79 282.3 1435.79Z" fill="#FC8D62" fill-opacity=".49"/>
<path d="M282.3 1443.77C304.4 1443.77 304.4 1435.26 326.5 1435.26L326.5 1439.69C304.4 1439.69 304.4 1448.05 282.3 1448.05Z" fill="#FC8D62" fill-opacity=".49"/>
<path d="M282.3 1447.75C304.4 1447.75 304.4 1439.39 326.5 1439.39L326.5 1443.82C304.4 1443.82 304.4 1452.04 282.3 1452.04Z" fill="#FC8D62" fill-opacity=".49"/>
<path d="M282.3 1451.74C304.4 1451.74 304.4 1443.52 326.5 1443.52L326.5 1447.65C304.4 1447.65 304.4 1455.73 282.3 1455.73Z" fill="#FC8D62" fill-opacity=".49"/>
<path d="M282.3 1462.71C304.4 1462.71 304.4 1478.83 326.5 1478.83L326.5 1484.63C304.4 1484.63 304.4 1468.69 282.3 1468.69Z" fill="#FC8D62" fill-opacity=".49"/>
<path d="M282.3 1468.69C304.4 1468.69 304.4 1454.88 326.5 1454.88L326.5 1460.35C304.4 1460.35 304.4 1473.97 282.3 1473.97Z" fill="#FC8D62" fill-opacity=".49"/>
<path d="M282.3 1473.67C304.4 1473.67 304.4 1460.05 326.5 1460.05L326.5 1465.21C304.4 1465.21 304.4 1478.65 282.3 1478.65Z" fill="#FC8D62" fill-opacity=".49"/>
<path d="M282.3 1484.33C304.4 1484.33 304.4 1484.63 326.5 1484.63L326.5 1489.85C304.4 1489.85 304.4 1489.72 282.3 1489.72Z" fill="#FC8D62" fill-opacity=".49"/>
<path d="M349.4 1108.7C371.1 1108.7 371.1 1115.93 392.8 1115.93L392.8 1119.98C371.1 1119.98 371.1 1113 349.4 1113Z" fill="#66C2A5"/>
<path d="M349.4 1112.7C371.1 1112.7 371.1 1119.68 392.8 1119.68L392.8 1123.73C371.1 1123.73 371.1 1117 349.4 1117Z" fill="#66C2A5"/>
<path d="M349.4 1116.7C371.1 1116.7 371.1 1123.43 392.8 1123.43L392.8 1127.49C371.1 1127.49 371.1 1121 349.4 1121Z" fill="#66C2A5"/>
<path d="M349.4 1120.7C371.1 1120.7 371.1 1127.19 392.8 1127.19L392.8 1131.24C371.1 1131.24 371.1 1125 349.4 1125Z" fill="#66C2A5"/>
<path d="M349.4 1124.7C371.1 1124.7 371.1 1130.94 392.8 1130.94L392.8 1134.7C371.1 1134.7 371.1 1128.7 349.4 1128.7Z" fill="#66C2A5"/>
<path d="M349.4 1137.7C371.1 1137.7 371.1 1408.8 392.8 1408.8L392.8 1415.93C371.1 1415.93 371.1 1141.7 349.4 1141.7Z" fill="#66C2A5"/>
<path d="M349.4 1155.7C371.1 1155.7 371.1 1443.4 392.8 1443.4L392.8 1447.12C371.1 1447.12 371.1 1158.7 349.4 1158.7Z" fill="#66C2A5"/>
<path d="M349.4 1170.6C371.1 1170.6 371.1 1388.67 392.8 1388.67L392.8 1390.22C371.1 1390.22 371.1 1172.6 349.4 1172.6Z" fill="#66C2A5"/>
<path d="M349.4 1177.6C371.1 1177.6 371.1 1160.97 392.8 1160.97L392.8 1165.65C371.1 1165.65 371.1 1182.57 349.4 1182.57Z" fill="#66C2A5"/>
<path d="M349.4 1182.27C371.1 1182.27 371.1 1165.35 392.8 1165.35L392.8 1170.03C371.1 1170.03 371.1 1187.23 349.4 1187.23Z" fill="#66C2A5"/>
<path d="M349.4 1186.93C371.1 1186.93 371.1 1169.73 392.8 1169.73L392.8 1174.11C371.1 1174.11 371.1 1191.6 349.4 1191.6Z" fill="#66C2A5"/>
<path d="M349.4 1192.8C371.1 1192.8 371.1 1113.39 392.8 1113.39L392.8 1114.8C371.1 1114.8 371.1 1194.3 349.4 1194.3Z" fill="#66C2A5"/>
<path d="M349.4 1202.3C371.1 1202.3 371.1 1235.39 392.8 1235.39L392.8 1236.8C371.1 1236.8 371.1 1203.8 349.4 1203.8Z" fill="#66C2A5"/>
<path d="M349.4 1207.8C371.1 1207.8 371.1 1146.9 392.8 1146.9L392.8 1151.89C371.1 1151.89 371.1 1213.1 349.4 1213.1Z" fill="#66C2A5"/>
<path d="M349.4 1212.8C371.1 1212.8 371.1 1151.59 392.8 1151.59L392.8 1156.28C371.1 1156.28 371.1 1217.8 349.4 1217.8Z" fill="#66C2A5"/>
<path d="M349.4 1219C371.1 1219 371.1 1175.24 392.8 1175.24L392.8 1179.29C371.1 1179.29 371.1 1223.3 349.4 1223.3Z" fill="#66C2A5"/>
<path d="M349.4 1223C371.1 1223 371.1 1178.99 392.8 1178.99L392.8 1182.75C371.1 1182.75 371.1 1227 349.4 1227Z" fill="#66C2A5"/>
<path d="M349.4 1229.5C371.1 1229.5 371.1 1313.66 392.8 1313.66L392.8 1314.79C371.1 1314.79 371.1 1230.7 349.4 1230.7Z" fill="#66C2A5"/>
<path d="M349.4 1232.2C371.1 1232.2 371.1 1156.28 392.8 1156.28L392.8 1160.97C371.1 1160.97 371.1 1237.2 349.4 1237.2Z" fill="#66C2A5"/>
<path d="M349.4 1242.2C371.1 1242.2 371.1 1407.64 392.8 1407.64L392.8 1408.8C371.1 1408.8 371.1 1243.7 349.4 1243.7Z" fill="#66C2A5"/>
<path d="M349.4 1246.2C371.1 1246.2 371.1 1259.04 392.8 1259.04L392.8 1260.45C371.1 1260.45 371.1 1247.7 349.4 1247.7Z" fill="#66C2A5"/>
<path d="M349.4 1255.7C371.1 1255.7 371.1 1230.7 392.8 1230.7L392.8 1235.39C371.1 1235.39 371.1 1260.7 349.4 1260.7Z" fill="#66C2A5"/>
<path d="M349.4 1261.9C371.1 1261.9 371.1 1453.33 392.8 1453.33L392.8 1459.84C371.1 1459.84 371.1 1267.2 349.4 1267.2Z" fill="#66C2A5"/>
<path d="M349.4 1266.9C371.1 1266.9 371.1 1459.54 392.8 1459.54L392.8 1465.75C371.1 1465.75 371.1 1271.9 349.4 1271.9Z" fill="#66C2A5"/>
<path d="M349.4 1273.4C371.1 1273.4 371.1 1111.05 392.8 1111.05L392.8 1113.39C371.1 1113.39 371.1 1275.9 349.4 1275.9Z" fill="#66C2A5"/>
<path d="M349.4 1303.9C371.1 1303.9 371.1 1221.32 392.8 1221.32L392.8 1226.31C371.1 1226.31 371.1 1309.2 349.4 1309.2Z" fill="#66C2A5"/>
<path d="M349.4 1308.9C371.1 1308.9 371.1 1226.01 392.8 1226.01L392.8 1230.7C371.1 1230.7 371.1 1313.9 349.4 1313.9Z" fill="#66C2A5"/>
<path d="M349.4 1315.1C371.1 1315.1 371.1 1211.93 392.8 1211.93L392.8 1216.92C371.1 1216.92 371.1 1320.4 349.4 1320.4Z" fill="#66C2A5"/>
<path d="M349.4 1320.1C371.1 1320.1 371.1 1216.62 392.8 1216.62L392.8 1221.32C371.1 1221.32 371.1 1325.1 349.4 1325.1Z" fill="#66C2A5"/>
<path d="M349.4 1340.1C371.1 1340.1 371.1 1256.04 392.8 1256.04L392.8 1257.17C371.1 1257.17 371.1 1341.3 349.4 1341.3Z" fill="#66C2A5"/>
<path d="M349.4 1343.8C371.1 1343.8 371.1 1277.81 392.8 1277.81L392.8 1278.94C371.1 1278.94 371.1 1345 349.4 1345Z" fill="#66C2A5"/>
<path d="M349.4 1353C371.1 1353 371.1 1275.94 392.8 1275.94L392.8 1277.81C371.1 1277.81 371.1 1355 349.4 1355Z" fill="#66C2A5"/>
<path d="M349.4 1358C371.1 1358 371.1 1299.59 392.8 1299.59L392.8 1304.28C371.1 1304.28 371.1 1363 349.4 1363Z" fill="#66C2A5"/>
<path d="M349.4 1365C371.1 1365 371.1 1266.55 392.8 1266.55L392.8 1270.61C371.1 1270.61 371.1 1369.3 349.4 1369.3Z" fill="#66C2A5"/>
<path d="M349.4 1369C371.1 1369 371.1 1270.31 392.8 1270.31L392.8 1274.06C371.1 1274.06 371.1 1373 349.4 1373Z" fill="#66C2A5"/>
<path d="M349.4 1384.5C371.1 1384.5 371.1 1380.58 392.8 1380.58L392.8 1383.39C371.1 1383.39 371.1 1387.5 349.4 1387.5Z" fill="#66C2A5"/>
<path d="M349.4 1395.5C371.1 1395.5 371.1 1326.05 392.8 1326.05L392.8 1330.73C371.1 1330.73 371.1 1400.47 349.4 1400.47Z" fill="#66C2A5"/>
<path d="M349.4 1400.17C371.1 1400.17 371.1 1330.43 392.8 1330.43L392.8 1335.11C371.1 1335.11 371.1 1405.13 349.4 1405.13Z" fill="#66C2A5"/>
<path d="M349.4 1404.83C371.1 1404.83 371.1 1334.81 392.8 1334.81L392.8 1339.19C371.1 1339.19 371.1 1409.5 349.4 1409.5Z" fill="#66C2A5"/>
<path d="M349.4 1413C371.1 1413 371.1 1304.28 392.8 1304.28L392.8 1309.27C371.1 1309.27 371.1 1418.3 349.4 1418.3Z" fill="#66C2A5"/>
<path d="M349.4 1418C371.1 1418 371.1 1308.97 392.8 1308.97L392.8 1313.66C371.1 1313.66 371.1 1423 349.4 1423Z" fill="#66C2A5"/>
<path d="M349.4 1447C371.1 1447 371.1 1316.2 392.8 1316.2L392.8 1318.54C371.1 1318.54 371.1 1449.5 349.4 1449.5Z" fill="#66C2A5"/>
<path d="M349.4 1453.5C371.1 1453.5 371.1 1314.79 392.8 1314.79L392.8 1316.2C371.1 1316.2 371.1 1455 349.4 1455Z" fill="#66C2A5"/>
<path d="M349.4 1464.5C371.1 1464.5 371.1 1366.88 392.8 1366.88L392.8 1370.27C371.1 1370.27 371.1 1468.1 349.4 1468.1Z" fill="#66C2A5"/>
<path d="M349.4 1467.8C371.1 1467.8 371.1 1369.97 392.8 1369.97L392.8 1373.07C371.1 1373.07 371.1 1471.1 349.4 1471.1Z" fill="#66C2A5"/>
<path d="M349.4 1479.1C371.1 1479.1 371.1 1346.7 392.8 1346.7L392.8 1351.39C371.1 1351.39 371.1 1484.1 349.4 1484.1Z" fill="#66C2A5"/>
<path d="M349.4 1489.1C371.1 1489.1 371.1 1434.13 392.8 1434.13L392.8 1443.4C371.1 1443.4 371.1 1494.3 349.4 1494.3Z" fill="#66C2A5"/>
<path d="M349.4 1128.7C371.1 1128.7 371.1 1134.7 392.8 1134.7L392.8 1139.22C371.1 1139.22 371.1 1133.5 349.4 1133.5Z" fill="#FC8D62" fill-opacity=".49"/>
<path d="M349.4 1133.2C371.1 1133.2 371.1 1138.92 392.8 1138.92L392.8 1143.14C371.1 1143.14 371.1 1137.7 349.4 1137.7Z" fill="#FC8D62" fill-opacity=".49"/>
<path d="M349.4 1141.7C371.1 1141.7 371.1 1415.93 392.8 1415.93L392.8 1424.26C371.1 1424.26 371.1 1146.5 349.4 1146.5Z" fill="#FC8D62" fill-opacity=".49"/>
<path d="M349.4 1146.2C371.1 1146.2 371.1 1423.96 392.8 1423.96L392.8 1431.99C371.1 1431.99 371.1 1150.7 349.4 1150.7Z" fill="#FC8D62" fill-opacity=".49"/>
<path d="M349.4 1150.7C371.1 1150.7 371.1 1384.8 392.8 1384.8L392.8 1388.67C371.1 1388.67 371.1 1155.7 349.4 1155.7Z" fill="#FC8D62" fill-opacity=".49"/>
<path d="M349.4 1158.7C371.1 1158.7 371.1 1190.25 392.8 1190.25L392.8 1194.26C371.1 1194.26 371.1 1162.95 349.4 1162.95Z" fill="#FC8D62" fill-opacity=".49"/>
<path d="M349.4 1162.65C371.1 1162.65 371.1 1193.96 392.8 1193.96L392.8 1197.67C371.1 1197.67 371.1 1166.6 349.4 1166.6Z" fill="#FC8D62" fill-opacity=".49"/>
<path d="M349.4 1166.6C371.1 1166.6 371.1 1143.14 392.8 1143.14L392.8 1146.9C371.1 1146.9 371.1 1170.6 349.4 1170.6Z" fill="#FC8D62" fill-opacity=".49"/>
<path d="M349.4 1172.6C371.1 1172.6 371.1 1447.12 392.8 1447.12L392.8 1453.33C371.1 1453.33 371.1 1177.6 349.4 1177.6Z" fill="#FC8D62" fill-opacity=".49"/>
<path d="M349.4 1191.6C371.1 1191.6 371.1 1197.67 392.8 1197.67L392.8 1198.79C371.1 1198.79 371.1 1192.8 349.4 1192.8Z" fill="#FC8D62" fill-opacity=".49"/>
<path d="M349.4 1194.3C371.1 1194.3 371.1 1182.75 392.8 1182.75L392.8 1186.8C371.1 1186.8 371.1 1198.6 349.4 1198.6Z" fill="#FC8D62" fill-opacity=".49"/>
<path d="M349.4 1198.3C371.1 1198.3 371.1 1186.5 392.8 1186.5L392.8 1190.25C371.1 1190.25 371.1 1202.3 349.4 1202.3Z" fill="#FC8D62" fill-opacity=".49"/>
<path d="M349.4 1203.8C371.1 1203.8 371.1 1278.94 392.8 1278.94L392.8 1282.69C371.1 1282.69 371.1 1207.8 349.4 1207.8Z" fill="#FC8D62" fill-opacity=".49"/>
<path d="M349.4 1217.8C371.1 1217.8 371.1 1431.99 392.8 1431.99L392.8 1434.13C371.1 1434.13 371.1 1219 349.4 1219Z" fill="#FC8D62" fill-opacity=".49"/>
<path d="M349.4 1227C371.1 1227 371.1 1108.7 392.8 1108.7L392.8 1111.05C371.1 1111.05 371.1 1229.5 349.4 1229.5Z" fill="#FC8D62" fill-opacity=".49"/>
<path d="M349.4 1230.7C371.1 1230.7 371.1 1265.14 392.8 1265.14L392.8 1266.55C371.1 1266.55 371.1 1232.2 349.4 1232.2Z" fill="#FC8D62" fill-opacity=".49"/>
<path d="M349.4 1237.2C371.1 1237.2 371.1 1251.35 392.8 1251.35L392.8 1256.04C371.1 1256.04 371.1 1242.2 349.4 1242.2Z" fill="#FC8D62" fill-opacity=".49"/>
<path d="M349.4 1243.7C371.1 1243.7 371.1 1364.53 392.8 1364.53L392.8 1366.88C371.1 1366.88 371.1 1246.2 349.4 1246.2Z" fill="#FC8D62" fill-opacity=".49"/>
<path d="M349.4 1247.7C371.1 1247.7 371.1 1465.75 392.8 1465.75L392.8 1471.01C371.1 1471.01 371.1 1252 349.4 1252Z" fill="#FC8D62" fill-opacity=".49"/>
<path d="M349.4 1251.7C371.1 1251.7 371.1 1470.71 392.8 1470.71L392.8 1475.68C371.1 1475.68 371.1 1255.7 349.4 1255.7Z" fill="#FC8D62" fill-opacity=".49"/>
<path d="M349.4 1260.7C371.1 1260.7 371.1 1114.8 392.8 1114.8L392.8 1115.93C371.1 1115.93 371.1 1261.9 349.4 1261.9Z" fill="#FC8D62" fill-opacity=".49"/>
<path d="M349.4 1271.9C371.1 1271.9 371.1 1390.22 392.8 1390.22L392.8 1391.38C371.1 1391.38 371.1 1273.4 349.4 1273.4Z" fill="#FC8D62" fill-opacity=".49"/>
<path d="M349.4 1275.9C371.1 1275.9 371.1 1238.21 392.8 1238.21L392.8 1242.89C371.1 1242.89 371.1 1280.87 349.4 1280.87Z" fill="#FC8D62" fill-opacity=".49"/>
<path d="M349.4 1280.57C371.1 1280.57 371.1 1242.59 392.8 1242.59L392.8 1247.27C371.1 1247.27 371.1 1285.53 349.4 1285.53Z" fill="#FC8D62" fill-opacity=".49"/>
<path d="M349.4 1285.23C371.1 1285.23 371.1 1246.97 392.8 1246.97L392.8 1251.35C371.1 1251.35 371.1 1289.9 349.4 1289.9Z" fill="#FC8D62" fill-opacity=".49"/>
<path d="M349.4 1289.9C371.1 1289.9 371.1 1198.79 392.8 1198.79L392.8 1203.47C371.1 1203.47 371.1 1294.87 349.4 1294.87Z" fill="#FC8D62" fill-opacity=".49"/>
<path d="M349.4 1294.57C371.1 1294.57 371.1 1203.17 392.8 1203.17L392.8 1207.85C371.1 1207.85 371.1 1299.53 349.4 1299.53Z" fill="#FC8D62" fill-opacity=".49"/>
<path d="M349.4 1299.23C371.1 1299.23 371.1 1207.55 392.8 1207.55L392.8 1211.93C371.1 1211.93 371.1 1303.9 349.4 1303.9Z" fill="#FC8D62" fill-opacity=".49"/>
<path d="M349.4 1313.9C371.1 1313.9 371.1 1174.11 392.8 1174.11L392.8 1175.24C371.1 1175.24 371.1 1315.1 349.4 1315.1Z" fill="#FC8D62" fill-opacity=".49"/>
<path d="M349.4 1325.1C371.1 1325.1 371.1 1475.68 392.8 1475.68L392.8 1482.19C371.1 1482.19 371.1 1330.4 349.4 1330.4Z" fill="#FC8D62" fill-opacity=".49"/>
<path d="M349.4 1330.1C371.1 1330.1 371.1 1481.89 392.8 1481.89L392.8 1488.09C371.1 1488.09 371.1 1335.1 349.4 1335.1Z" fill="#FC8D62" fill-opacity=".49"/>
<path d="M349.4 1335.1C371.1 1335.1 371.1 1260.45 392.8 1260.45L392.8 1265.14C371.1 1265.14 371.1 1340.1 349.4 1340.1Z" fill="#FC8D62" fill-opacity=".49"/>
<path d="M349.4 1341.3C371.1 1341.3 371.1 1373.07 392.8 1373.07L392.8 1375.42C371.1 1375.42 371.1 1343.8 349.4 1343.8Z" fill="#FC8D62" fill-opacity=".49"/>
<path d="M349.4 1345C371.1 1345 371.1 1282.69 392.8 1282.69L392.8 1286.75C371.1 1286.75 371.1 1349.3 349.4 1349.3Z" fill="#FC8D62" fill-opacity=".49"/>
<path d="M349.4 1349C371.1 1349 371.1 1286.45 392.8 1286.45L392.8 1290.2C371.1 1290.2 371.1 1353 349.4 1353Z" fill="#FC8D62" fill-opacity=".49"/>
<path d="M349.4 1355C371.1 1355 371.1 1391.38 392.8 1391.38L392.8 1393.7C371.1 1393.7 371.1 1358 349.4 1358Z" fill="#FC8D62" fill-opacity=".49"/>
<path d="M349.4 1363C371.1 1363 371.1 1274.06 392.8 1274.06L392.8 1275.94C371.1 1275.94 371.1 1365 349.4 1365Z" fill="#FC8D62" fill-opacity=".49"/>
<path d="M349.4 1373C371.1 1373 371.1 1379.17 392.8 1379.17L392.8 1380.58C371.1 1380.58 371.1 1374.5 349.4 1374.5Z" fill="#FC8D62" fill-opacity=".49"/>
<path d="M349.4 1374.5C371.1 1374.5 371.1 1393.7 392.8 1393.7L392.8 1397.87C371.1 1397.87 371.1 1379.8 349.4 1379.8Z" fill="#FC8D62" fill-opacity=".49"/>
<path d="M349.4 1379.5C371.1 1379.5 371.1 1397.57 392.8 1397.57L392.8 1401.45C371.1 1401.45 371.1 1384.5 349.4 1384.5Z" fill="#FC8D62" fill-opacity=".49"/>
<path d="M349.4 1387.5C371.1 1387.5 371.1 1339.19 392.8 1339.19L392.8 1343.24C371.1 1343.24 371.1 1391.8 349.4 1391.8Z" fill="#FC8D62" fill-opacity=".49"/>
<path d="M349.4 1391.5C371.1 1391.5 371.1 1342.94 392.8 1342.94L392.8 1346.7C371.1 1346.7 371.1 1395.5 349.4 1395.5Z" fill="#FC8D62" fill-opacity=".49"/>
<path d="M349.4 1409.5C371.1 1409.5 371.1 1257.17 392.8 1257.17L392.8 1259.04C371.1 1259.04 371.1 1411.5 349.4 1411.5Z" fill="#FC8D62" fill-opacity=".49"/>
<path d="M349.4 1411.5C371.1 1411.5 371.1 1236.8 392.8 1236.8L392.8 1238.21C371.1 1238.21 371.1 1413 349.4 1413Z" fill="#FC8D62" fill-opacity=".49"/>
<path d="M349.4 1423C371.1 1423 371.1 1290.2 392.8 1290.2L392.8 1295.19C371.1 1295.19 371.1 1428.3 349.4 1428.3Z" fill="#FC8D62" fill-opacity=".49"/>
<path d="M349.4 1428C371.1 1428 371.1 1294.89 392.8 1294.89L392.8 1299.59C371.1 1299.59 371.1 1433 349.4 1433Z" fill="#FC8D62" fill-opacity=".49"/>
<path d="M349.4 1433C371.1 1433 371.1 1351.39 392.8 1351.39L392.8 1356.07C371.1 1356.07 371.1 1437.97 349.4 1437.97Z" fill="#FC8D62" fill-opacity=".49"/>
<path d="M349.4 1437.67C371.1 1437.67 371.1 1355.77 392.8 1355.77L392.8 1360.45C371.1 1360.45 371.1 1442.63 349.4 1442.63Z" fill="#FC8D62" fill-opacity=".49"/>
<path d="M349.4 1442.33C371.1 1442.33 371.1 1360.15 392.8 1360.15L392.8 1364.53C371.1 1364.53 371.1 1447 349.4 1447Z" fill="#FC8D62" fill-opacity=".49"/>
<path d="M349.4 1449.5C371.1 1449.5 371.1 1375.42 392.8 1375.42L392.8 1379.17C371.1 1379.17 371.1 1453.5 349.4 1453.5Z" fill="#FC8D62" fill-opacity=".49"/>
<path d="M349.4 1455C371.1 1455 371.1 1401.45 392.8 1401.45L392.8 1404.84C371.1 1404.84 371.1 1459.3 349.4 1459.3Z" fill="#FC8D62" fill-opacity=".49"/>
<path d="M349.4 1459C371.1 1459 371.1 1404.54 392.8 1404.54L392.8 1407.64C371.1 1407.64 371.1 1463 349.4 1463Z" fill="#FC8D62" fill-opacity=".49"/>
<path d="M349.4 1463C371.1 1463 371.1 1383.39 392.8 1383.39L392.8 1384.8C371.1 1384.8 371.1 1464.5 349.4 1464.5Z" fill="#FC8D62" fill-opacity=".49"/>
<path d="M349.4 1471.1C371.1 1471.1 371.1 1318.54 392.8 1318.54L392.8 1322.6C371.1 1322.6 371.1 1475.4 349.4 1475.4Z" fill="#FC8D62" fill-opacity=".49"/>
<path d="M349.4 1475.1C371.1 1475.1 371.1 1322.3 392.8 1322.3L392.8 1326.05C371.1 1326.05 371.1 1479.1 349.4 1479.1Z" fill="#FC8D62" fill-opacity=".49"/>
<path d="M349.4 1484.1C371.1 1484.1 371.1 1488.09 392.8 1488.09L392.8 1494.3C371.1 1494.3 371.1 1489.1 349.4 1489.1Z" fill="#FC8D62" fill-opacity=".49"/>
<path d="M415.7 1113.71C437.75 1113.71 437.75 1264.79 459.8 1264.79L459.8 1269.28C437.75 1269.28 437.75 1118.71 415.7 1118.71Z" fill="#66C2A5"/>
<path d="M415.7 1118.71C437.75 1118.71 437.75 1111.75 459.8 1111.75L459.8 1117.8C437.75 1117.8 437.75 1123.92 415.7 1123.92Z" fill="#66C2A5"/>
<path d="M415.7 1123.62C437.75 1123.62 437.75 1117.5 459.8 1117.5L459.8 1123.25C437.75 1123.25 437.75 1128.52 415.7 1128.52Z" fill="#66C2A5"/>
<path d="M415.7 1128.52C437.75 1128.52 437.75 1258.5 459.8 1258.5L459.8 1260.3C437.75 1260.3 437.75 1130.52 415.7 1130.52Z" fill="#66C2A5"/>
<path d="M415.7 1130.52C437.75 1130.52 437.75 1465.6 459.8 1465.6L459.8 1466.39C437.75 1466.39 437.75 1131.73 415.7 1131.73Z" fill="#66C2A5"/>
<path d="M415.7 1131.73C437.75 1131.73 437.75 1270.72 459.8 1270.72L459.8 1271.61C437.75 1271.61 437.75 1132.73 415.7 1132.73Z" fill="#66C2A5"/>
<path d="M415.7 1147.34C437.75 1147.34 437.75 1108.7 459.8 1108.7L459.8 1111.75C437.75 1111.75 437.75 1149.94 415.7 1149.94Z" fill="#66C2A5"/>
<path d="M415.7 1149.94C437.75 1149.94 437.75 1138.04 459.8 1138.04L459.8 1138.98C437.75 1138.98 437.75 1150.75 415.7 1150.75Z" fill="#66C2A5"/>
<path d="M415.7 1158.25C437.75 1158.25 437.75 1138.98 459.8 1138.98L459.8 1143.74C437.75 1143.74 437.75 1162.36 415.7 1162.36Z" fill="#66C2A5"/>
<path d="M415.7 1162.06C437.75 1162.06 437.75 1143.44 459.8 1143.44L459.8 1147.9C437.75 1147.9 437.75 1165.86 415.7 1165.86Z" fill="#66C2A5"/>
<path d="M415.7 1173.87C437.75 1173.87 437.75 1147.9 459.8 1147.9L459.8 1153.68C437.75 1153.68 437.75 1178.84 415.7 1178.84Z" fill="#66C2A5"/>
<path d="M415.7 1178.54C437.75 1178.54 437.75 1153.38 459.8 1153.38L459.8 1159.16C437.75 1159.16 437.75 1183.51 415.7 1183.51Z" fill="#66C2A5"/>
<path d="M415.7 1183.21C437.75 1183.21 437.75 1158.86 459.8 1158.86L459.8 1164.33C437.75 1164.33 437.75 1187.89 415.7 1187.89Z" fill="#66C2A5"/>
<path d="M415.7 1189.49C437.75 1189.49 437.75 1471.23 459.8 1471.23L459.8 1472.28C437.75 1472.28 437.75 1191.09 415.7 1191.09Z" fill="#66C2A5"/>
<path d="M415.7 1191.09C437.75 1191.09 437.75 1287.33 459.8 1287.33L459.8 1288.41C437.75 1288.41 437.75 1192.29 415.7 1192.29Z" fill="#66C2A5"/>
<path d="M415.7 1192.29C437.75 1192.29 437.75 1290.39 459.8 1290.39L459.8 1291.82C437.75 1291.82 437.75 1193.89 415.7 1193.89Z" fill="#66C2A5"/>
<path d="M415.7 1225.33C437.75 1225.33 437.75 1269.28 459.8 1269.28L459.8 1270.72C437.75 1270.72 437.75 1226.93 415.7 1226.93Z" fill="#66C2A5"/>
<path d="M415.7 1231.93C437.75 1231.93 437.75 1198.84 459.8 1198.84L459.8 1204.62C437.75 1204.62 437.75 1236.91 415.7 1236.91Z" fill="#66C2A5"/>
<path d="M415.7 1236.61C437.75 1236.61 437.75 1204.32 459.8 1204.32L459.8 1210.09C437.75 1210.09 437.75 1241.58 415.7 1241.58Z" fill="#66C2A5"/>
<path d="M415.7 1241.28C437.75 1241.28 437.75 1209.79 459.8 1209.79L459.8 1215.27C437.75 1215.27 437.75 1245.95 415.7 1245.95Z" fill="#66C2A5"/>
<path d="M415.7 1245.95C437.75 1245.95 437.75 1362.02 459.8 1362.02L459.8 1363.1C437.75 1363.1 437.75 1247.15 415.7 1247.15Z" fill="#66C2A5"/>
<path d="M415.7 1249.15C437.75 1249.15 437.75 1330.13 459.8 1330.13L459.8 1332.47C437.75 1332.47 437.75 1251.76 415.7 1251.76Z" fill="#66C2A5"/>
<path d="M415.7 1251.76C437.75 1251.76 437.75 1297.39 459.8 1297.39L459.8 1301.7C437.75 1301.7 437.75 1256.52 415.7 1256.52Z" fill="#66C2A5"/>
<path d="M415.7 1256.22C437.75 1256.22 437.75 1301.4 459.8 1301.4L459.8 1305.71C437.75 1305.71 437.75 1260.99 415.7 1260.99Z" fill="#66C2A5"/>
<path d="M415.7 1260.69C437.75 1260.69 437.75 1305.41 459.8 1305.41L459.8 1309.72C437.75 1309.72 437.75 1265.46 415.7 1265.46Z" fill="#66C2A5"/>
<path d="M415.7 1265.16C437.75 1265.16 437.75 1309.42 459.8 1309.42L459.8 1313.43C437.75 1313.43 437.75 1269.62 415.7 1269.62Z" fill="#66C2A5"/>
<path d="M415.7 1269.62C437.75 1269.62 437.75 1469.53 459.8 1469.53L459.8 1471.23C437.75 1471.23 437.75 1272.23 415.7 1272.23Z" fill="#66C2A5"/>
<path d="M415.7 1291.3C437.75 1291.3 437.75 1339.66 459.8 1339.66L459.8 1340.73C437.75 1340.73 437.75 1292.5 415.7 1292.5Z" fill="#66C2A5"/>
<path d="M415.7 1294.1C437.75 1294.1 437.75 1291.82 459.8 1291.82L459.8 1294.16C437.75 1294.16 437.75 1296.7 415.7 1296.7Z" fill="#66C2A5"/>
<path d="M415.7 1305.31C437.75 1305.31 437.75 1323.85 459.8 1323.85L459.8 1327.29C437.75 1327.29 437.75 1309.12 415.7 1309.12Z" fill="#66C2A5"/>
<path d="M415.7 1308.82C437.75 1308.82 437.75 1326.99 459.8 1326.99L459.8 1330.13C437.75 1330.13 437.75 1312.32 415.7 1312.32Z" fill="#66C2A5"/>
<path d="M415.7 1345.86C437.75 1345.86 437.75 1363.1 459.8 1363.1L459.8 1364.54C437.75 1364.54 437.75 1347.46 415.7 1347.46Z" fill="#66C2A5"/>
<path d="M415.7 1353.37C437.75 1353.37 437.75 1364.54 459.8 1364.54L459.8 1368.61C437.75 1368.61 437.75 1357.87 415.7 1357.87Z" fill="#66C2A5"/>
<path d="M415.7 1357.57C437.75 1357.57 437.75 1368.31 459.8 1368.31L459.8 1372.38C437.75 1372.38 437.75 1362.07 415.7 1362.07Z" fill="#66C2A5"/>
<path d="M415.7 1361.77C437.75 1361.77 437.75 1372.08 459.8 1372.08L459.8 1375.86C437.75 1375.86 437.75 1365.98 415.7 1365.98Z" fill="#66C2A5"/>
<path d="M415.7 1365.98C437.75 1365.98 437.75 1314.51 459.8 1314.51L459.8 1315.58C437.75 1315.58 437.75 1367.18 415.7 1367.18Z" fill="#66C2A5"/>
<path d="M415.7 1367.18C437.75 1367.18 437.75 1473.32 459.8 1473.32L459.8 1474.63C437.75 1474.63 437.75 1369.18 415.7 1369.18Z" fill="#66C2A5"/>
<path d="M415.7 1369.18C437.75 1369.18 437.75 1245.37 459.8 1245.37L459.8 1246.78C437.75 1246.78 437.75 1370.38 415.7 1370.38Z" fill="#66C2A5"/>
<path d="M415.7 1370.38C437.75 1370.38 437.75 1237.16 459.8 1237.16L459.8 1238.33C437.75 1238.33 437.75 1371.39 415.7 1371.39Z" fill="#66C2A5"/>
<path d="M415.7 1394.8C437.75 1394.8 437.75 1396.76 459.8 1396.76L459.8 1400.65C437.75 1400.65 437.75 1399.1 415.7 1399.1Z" fill="#66C2A5"/>
<path d="M415.7 1398.8C437.75 1398.8 437.75 1400.35 459.8 1400.35L459.8 1403.93C437.75 1403.93 437.75 1402.8 415.7 1402.8Z" fill="#66C2A5"/>
<path d="M415.7 1434.8C437.75 1434.8 437.75 1431.95 459.8 1431.95L459.8 1436.11C437.75 1436.11 437.75 1439.4 415.7 1439.4Z" fill="#66C2A5"/>
<path d="M415.7 1439.1C437.75 1439.1 437.75 1435.81 459.8 1435.81L459.8 1439.67C437.75 1439.67 437.75 1443.4 415.7 1443.4Z" fill="#66C2A5"/>
<path d="M415.7 1443.4C437.75 1443.4 437.75 1246.78 459.8 1246.78L459.8 1252.94C437.75 1252.94 437.75 1448.7 415.7 1448.7Z" fill="#66C2A5"/>
<path d="M415.7 1448.4C437.75 1448.4 437.75 1252.64 459.8 1252.64L459.8 1258.5C437.75 1258.5 437.75 1453.4 415.7 1453.4Z" fill="#66C2A5"/>
<path d="M415.7 1475.4C437.75 1475.4 437.75 1459.41 459.8 1459.41L459.8 1462.8C437.75 1462.8 437.75 1479.15 415.7 1479.15Z" fill="#66C2A5"/>
<path d="M415.7 1478.85C437.75 1478.85 437.75 1462.5 459.8 1462.5L459.8 1465.6C437.75 1465.6 437.75 1482.3 415.7 1482.3Z" fill="#66C2A5"/>
<path d="M415.7 1482.3C437.75 1482.3 437.75 1477.38 459.8 1477.38L459.8 1481.3C437.75 1481.3 437.75 1488.3 415.7 1488.3Z" fill="#66C2A5"/>
<path d="M415.7 1108.7C437.75 1108.7 437.75 1260.3 459.8 1260.3L459.8 1264.79C437.75 1264.79 437.75 1113.71 415.7 1113.71Z" fill="#FC8D62" fill-opacity=".49"/>
<path d="M415.7 1132.73C437.75 1132.73 437.75 1123.25 459.8 1123.25L459.8 1128.48C437.75 1128.48 437.75 1137.23 415.7 1137.23Z" fill="#FC8D62" fill-opacity=".49"/>
<path d="M415.7 1136.93C437.75 1136.93 437.75 1128.18 459.8 1128.18L459.8 1133.41C437.75 1133.41 437.75 1141.44 415.7 1141.44Z" fill="#FC8D62" fill-opacity=".49"/>
<path d="M415.7 1141.14C437.75 1141.14 437.75 1133.11 459.8 1133.11L459.8 1138.04C437.75 1138.04 437.75 1145.34 415.7 1145.34Z" fill="#FC8D62" fill-opacity=".49"/>
<path d="M415.7 1145.34C437.75 1145.34 437.75 1466.39 459.8 1466.39L459.8 1467.69C437.75 1467.69 437.75 1147.34 415.7 1147.34Z" fill="#FC8D62" fill-opacity=".49"/>
<path d="M415.7 1150.75C437.75 1150.75 437.75 1273.41 459.8 1273.41L459.8 1277.08C437.75 1277.08 437.75 1154.8 415.7 1154.8Z" fill="#FC8D62" fill-opacity=".49"/>
<path d="M415.7 1154.5C437.75 1154.5 437.75 1276.78 459.8 1276.78L459.8 1280.15C437.75 1280.15 437.75 1158.25 415.7 1158.25Z" fill="#FC8D62" fill-opacity=".49"/>
<path d="M415.7 1165.86C437.75 1165.86 437.75 1280.15 459.8 1280.15L459.8 1284.04C437.75 1284.04 437.75 1170.17 415.7 1170.17Z" fill="#FC8D62" fill-opacity=".49"/>
<path d="M415.7 1169.87C437.75 1169.87 437.75 1283.74 459.8 1283.74L459.8 1287.33C437.75 1287.33 437.75 1173.87 415.7 1173.87Z" fill="#FC8D62" fill-opacity=".49"/>
<path d="M415.7 1187.89C437.75 1187.89 437.75 1467.69 459.8 1467.69L459.8 1468.74C437.75 1468.74 437.75 1189.49 415.7 1189.49Z" fill="#FC8D62" fill-opacity=".49"/>
<path d="M415.7 1193.89C437.75 1193.89 437.75 1164.33 459.8 1164.33L459.8 1169.84C437.75 1169.84 437.75 1198.63 415.7 1198.63Z" fill="#FC8D62" fill-opacity=".49"/>
<path d="M415.7 1198.33C437.75 1198.33 437.75 1169.54 459.8 1169.54L459.8 1175.04C437.75 1175.04 437.75 1203.07 415.7 1203.07Z" fill="#FC8D62" fill-opacity=".49"/>
<path d="M415.7 1202.77C437.75 1202.77 437.75 1174.74 459.8 1174.74L459.8 1180.24C437.75 1180.24 437.75 1207.51 415.7 1207.51Z" fill="#FC8D62" fill-opacity=".49"/>
<path d="M415.7 1207.21C437.75 1207.21 437.75 1179.94 459.8 1179.94L459.8 1185.45C437.75 1185.45 437.75 1211.95 415.7 1211.95Z" fill="#FC8D62" fill-opacity=".49"/>
<path d="M415.7 1211.65C437.75 1211.65 437.75 1185.15 459.8 1185.15L459.8 1190.65C437.75 1190.65 437.75 1216.38 415.7 1216.38Z" fill="#FC8D62" fill-opacity=".49"/>
<path d="M415.7 1216.08C437.75 1216.08 437.75 1190.35 459.8 1190.35L459.8 1195.55C437.75 1195.55 437.75 1220.52 415.7 1220.52Z" fill="#FC8D62" fill-opacity=".49"/>
<path d="M415.7 1220.52C437.75 1220.52 437.75 1195.55 459.8 1195.55L459.8 1196.96C437.75 1196.96 437.75 1221.72 415.7 1221.72Z" fill="#FC8D62" fill-opacity=".49"/>
<path d="M415.7 1221.72C437.75 1221.72 437.75 1295.96 459.8 1295.96L459.8 1297.39C437.75 1297.39 437.75 1223.32 415.7 1223.32Z" fill="#FC8D62" fill-opacity=".49"/>
<path d="M415.7 1223.32C437.75 1223.32 437.75 1271.61 459.8 1271.61L459.8 1273.41C437.75 1273.41 437.75 1225.33 415.7 1225.33Z" fill="#FC8D62" fill-opacity=".49"/>
<path d="M415.7 1226.93C437.75 1226.93 437.75 1472.28 459.8 1472.28L459.8 1473.32C437.75 1473.32 437.75 1228.53 415.7 1228.53Z" fill="#FC8D62" fill-opacity=".49"/>
<path d="M415.7 1228.53C437.75 1228.53 437.75 1315.58 459.8 1315.58L459.8 1316.66C437.75 1316.66 437.75 1229.73 415.7 1229.73Z" fill="#FC8D62" fill-opacity=".49"/>
<path d="M415.7 1229.73C437.75 1229.73 437.75 1288.95 459.8 1288.95L459.8 1290.39C437.75 1290.39 437.75 1231.33 415.7 1231.33Z" fill="#FC8D62" fill-opacity=".49"/>
<path d="M415.7 1231.33C437.75 1231.33 437.75 1288.41 459.8 1288.41L459.8 1288.95C437.75 1288.95 437.75 1231.93 415.7 1231.93Z" fill="#FC8D62" fill-opacity=".49"/>
<path d="M415.7 1247.15C437.75 1247.15 437.75 1294.16 459.8 1294.16L459.8 1295.96C437.75 1295.96 437.75 1249.15 415.7 1249.15Z" fill="#FC8D62" fill-opacity=".49"/>
<path d="M415.7 1272.23C437.75 1272.23 437.75 1234.05 459.8 1234.05L459.8 1235.93C437.75 1235.93 437.75 1273.83 415.7 1273.83Z" fill="#FC8D62" fill-opacity=".49"/>
<path d="M415.7 1273.83C437.75 1273.83 437.75 1313.43 459.8 1313.43L459.8 1314.51C437.75 1314.51 437.75 1275.03 415.7 1275.03Z" fill="#FC8D62" fill-opacity=".49"/>
<path d="M415.7 1275.03C437.75 1275.03 437.75 1468.74 459.8 1468.74L459.8 1469.53C437.75 1469.53 437.75 1276.23 415.7 1276.23Z" fill="#FC8D62" fill-opacity=".49"/>
<path d="M415.7 1276.23C437.75 1276.23 437.75 1235.93 459.8 1235.93L459.8 1237.16C437.75 1237.16 437.75 1277.28 415.7 1277.28Z" fill="#FC8D62" fill-opacity=".49"/>
<path d="M415.7 1277.28C437.75 1277.28 437.75 1217.62 459.8 1217.62L459.8 1223.39C437.75 1223.39 437.75 1282.25 415.7 1282.25Z" fill="#FC8D62" fill-opacity=".49"/>
<path d="M415.7 1281.95C437.75 1281.95 437.75 1223.09 459.8 1223.09L459.8 1228.87C437.75 1228.87 437.75 1286.93 415.7 1286.93Z" fill="#FC8D62" fill-opacity=".49"/>
<path d="M415.7 1286.63C437.75 1286.63 437.75 1228.57 459.8 1228.57L459.8 1234.05C437.75 1234.05 437.75 1291.3 415.7 1291.3Z" fill="#FC8D62" fill-opacity=".49"/>
<path d="M415.7 1292.5C437.75 1292.5 437.75 1196.96 459.8 1196.96L459.8 1198.84C437.75 1198.84 437.75 1294.1 415.7 1294.1Z" fill="#FC8D62" fill-opacity=".49"/>
<path d="M415.7 1296.7C437.75 1296.7 437.75 1361.48 459.8 1361.48L459.8 1362.02C437.75 1362.02 437.75 1297.3 415.7 1297.3Z" fill="#FC8D62" fill-opacity=".49"/>
<path d="M415.7 1297.3C437.75 1297.3 437.75 1316.66 459.8 1316.66L459.8 1320.55C437.75 1320.55 437.75 1301.61 415.7 1301.61Z" fill="#FC8D62" fill-opacity=".49"/>
<path d="M415.7 1301.31C437.75 1301.31 437.75 1320.25 459.8 1320.25L459.8 1323.85C437.75 1323.85 437.75 1305.31 415.7 1305.31Z" fill="#FC8D62" fill-opacity=".49"/>
<path d="M415.7 1312.32C437.75 1312.32 437.75 1332.47 459.8 1332.47L459.8 1336.36C437.75 1336.36 437.75 1316.63 415.7 1316.63Z" fill="#FC8D62" fill-opacity=".49"/>
<path d="M415.7 1316.33C437.75 1316.33 437.75 1336.06 459.8 1336.06L459.8 1339.66C437.75 1339.66 437.75 1320.33 415.7 1320.33Z" fill="#FC8D62" fill-opacity=".49"/>
<path d="M415.7 1320.33C437.75 1320.33 437.75 1340.73 459.8 1340.73L459.8 1345.18C437.75 1345.18 437.75 1325.25 415.7 1325.25Z" fill="#FC8D62" fill-opacity=".49"/>
<path d="M415.7 1324.95C437.75 1324.95 437.75 1344.88 459.8 1344.88L459.8 1349.33C437.75 1349.33 437.75 1329.88 415.7 1329.88Z" fill="#FC8D62" fill-opacity=".49"/>
<path d="M415.7 1329.58C437.75 1329.58 437.75 1349.03 459.8 1349.03L459.8 1353.48C437.75 1353.48 437.75 1334.51 415.7 1334.51Z" fill="#FC8D62" fill-opacity=".49"/>
<path d="M415.7 1334.21C437.75 1334.21 437.75 1353.18 459.8 1353.18L459.8 1357.63C437.75 1357.63 437.75 1339.13 415.7 1339.13Z" fill="#FC8D62" fill-opacity=".49"/>
<path d="M415.7 1338.83C437.75 1338.83 437.75 1357.33 459.8 1357.33L459.8 1361.48C437.75 1361.48 437.75 1343.46 415.7 1343.46Z" fill="#FC8D62" fill-opacity=".49"/>
<path d="M415.7 1343.46C437.75 1343.46 437.75 1429.08 459.8 1429.08L459.8 1430.16C437.75 1430.16 437.75 1344.66 415.7 1344.66Z" fill="#FC8D62" fill-opacity=".49"/>
<path d="M415.7 1344.66C437.75 1344.66 437.75 1474.63 459.8 1474.63L459.8 1475.42C437.75 1475.42 437.75 1345.86 415.7 1345.86Z" fill="#FC8D62" fill-opacity=".49"/>
<path d="M415.7 1347.46C437.75 1347.46 437.75 1394.96 459.8 1394.96L459.8 1396.76C437.75 1396.76 437.75 1349.46 415.7 1349.46Z" fill="#FC8D62" fill-opacity=".49"/>
<path d="M415.7 1349.46C437.75 1349.46 437.75 1215.27 459.8 1215.27L459.8 1217.62C437.75 1217.62 437.75 1351.46 415.7 1351.46Z" fill="#FC8D62" fill-opacity=".49"/>
<path d="M415.7 1351.46C437.75 1351.46 437.75 1384.28 459.8 1384.28L459.8 1385.99C437.75 1385.99 437.75 1353.37 415.7 1353.37Z" fill="#FC8D62" fill-opacity=".49"/>
<path d="M415.7 1371.39C437.75 1371.39 437.75 1375.86 459.8 1375.86L459.8 1380.37C437.75 1380.37 437.75 1376.38 415.7 1376.38Z" fill="#FC8D62" fill-opacity=".49"/>
<path d="M415.7 1376.08C437.75 1376.08 437.75 1380.07 459.8 1380.07L459.8 1384.28C437.75 1384.28 437.75 1380.78 415.7 1380.78Z" fill="#FC8D62" fill-opacity=".49"/>
<path d="M415.7 1380.78C437.75 1380.78 437.75 1430.16 459.8 1430.16L459.8 1431.95C437.75 1431.95 437.75 1382.78 415.7 1382.78Z" fill="#FC8D62" fill-opacity=".49"/>
<path d="M415.7 1382.78C437.75 1382.78 437.75 1403.93 459.8 1403.93L459.8 1405.75C437.75 1405.75 437.75 1384.8 415.7 1384.8Z" fill="#FC8D62" fill-opacity=".49"/>
<path d="M415.7 1384.8C437.75 1384.8 437.75 1385.99 459.8 1385.99L459.8 1390.77C437.75 1390.77 437.75 1390.1 415.7 1390.1Z" fill="#FC8D62" fill-opacity=".49"/>
<path d="M415.7 1389.8C437.75 1389.8 437.75 1390.47 459.8 1390.47L459.8 1394.96C437.75 1394.96 437.75 1394.8 415.7 1394.8Z" fill="#FC8D62" fill-opacity=".49"/>
<path d="M415.7 1402.8C437.75 1402.8 437.75 1238.33 459.8 1238.33L459.8 1245.37C437.75 1245.37 437.75 1408.8 415.7 1408.8Z" fill="#FC8D62" fill-opacity=".49"/>
<path d="M415.7 1408.8C437.75 1408.8 437.75 1405.75 459.8 1405.75L459.8 1409.94C437.75 1409.94 437.75 1413.43 415.7 1413.43Z" fill="#FC8D62" fill-opacity=".49"/>
<path d="M415.7 1413.13C437.75 1413.13 437.75 1409.64 459.8 1409.64L459.8 1413.83C437.75 1413.83 437.75 1417.77 415.7 1417.77Z" fill="#FC8D62" fill-opacity=".49"/>
<path d="M415.7 1417.47C437.75 1417.47 437.75 1413.53 459.8 1413.53L459.8 1417.71C437.75 1417.71 437.75 1422.1 415.7 1422.1Z" fill="#FC8D62" fill-opacity=".49"/>
<path d="M415.7 1421.8C437.75 1421.8 437.75 1417.41 459.8 1417.41L459.8 1421.6C437.75 1421.6 437.75 1426.43 415.7 1426.43Z" fill="#FC8D62" fill-opacity=".49"/>
<path d="M415.7 1426.13C437.75 1426.13 437.75 1421.3 459.8 1421.3L459.8 1425.49C437.75 1425.49 437.75 1430.77 415.7 1430.77Z" fill="#FC8D62" fill-opacity=".49"/>
<path d="M415.7 1430.47C437.75 1430.47 437.75 1425.19 459.8 1425.19L459.8 1429.08C437.75 1429.08 437.75 1434.8 415.7 1434.8Z" fill="#FC8D62" fill-opacity=".49"/>
<path d="M415.7 1453.4C437.75 1453.4 437.75 1439.67 459.8 1439.67L459.8 1443.56C437.75 1443.56 437.75 1457.7 415.7 1457.7Z" fill="#FC8D62" fill-opacity=".49"/>
<path d="M415.7 1457.4C437.75 1457.4 437.75 1443.26 459.8 1443.26L459.8 1446.85C437.75 1446.85 437.75 1461.4 415.7 1461.4Z" fill="#FC8D62" fill-opacity=".49"/>
<path d="M415.7 1461.4C437.75 1461.4 437.75 1446.85 459.8 1446.85L459.8 1451.33C437.75 1451.33 437.75 1466.37 415.7 1466.37Z" fill="#FC8D62" fill-opacity=".49"/>
<path d="M415.7 1466.07C437.75 1466.07 437.75 1451.03 459.8 1451.03L459.8 1455.52C437.75 1455.52 437.75 1471.03 415.7 1471.03Z" fill="#FC8D62" fill-opacity=".49"/>
<path d="M415.7 1470.73C437.75 1470.73 437.75 1455.22 459.8 1455.22L459.8 1459.41C437.75 1459.41 437.75 1475.4 415.7 1475.4Z" fill="#FC8D62" fill-opacity=".49"/>
<path d="M415.7 1488.3C437.75 1488.3 437.75 1475.42 459.8 1475.42L459.8 1477.38C437.75 1477.38 437.75 1491.3 415.7 1491.3Z" fill="#FC8D62" fill-opacity=".49"/>
<path d="M415.7 1491.3C437.75 1491.3 437.75 1481.3 459.8 1481.3L459.8 1488.7C437.75 1488.7 437.75 1493.3 415.7 1493.3Z" fill="#FC8D62" fill-opacity=".49"/>
<path d="M415.7 1493.3C437.75 1493.3 437.75 1488.7 459.8 1488.7L459.8 1494.3C437.75 1494.3 437.75 1494.3 415.7 1494.3Z" fill="#FC8D62" fill-opacity=".49"/>
<path d="M482.5 1108.7C504.5 1108.7 504.5 1108.7 526.5 1108.7L526.5 1113.59C504.5 1113.59 504.5 1113.6 482.5 1113.6Z" fill="#66C2A5"/>
<path d="M482.5 1113.3C504.5 1113.3 504.5 1113.29 526.5 1113.29L526.5 1118.18C504.5 1118.18 504.5 1118.2 482.5 1118.2Z" fill="#66C2A5"/>
<path d="M482.5 1117.9C504.5 1117.9 504.5 1117.88 526.5 1117.88L526.5 1122.77C504.5 1122.77 504.5 1122.8 482.5 1122.8Z" fill="#66C2A5"/>
<path d="M482.5 1122.5C504.5 1122.5 504.5 1122.47 526.5 1122.47L526.5 1127.36C504.5 1127.36 504.5 1127.4 482.5 1127.4Z" fill="#66C2A5"/>
<path d="M482.5 1127.1C504.5 1127.1 504.5 1127.06 526.5 1127.06L526.5 1131.65C504.5 1131.65 504.5 1131.7 482.5 1131.7Z" fill="#66C2A5"/>
<path d="M482.5 1149.7C504.5 1149.7 504.5 1131.65 526.5 1131.65L526.5 1136.44C504.5 1136.44 504.5 1154.5 482.5 1154.5Z" fill="#66C2A5"/>
<path d="M482.5 1154.2C504.5 1154.2 504.5 1136.14 526.5 1136.14L526.5 1140.93C504.5 1140.93 504.5 1159 482.5 1159Z" fill="#66C2A5"/>
<path d="M482.5 1158.7C504.5 1158.7 504.5 1140.63 526.5 1140.63L526.5 1145.42C504.5 1145.42 504.5 1163.5 482.5 1163.5Z" fill="#66C2A5"/>
<path d="M482.5 1163.2C504.5 1163.2 504.5 1145.12 526.5 1145.12L526.5 1149.91C504.5 1149.91 504.5 1168 482.5 1168Z" fill="#66C2A5"/>
<path d="M482.5 1167.7C504.5 1167.7 504.5 1149.61 526.5 1149.61L526.5 1154.41C504.5 1154.41 504.5 1172.5 482.5 1172.5Z" fill="#66C2A5"/>
<path d="M482.5 1172.2C504.5 1172.2 504.5 1154.11 526.5 1154.11L526.5 1158.9C504.5 1158.9 504.5 1177 482.5 1177Z" fill="#66C2A5"/>
<path d="M482.5 1176.7C504.5 1176.7 504.5 1158.6 526.5 1158.6L526.5 1163.39C504.5 1163.39 504.5 1181.5 482.5 1181.5Z" fill="#66C2A5"/>
<path d="M482.5 1181.2C504.5 1181.2 504.5 1163.09 526.5 1163.09L526.5 1167.88C504.5 1167.88 504.5 1186 482.5 1186Z" fill="#66C2A5"/>
<path d="M482.5 1185.7C504.5 1185.7 504.5 1167.58 526.5 1167.58L526.5 1172.37C504.5 1172.37 504.5 1190.5 482.5 1190.5Z" fill="#66C2A5"/>
<path d="M482.5 1190.2C504.5 1190.2 504.5 1172.07 526.5 1172.07L526.5 1176.56C504.5 1176.56 504.5 1194.7 482.5 1194.7Z" fill="#66C2A5"/>
<path d="M482.5 1194.7C504.5 1194.7 504.5 1252.9 526.5 1252.9L526.5 1257.2C504.5 1257.2 504.5 1199 482.5 1199Z" fill="#66C2A5"/>
<path d="M482.5 1198.7C504.5 1198.7 504.5 1256.9 526.5 1256.9L526.5 1260.91C504.5 1260.91 504.5 1202.7 482.5 1202.7Z" fill="#66C2A5"/>
<path d="M482.5 1258.5C504.5 1258.5 504.5 1260.91 526.5 1260.91L526.5 1265.21C504.5 1265.21 504.5 1262.8 482.5 1262.8Z" fill="#66C2A5"/>
<path d="M482.5 1262.5C504.5 1262.5 504.5 1264.91 526.5 1264.91L526.5 1269.22C504.5 1269.22 504.5 1266.8 482.5 1266.8Z" fill="#66C2A5"/>
<path d="M482.5 1266.5C504.5 1266.5 504.5 1268.92 526.5 1268.92L526.5 1273.22C504.5 1273.22 504.5 1270.8 482.5 1270.8Z" fill="#66C2A5"/>
<path d="M482.5 1270.5C504.5 1270.5 504.5 1272.92 526.5 1272.92L526.5 1277.23C504.5 1277.23 504.5 1274.8 482.5 1274.8Z" fill="#66C2A5"/>
<path d="M482.5 1274.5C504.5 1274.5 504.5 1276.93 526.5 1276.93L526.5 1280.93C504.5 1280.93 504.5 1278.5 482.5 1278.5Z" fill="#66C2A5"/>
<path d="M482.5 1293.5C504.5 1293.5 504.5 1176.56 526.5 1176.56L526.5 1181.85C504.5 1181.85 504.5 1298.8 482.5 1298.8Z" fill="#66C2A5"/>
<path d="M482.5 1298.5C504.5 1298.5 504.5 1181.55 526.5 1181.55L526.5 1186.54C504.5 1186.54 504.5 1303.5 482.5 1303.5Z" fill="#66C2A5"/>
<path d="M482.5 1321.5C504.5 1321.5 504.5 1280.93 526.5 1280.93L526.5 1285.69C504.5 1285.69 504.5 1326.25 482.5 1326.25Z" fill="#66C2A5"/>
<path d="M482.5 1325.95C504.5 1325.95 504.5 1285.39 526.5 1285.39L526.5 1290.16C504.5 1290.16 504.5 1330.71 482.5 1330.71Z" fill="#66C2A5"/>
<path d="M482.5 1330.41C504.5 1330.41 504.5 1289.86 526.5 1289.86L526.5 1294.62C504.5 1294.62 504.5 1335.16 482.5 1335.16Z" fill="#66C2A5"/>
<path d="M482.5 1334.86C504.5 1334.86 504.5 1294.32 526.5 1294.32L526.5 1299.08C504.5 1299.08 504.5 1339.62 482.5 1339.62Z" fill="#66C2A5"/>
<path d="M482.5 1339.32C504.5 1339.32 504.5 1298.78 526.5 1298.78L526.5 1303.54C504.5 1303.54 504.5 1344.07 482.5 1344.07Z" fill="#66C2A5"/>
<path d="M482.5 1343.77C504.5 1343.77 504.5 1303.24 526.5 1303.24L526.5 1308C504.5 1308 504.5 1348.53 482.5 1348.53Z" fill="#66C2A5"/>
<path d="M482.5 1348.23C504.5 1348.23 504.5 1307.7 526.5 1307.7L526.5 1312.46C504.5 1312.46 504.5 1352.98 482.5 1352.98Z" fill="#66C2A5"/>
<path d="M482.5 1352.68C504.5 1352.68 504.5 1312.16 526.5 1312.16L526.5 1316.92C504.5 1316.92 504.5 1357.44 482.5 1357.44Z" fill="#66C2A5"/>
<path d="M482.5 1357.14C504.5 1357.14 504.5 1316.62 526.5 1316.62L526.5 1321.38C504.5 1321.38 504.5 1361.89 482.5 1361.89Z" fill="#66C2A5"/>
<path d="M482.5 1361.59C504.5 1361.59 504.5 1321.08 526.5 1321.08L526.5 1325.84C504.5 1325.84 504.5 1366.35 482.5 1366.35Z" fill="#66C2A5"/>
<path d="M482.5 1366.05C504.5 1366.05 504.5 1325.54 526.5 1325.54L526.5 1330C504.5 1330 504.5 1370.5 482.5 1370.5Z" fill="#66C2A5"/>
<path d="M482.5 1436.5C504.5 1436.5 504.5 1186.54 526.5 1186.54L526.5 1192.53C504.5 1192.53 504.5 1442.5 482.5 1442.5Z" fill="#66C2A5"/>
<path d="M482.5 1450.5C504.5 1450.5 504.5 1330 526.5 1330L526.5 1334.3C504.5 1334.3 504.5 1454.8 482.5 1454.8Z" fill="#66C2A5"/>
<path d="M482.5 1454.5C504.5 1454.5 504.5 1334 526.5 1334L526.5 1338.01C504.5 1338.01 504.5 1458.5 482.5 1458.5Z" fill="#66C2A5"/>
<path d="M482.5 1465.6C504.5 1465.6 504.5 1192.53 526.5 1192.53L526.5 1195.02C504.5 1195.02 504.5 1468.1 482.5 1468.1Z" fill="#66C2A5"/>
<path d="M482.5 1468.1C504.5 1468.1 504.5 1338.01 526.5 1338.01L526.5 1341.81C504.5 1341.81 504.5 1471.9 482.5 1471.9Z" fill="#66C2A5"/>
<path d="M482.5 1471.6C504.5 1471.6 504.5 1341.51 526.5 1341.51L526.5 1345.01C504.5 1345.01 504.5 1475.1 482.5 1475.1Z" fill="#66C2A5"/>
<path d="M482.5 1131.7C504.5 1131.7 504.5 1195.02 526.5 1195.02L526.5 1199.81C504.5 1199.81 504.5 1136.5 482.5 1136.5Z" fill="#FC8D62" fill-opacity=".49"/>
<path d="M482.5 1136.2C504.5 1136.2 504.5 1199.51 526.5 1199.51L526.5 1204.3C504.5 1204.3 504.5 1141 482.5 1141Z" fill="#FC8D62" fill-opacity=".49"/>
<path d="M482.5 1140.7C504.5 1140.7 504.5 1204 526.5 1204L526.5 1208.79C504.5 1208.79 504.5 1145.5 482.5 1145.5Z" fill="#FC8D62" fill-opacity=".49"/>
<path d="M482.5 1145.2C504.5 1145.2 504.5 1208.49 526.5 1208.49L526.5 1212.98C504.5 1212.98 504.5 1149.7 482.5 1149.7Z" fill="#FC8D62" fill-opacity=".49"/>
<path d="M482.5 1202.7C504.5 1202.7 504.5 1212.98 526.5 1212.98L526.5 1217.5C504.5 1217.5 504.5 1207.22 482.5 1207.22Z" fill="#FC8D62" fill-opacity=".49"/>
<path d="M482.5 1206.92C504.5 1206.92 504.5 1217.2 526.5 1217.2L526.5 1221.71C504.5 1221.71 504.5 1211.44 482.5 1211.44Z" fill="#FC8D62" fill-opacity=".49"/>
<path d="M482.5 1211.14C504.5 1211.14 504.5 1221.41 526.5 1221.41L526.5 1225.92C504.5 1225.92 504.5 1215.67 482.5 1215.67Z" fill="#FC8D62" fill-opacity=".49"/>
<path d="M482.5 1215.37C504.5 1215.37 504.5 1225.62 526.5 1225.62L526.5 1230.14C504.5 1230.14 504.5 1219.89 482.5 1219.89Z" fill="#FC8D62" fill-opacity=".49"/>
<path d="M482.5 1219.59C504.5 1219.59 504.5 1229.84 526.5 1229.84L526.5 1234.35C504.5 1234.35 504.5 1224.11 482.5 1224.11Z" fill="#FC8D62" fill-opacity=".49"/>
<path d="M482.5 1223.81C504.5 1223.81 504.5 1234.05 526.5 1234.05L526.5 1238.56C504.5 1238.56 504.5 1228.33 482.5 1228.33Z" fill="#FC8D62" fill-opacity=".49"/>
<path d="M482.5 1228.03C504.5 1228.03 504.5 1238.26 526.5 1238.26L526.5 1242.78C504.5 1242.78 504.5 1232.56 482.5 1232.56Z" fill="#FC8D62" fill-opacity=".49"/>
<path d="M482.5 1232.26C504.5 1232.26 504.5 1242.48 526.5 1242.48L526.5 1246.99C504.5 1246.99 504.5 1236.78 482.5 1236.78Z" fill="#FC8D62" fill-opacity=".49"/>
<path d="M482.5 1236.48C504.5 1236.48 504.5 1246.69 526.5 1246.69L526.5 1250.9C504.5 1250.9 504.5 1240.7 482.5 1240.7Z" fill="#FC8D62" fill-opacity=".49"/>
<path d="M482.5 1240.7C504.5 1240.7 504.5 1345.01 526.5 1345.01L526.5 1349.77C504.5 1349.77 504.5 1245.45 482.5 1245.45Z" fill="#FC8D62" fill-opacity=".49"/>
<path d="M482.5 1245.15C504.5 1245.15 504.5 1349.47 526.5 1349.47L526.5 1354.23C504.5 1354.23 504.5 1249.9 482.5 1249.9Z" fill="#FC8D62" fill-opacity=".49"/>
<path d="M482.5 1249.6C504.5 1249.6 504.5 1353.93 526.5 1353.93L526.5 1358.68C504.5 1358.68 504.5 1254.35 482.5 1254.35Z" fill="#FC8D62" fill-opacity=".49"/>
<path d="M482.5 1254.05C504.5 1254.05 504.5 1358.38 526.5 1358.38L526.5 1362.84C504.5 1362.84 504.5 1258.5 482.5 1258.5Z" fill="#FC8D62" fill-opacity=".49"/>
<path d="M482.5 1278.5C504.5 1278.5 504.5 1250.9 526.5 1250.9L526.5 1252.9C504.5 1252.9 504.5 1280.5 482.5 1280.5Z" fill="#FC8D62" fill-opacity=".49"/>
<path d="M482.5 1280.5C504.5 1280.5 504.5 1362.84 526.5 1362.84L526.5 1367.48C504.5 1367.48 504.5 1285.13 482.5 1285.13Z" fill="#FC8D62" fill-opacity=".49"/>
<path d="M482.5 1284.83C504.5 1284.83 504.5 1367.18 526.5 1367.18L526.5 1371.81C504.5 1371.81 504.5 1289.47 482.5 1289.47Z" fill="#FC8D62" fill-opacity=".49"/>
<path d="M482.5 1289.17C504.5 1289.17 504.5 1371.51 526.5 1371.51L526.5 1375.85C504.5 1375.85 504.5 1293.5 482.5 1293.5Z" fill="#FC8D62" fill-opacity=".49"/>
<path d="M482.5 1303.5C504.5 1303.5 504.5 1375.85 526.5 1375.85L526.5 1380.66C504.5 1380.66 504.5 1308.3 482.5 1308.3Z" fill="#FC8D62" fill-opacity=".49"/>
<path d="M482.5 1308C504.5 1308 504.5 1380.36 526.5 1380.36L526.5 1385.16C504.5 1385.16 504.5 1312.8 482.5 1312.8Z" fill="#FC8D62" fill-opacity=".49"/>
<path d="M482.5 1312.5C504.5 1312.5 504.5 1384.86 526.5 1384.86L526.5 1389.67C504.5 1389.67 504.5 1317.3 482.5 1317.3Z" fill="#FC8D62" fill-opacity=".49"/>
<path d="M482.5 1317C504.5 1317 504.5 1389.37 526.5 1389.37L526.5 1393.88C504.5 1393.88 504.5 1321.5 482.5 1321.5Z" fill="#FC8D62" fill-opacity=".49"/>
<path d="M482.5 1370.5C504.5 1370.5 504.5 1393.88 526.5 1393.88L526.5 1398.58C504.5 1398.58 504.5 1375.2 482.5 1375.2Z" fill="#FC8D62" fill-opacity=".49"/>
<path d="M482.5 1374.9C504.5 1374.9 504.5 1398.28 526.5 1398.28L526.5 1402.99C504.5 1402.99 504.5 1379.6 482.5 1379.6Z" fill="#FC8D62" fill-opacity=".49"/>
<path d="M482.5 1379.3C504.5 1379.3 504.5 1402.69 526.5 1402.69L526.5 1407.39C504.5 1407.39 504.5 1384 482.5 1384Z" fill="#FC8D62" fill-opacity=".49"/>
<path d="M482.5 1383.7C504.5 1383.7 504.5 1407.09 526.5 1407.09L526.5 1411.8C504.5 1411.8 504.5 1388.4 482.5 1388.4Z" fill="#FC8D62" fill-opacity=".49"/>
<path d="M482.5 1388.1C504.5 1388.1 504.5 1411.5 526.5 1411.5L526.5 1416.2C504.5 1416.2 504.5 1392.8 482.5 1392.8Z" fill="#FC8D62" fill-opacity=".49"/>
<path d="M482.5 1392.5C504.5 1392.5 504.5 1415.9 526.5 1415.9L526.5 1420.61C504.5 1420.61 504.5 1397.2 482.5 1397.2Z" fill="#FC8D62" fill-opacity=".49"/>
<path d="M482.5 1396.9C504.5 1396.9 504.5 1420.31 526.5 1420.31L526.5 1425.01C504.5 1425.01 504.5 1401.6 482.5 1401.6Z" fill="#FC8D62" fill-opacity=".49"/>
<path d="M482.5 1401.3C504.5 1401.3 504.5 1424.71 526.5 1424.71L526.5 1429.42C504.5 1429.42 504.5 1406 482.5 1406Z" fill="#FC8D62" fill-opacity=".49"/>
<path d="M482.5 1405.7C504.5 1405.7 504.5 1429.12 526.5 1429.12L526.5 1433.82C504.5 1433.82 504.5 1410.4 482.5 1410.4Z" fill="#FC8D62" fill-opacity=".49"/>
<path d="M482.5 1410.1C504.5 1410.1 504.5 1433.52 526.5 1433.52L526.5 1438.23C504.5 1438.23 504.5 1414.8 482.5 1414.8Z" fill="#FC8D62" fill-opacity=".49"/>
<path d="M482.5 1414.5C504.5 1414.5 504.5 1437.93 526.5 1437.93L526.5 1442.64C504.5 1442.64 504.5 1419.2 482.5 1419.2Z" fill="#FC8D62" fill-opacity=".49"/>
<path d="M482.5 1418.9C504.5 1418.9 504.5 1442.34 526.5 1442.34L526.5 1447.04C504.5 1447.04 504.5 1423.6 482.5 1423.6Z" fill="#FC8D62" fill-opacity=".49"/>
<path d="M482.5 1423.3C504.5 1423.3 504.5 1446.74 526.5 1446.74L526.5 1451.45C504.5 1451.45 504.5 1428 482.5 1428Z" fill="#FC8D62" fill-opacity=".49"/>
<path d="M482.5 1427.7C504.5 1427.7 504.5 1451.15 526.5 1451.15L526.5 1455.85C504.5 1455.85 504.5 1432.4 482.5 1432.4Z" fill="#FC8D62" fill-opacity=".49"/>
<path d="M482.5 1432.1C504.5 1432.1 504.5 1455.55 526.5 1455.55L526.5 1459.96C504.5 1459.96 504.5 1436.5 482.5 1436.5Z" fill="#FC8D62" fill-opacity=".49"/>
<path d="M482.5 1442.5C504.5 1442.5 504.5 1459.96 526.5 1459.96L526.5 1464.26C504.5 1464.26 504.5 1446.8 482.5 1446.8Z" fill="#FC8D62" fill-opacity=".49"/>
<path d="M482.5 1446.5C504.5 1446.5 504.5 1463.96 526.5 1463.96L526.5 1467.97C504.5 1467.97 504.5 1450.5 482.5 1450.5Z" fill="#FC8D62" fill-opacity=".49"/>
<path d="M482.5 1458.5C504.5 1458.5 504.5 1467.97 526.5 1467.97L526.5 1471.82C504.5 1471.82 504.5 1462.35 482.5 1462.35Z" fill="#FC8D62" fill-opacity=".49"/>
<path d="M482.5 1462.05C504.5 1462.05 504.5 1471.52 526.5 1471.52L526.5 1475.08C504.5 1475.08 504.5 1465.6 482.5 1465.6Z" fill="#FC8D62" fill-opacity=".49"/>
<path d="M482.5 1475.1C504.5 1475.1 504.5 1475.08 526.5 1475.08L526.5 1481.28C504.5 1481.28 504.5 1481.3 482.5 1481.3Z" fill="#FC8D62" fill-opacity=".49"/>
<path d="M482.5 1481.3C504.5 1481.3 504.5 1481.28 526.5 1481.28L526.5 1485.29C504.5 1485.29 504.5 1485.3 482.5 1485.3Z" fill="#FC8D62" fill-opacity=".49"/>
<path d="M482.5 1485C504.5 1485 504.5 1484.99 526.5 1484.99L526.5 1488.69C504.5 1488.69 504.5 1488.7 482.5 1488.7Z" fill="#FC8D62" fill-opacity=".49"/>
<path d="M482.5 1488.7C504.5 1488.7 504.5 1488.69 526.5 1488.69L526.5 1494.3C504.5 1494.3 504.5 1494.3 482.5 1494.3Z" fill="#FC8D62" fill-opacity=".49"/>
<path d="M549.2 1108.7C571 1108.7 571 1108.7 592.8 1108.7L592.8 1113.33C571 1113.33 571 1113.33 549.2 1113.33Z" fill="#66C2A5"/>
<path d="M549.2 1113.03C571 1113.03 571 1113.03 592.8 1113.03L592.8 1117.65C571 1117.65 571 1117.65 549.2 1117.65Z" fill="#66C2A5"/>
<path d="M549.2 1117.35C571 1117.35 571 1117.35 592.8 1117.35L592.8 1121.97C571 1121.97 571 1121.97 549.2 1121.97Z" fill="#66C2A5"/>
<path d="M549.2 1121.67C571 1121.67 571 1121.67 592.8 1121.67L592.8 1126.3C571 1126.3 571 1126.3 549.2 1126.3Z" fill="#66C2A5"/>
<path d="M549.2 1126C571 1126 571 1126 592.8 1126L592.8 1130.62C571 1130.62 571 1130.62 549.2 1130.62Z" fill="#66C2A5"/>
<path d="M549.2 1130.33C571 1130.33 571 1130.33 592.8 1130.33L592.8 1134.95C571 1134.95 571 1134.95 549.2 1134.95Z" fill="#66C2A5"/>
<path d="M549.2 1134.65C571 1134.65 571 1134.65 592.8 1134.65L592.8 1139.28C571 1139.28 571 1139.28 549.2 1139.28Z" fill="#66C2A5"/>
<path d="M549.2 1138.98C571 1138.98 571 1138.98 592.8 1138.98L592.8 1143.6C571 1143.6 571 1143.6 549.2 1143.6Z" fill="#66C2A5"/>
<path d="M549.2 1143.3C571 1143.3 571 1143.3 592.8 1143.3L592.8 1147.92C571 1147.92 571 1147.92 549.2 1147.92Z" fill="#66C2A5"/>
<path d="M549.2 1147.62C571 1147.62 571 1147.62 592.8 1147.62L592.8 1152.25C571 1152.25 571 1152.25 549.2 1152.25Z" fill="#66C2A5"/>
<path d="M549.2 1151.95C571 1151.95 571 1151.95 592.8 1151.95L592.8 1156.58C571 1156.58 571 1156.58 549.2 1156.58Z" fill="#66C2A5"/>
<path d="M549.2 1156.28C571 1156.28 571 1156.28 592.8 1156.28L592.8 1160.9C571 1160.9 571 1160.9 549.2 1160.9Z" fill="#66C2A5"/>
<path d="M549.2 1160.6C571 1160.6 571 1160.6 592.8 1160.6L592.8 1165.23C571 1165.23 571 1165.23 549.2 1165.23Z" fill="#66C2A5"/>
<path d="M549.2 1164.93C571 1164.93 571 1164.93 592.8 1164.93L592.8 1169.55C571 1169.55 571 1169.55 549.2 1169.55Z" fill="#66C2A5"/>
<path d="M549.2 1169.25C571 1169.25 571 1169.25 592.8 1169.25L592.8 1173.88C571 1173.88 571 1173.88 549.2 1173.88Z" fill="#66C2A5"/>
<path d="M549.2 1173.58C571 1173.58 571 1173.58 592.8 1173.58L592.8 1178.2C571 1178.2 571 1178.2 549.2 1178.2Z" fill="#66C2A5"/>
<path d="M549.2 1177.9C571 1177.9 571 1177.9 592.8 1177.9L592.8 1182.53C571 1182.53 571 1182.53 549.2 1182.53Z" fill="#66C2A5"/>
<path d="M549.2 1182.23C571 1182.23 571 1182.23 592.8 1182.23L592.8 1186.85C571 1186.85 571 1186.85 549.2 1186.85Z" fill="#66C2A5"/>
<path d="M549.2 1186.55C571 1186.55 571 1186.55 592.8 1186.55L592.8 1191.17C571 1191.17 571 1191.17 549.2 1191.17Z" fill="#66C2A5"/>
<path d="M549.2 1190.88C571 1190.88 571 1190.88 592.8 1190.88L592.8 1195.2C571 1195.2 571 1195.2 549.2 1195.2Z" fill="#66C2A5"/>
<path d="M549.2 1252.9C571 1252.9 571 1195.2 592.8 1195.2L592.8 1199.88C571 1199.88 571 1257.58 549.2 1257.58Z" fill="#66C2A5"/>
<path d="M549.2 1257.28C571 1257.28 571 1199.58 592.8 1199.58L592.8 1204.26C571 1204.26 571 1261.96 549.2 1261.96Z" fill="#66C2A5"/>
<path d="M549.2 1261.66C571 1261.66 571 1203.96 592.8 1203.96L592.8 1208.64C571 1208.64 571 1266.34 549.2 1266.34Z" fill="#66C2A5"/>
<path d="M549.2 1266.04C571 1266.04 571 1208.34 592.8 1208.34L592.8 1213.02C571 1213.02 571 1270.72 549.2 1270.72Z" fill="#66C2A5"/>
<path d="M549.2 1270.42C571 1270.42 571 1212.72 592.8 1212.72L592.8 1217.4C571 1217.4 571 1275.1 549.2 1275.1Z" fill="#66C2A5"/>
<path d="M549.2 1274.8C571 1274.8 571 1217.1 592.8 1217.1L592.8 1221.79C571 1221.79 571 1279.49 549.2 1279.49Z" fill="#66C2A5"/>
<path d="M549.2 1279.19C571 1279.19 571 1221.49 592.8 1221.49L592.8 1226.17C571 1226.17 571 1283.87 549.2 1283.87Z" fill="#66C2A5"/>
<path d="M549.2 1283.57C571 1283.57 571 1225.87 592.8 1225.87L592.8 1230.55C571 1230.55 571 1288.25 549.2 1288.25Z" fill="#66C2A5"/>
<path d="M549.2 1287.95C571 1287.95 571 1230.25 592.8 1230.25L592.8 1234.93C571 1234.93 571 1292.63 549.2 1292.63Z" fill="#66C2A5"/>
<path d="M549.2 1292.33C571 1292.33 571 1234.63 592.8 1234.63L592.8 1239.31C571 1239.31 571 1297.01 549.2 1297.01Z" fill="#66C2A5"/>
<path d="M549.2 1296.71C571 1296.71 571 1239.01 592.8 1239.01L592.8 1243.69C571 1243.69 571 1301.39 549.2 1301.39Z" fill="#66C2A5"/>
<path d="M549.2 1301.09C571 1301.09 571 1243.39 592.8 1243.39L592.8 1248.07C571 1248.07 571 1305.77 549.2 1305.77Z" fill="#66C2A5"/>
<path d="M549.2 1305.47C571 1305.47 571 1247.77 592.8 1247.77L592.8 1252.45C571 1252.45 571 1310.15 549.2 1310.15Z" fill="#66C2A5"/>
<path d="M549.2 1309.85C571 1309.85 571 1252.15 592.8 1252.15L592.8 1256.83C571 1256.83 571 1314.53 549.2 1314.53Z" fill="#66C2A5"/>
<path d="M549.2 1314.23C571 1314.23 571 1256.53 592.8 1256.53L592.8 1261.21C571 1261.21 571 1318.91 549.2 1318.91Z" fill="#66C2A5"/>
<path d="M549.2 1318.61C571 1318.61 571 1260.91 592.8 1260.91L592.8 1265.6C571 1265.6 571 1323.3 549.2 1323.3Z" fill="#66C2A5"/>
<path d="M549.2 1323C571 1323 571 1265.3 592.8 1265.3L592.8 1269.98C571 1269.98 571 1327.68 549.2 1327.68Z" fill="#66C2A5"/>
<path d="M549.2 1327.38C571 1327.38 571 1269.68 592.8 1269.68L592.8 1274.36C571 1274.36 571 1332.06 549.2 1332.06Z" fill="#66C2A5"/>
<path d="M549.2 1331.76C571 1331.76 571 1274.06 592.8 1274.06L592.8 1278.74C571 1278.74 571 1336.44 549.2 1336.44Z" fill="#66C2A5"/>
<path d="M549.2 1336.14C571 1336.14 571 1278.44 592.8 1278.44L592.8 1283.12C571 1283.12 571 1340.82 549.2 1340.82Z" fill="#66C2A5"/>
<path d="M549.2 1340.52C571 1340.52 571 1282.82 592.8 1282.82L592.8 1287.2C571 1287.2 571 1344.9 549.2 1344.9Z" fill="#66C2A5"/>
<path d="M549.2 1195.2C571 1195.2 571 1287.2 592.8 1287.2L592.8 1291.94C571 1291.94 571 1199.94 549.2 1199.94Z" fill="#FC8D62" fill-opacity=".49"/>
<path d="M549.2 1199.64C571 1199.64 571 1291.64 592.8 1291.64L592.8 1296.38C571 1296.38 571 1204.38 549.2 1204.38Z" fill="#FC8D62" fill-opacity=".49"/>
<path d="M549.2 1204.08C571 1204.08 571 1296.08 592.8 1296.08L592.8 1300.82C571 1300.82 571 1208.82 549.2 1208.82Z" fill="#FC8D62" fill-opacity=".49"/>
<path d="M549.2 1208.52C571 1208.52 571 1300.52 592.8 1300.52L592.8 1305.25C571 1305.25 571 1213.25 549.2 1213.25Z" fill="#FC8D62" fill-opacity=".49"/>
<path d="M549.2 1212.95C571 1212.95 571 1304.95 592.8 1304.95L592.8 1309.69C571 1309.69 571 1217.69 549.2 1217.69Z" fill="#FC8D62" fill-opacity=".49"/>
<path d="M549.2 1217.39C571 1217.39 571 1309.39 592.8 1309.39L592.8 1314.13C571 1314.13 571 1222.13 549.2 1222.13Z" fill="#FC8D62" fill-opacity=".49"/>
<path d="M549.2 1221.83C571 1221.83 571 1313.83 592.8 1313.83L592.8 1318.57C571 1318.57 571 1226.57 549.2 1226.57Z" fill="#FC8D62" fill-opacity=".49"/>
<path d="M549.2 1226.27C571 1226.27 571 1318.27 592.8 1318.27L592.8 1323.01C571 1323.01 571 1231.01 549.2 1231.01Z" fill="#FC8D62" fill-opacity=".49"/>
<path d="M549.2 1230.71C571 1230.71 571 1322.71 592.8 1322.71L592.8 1327.45C571 1327.45 571 1235.45 549.2 1235.45Z" fill="#FC8D62" fill-opacity=".49"/>
<path d="M549.2 1235.15C571 1235.15 571 1327.15 592.8 1327.15L592.8 1331.88C571 1331.88 571 1239.88 549.2 1239.88Z" fill="#FC8D62" fill-opacity=".49"/>
<path d="M549.2 1239.58C571 1239.58 571 1331.58 592.8 1331.58L592.8 1336.32C571 1336.32 571 1244.32 549.2 1244.32Z" fill="#FC8D62" fill-opacity=".49"/>
<path d="M549.2 1244.02C571 1244.02 571 1336.02 592.8 1336.02L592.8 1340.76C571 1340.76 571 1248.76 549.2 1248.76Z" fill="#FC8D62" fill-opacity=".49"/>
<path d="M549.2 1248.46C571 1248.46 571 1340.46 592.8 1340.46L592.8 1344.9C571 1344.9 571 1252.9 549.2 1252.9Z" fill="#FC8D62" fill-opacity=".49"/>
<path d="M549.2 1344.9C571 1344.9 571 1344.9 592.8 1344.9L592.8 1349.47C571 1349.47 571 1349.47 549.2 1349.47Z" fill="#FC8D62" fill-opacity=".49"/>
<path d="M549.2 1349.17C571 1349.17 571 1349.17 592.8 1349.17L592.8 1353.74C571 1353.74 571 1353.74 549.2 1353.74Z" fill="#FC8D62" fill-opacity=".49"/>
<path d="M549.2 1353.44C571 1353.44 571 1353.44 592.8 1353.44L592.8 1358.01C571 1358.01 571 1358.01 549.2 1358.01Z" fill="#FC8D62" fill-opacity=".49"/>
<path d="M549.2 1357.71C571 1357.71 571 1357.71 592.8 1357.71L592.8 1362.27C571 1362.27 571 1362.27 549.2 1362.27Z" fill="#FC8D62" fill-opacity=".49"/>
<path d="M549.2 1361.97C571 1361.97 571 1361.97 592.8 1361.97L592.8 1366.54C571 1366.54 571 1366.54 549.2 1366.54Z" fill="#FC8D62" fill-opacity=".49"/>
<path d="M549.2 1366.24C571 1366.24 571 1366.24 592.8 1366.24L592.8 1370.81C571 1370.81 571 1370.81 549.2 1370.81Z" fill="#FC8D62" fill-opacity=".49"/>
<path d="M549.2 1370.51C571 1370.51 571 1370.51 592.8 1370.51L592.8 1375.08C571 1375.08 571 1375.08 549.2 1375.08Z" fill="#FC8D62" fill-opacity=".49"/>
<path d="M549.2 1374.78C571 1374.78 571 1374.78 592.8 1374.78L592.8 1379.35C571 1379.35 571 1379.35 549.2 1379.35Z" fill="#FC8D62" fill-opacity=".49"/>
<path d="M549.2 1379.05C571 1379.05 571 1379.05 592.8 1379.05L592.8 1383.62C571 1383.62 571 1383.62 549.2 1383.62Z" fill="#FC8D62" fill-opacity=".49"/>
<path d="M549.2 1383.32C571 1383.32 571 1383.32 592.8 1383.32L592.8 1387.89C571 1387.89 571 1387.89 549.2 1387.89Z" fill="#FC8D62" fill-opacity=".49"/>
<path d="M549.2 1387.59C571 1387.59 571 1387.59 592.8 1387.59L592.8 1392.15C571 1392.15 571 1392.15 549.2 1392.15Z" fill="#FC8D62" fill-opacity=".49"/>
<path d="M549.2 1391.85C571 1391.85 571 1391.85 592.8 1391.85L592.8 1396.42C571 1396.42 571 1396.42 549.2 1396.42Z" fill="#FC8D62" fill-opacity=".49"/>
<path d="M549.2 1396.12C571 1396.12 571 1396.12 592.8 1396.12L592.8 1400.69C571 1400.69 571 1400.69 549.2 1400.69Z" fill="#FC8D62" fill-opacity=".49"/>
<path d="M549.2 1400.39C571 1400.39 571 1400.39 592.8 1400.39L592.8 1404.96C571 1404.96 571 1404.96 549.2 1404.96Z" fill="#FC8D62" fill-opacity=".49"/>
<path d="M549.2 1404.66C571 1404.66 571 1404.66 592.8 1404.66L592.8 1409.23C571 1409.23 571 1409.23 549.2 1409.23Z" fill="#FC8D62" fill-opacity=".49"/>
<path d="M549.2 1408.93C571 1408.93 571 1408.93 592.8 1408.93L592.8 1413.5C571 1413.5 571 1413.5 549.2 1413.5Z" fill="#FC8D62" fill-opacity=".49"/>
<path d="M549.2 1413.2C571 1413.2 571 1413.2 592.8 1413.2L592.8 1417.77C571 1417.77 571 1417.77 549.2 1417.77Z" fill="#FC8D62" fill-opacity=".49"/>
<path d="M549.2 1417.47C571 1417.47 571 1417.47 592.8 1417.47L592.8 1422.03C571 1422.03 571 1422.03 549.2 1422.03Z" fill="#FC8D62" fill-opacity=".49"/>
<path d="M549.2 1421.73C571 1421.73 571 1421.73 592.8 1421.73L592.8 1426.3C571 1426.3 571 1426.3 549.2 1426.3Z" fill="#FC8D62" fill-opacity=".49"/>
<path d="M549.2 1426C571 1426 571 1426 592.8 1426L592.8 1430.57C571 1430.57 571 1430.57 549.2 1430.57Z" fill="#FC8D62" fill-opacity=".49"/>
<path d="M549.2 1430.27C571 1430.27 571 1430.27 592.8 1430.27L592.8 1434.84C571 1434.84 571 1434.84 549.2 1434.84Z" fill="#FC8D62" fill-opacity=".49"/>
<path d="M549.2 1434.54C571 1434.54 571 1434.54 592.8 1434.54L592.8 1439.11C571 1439.11 571 1439.11 549.2 1439.11Z" fill="#FC8D62" fill-opacity=".49"/>
<path d="M549.2 1438.81C571 1438.81 571 1438.81 592.8 1438.81L592.8 1443.38C571 1443.38 571 1443.38 549.2 1443.38Z" fill="#FC8D62" fill-opacity=".49"/>
<path d="M549.2 1443.08C571 1443.08 571 1443.08 592.8 1443.08L592.8 1447.65C571 1447.65 571 1447.65 549.2 1447.65Z" fill="#FC8D62" fill-opacity=".49"/>
<path d="M549.2 1447.35C571 1447.35 571 1447.35 592.8 1447.35L592.8 1451.91C571 1451.91 571 1451.91 549.2 1451.91Z" fill="#FC8D62" fill-opacity=".49"/>
<path d="M549.2 1451.61C571 1451.61 571 1451.61 592.8 1451.61L592.8 1456.18C571 1456.18 571 1456.18 549.2 1456.18Z" fill="#FC8D62" fill-opacity=".49"/>
<path d="M549.2 1455.88C571 1455.88 571 1455.88 592.8 1455.88L592.8 1460.45C571 1460.45 571 1460.45 549.2 1460.45Z" fill="#FC8D62" fill-opacity=".49"/>
<path d="M549.2 1460.15C571 1460.15 571 1460.15 592.8 1460.15L592.8 1464.72C571 1464.72 571 1464.72 549.2 1464.72Z" fill="#FC8D62" fill-opacity=".49"/>
<path d="M549.2 1464.42C571 1464.42 571 1464.42 592.8 1464.42L592.8 1468.99C571 1468.99 571 1468.99 549.2 1468.99Z" fill="#FC8D62" fill-opacity=".49"/>
<path d="M549.2 1468.69C571 1468.69 571 1468.69 592.8 1468.69L592.8 1473.26C571 1473.26 571 1473.26 549.2 1473.26Z" fill="#FC8D62" fill-opacity=".49"/>
<path d="M549.2 1472.96C571 1472.96 571 1472.96 592.8 1472.96L592.8 1477.53C571 1477.53 571 1477.53 549.2 1477.53Z" fill="#FC8D62" fill-opacity=".49"/>
<path d="M549.2 1477.23C571 1477.23 571 1477.23 592.8 1477.23L592.8 1481.79C571 1481.79 571 1481.79 549.2 1481.79Z" fill="#FC8D62" fill-opacity=".49"/>
<path d="M549.2 1481.49C571 1481.49 571 1481.49 592.8 1481.49L592.8 1486.06C571 1486.06 571 1486.06 549.2 1486.06Z" fill="#FC8D62" fill-opacity=".49"/>
<path d="M549.2 1485.76C571 1485.76 571 1485.76 592.8 1485.76L592.8 1490.33C571 1490.33 571 1490.33 549.2 1490.33Z" fill="#FC8D62" fill-opacity=".49"/>
<path d="M549.2 1490.03C571 1490.03 571 1490.03 592.8 1490.03L592.8 1494.3C571 1494.3 571 1494.3 549.2 1494.3Z" fill="#FC8D62" fill-opacity=".49"/>
</g>
<line x1="204.6" y1="1094" x2="204.6" y2="1108.7" stroke="#E4E4E4" stroke-width="1.1"/>
<line x1="204.6" y1="1494.3" x2="204.6" y2="1512.5" stroke="#E4E4E4" stroke-width="1.1"/>
<line x1="270.9" y1="1094" x2="270.9" y2="1108.7" stroke="#E4E4E4" stroke-width="1.1"/>
<line x1="270.9" y1="1494.3" x2="270.9" y2="1512.5" stroke="#E4E4E4" stroke-width="1.1"/>
<line x1="337.95" y1="1094" x2="337.95" y2="1108.7" stroke="#E4E4E4" stroke-width="1.1"/>
<line x1="337.95" y1="1494.3" x2="337.95" y2="1512.5" stroke="#E4E4E4" stroke-width="1.1"/>
<line x1="404.25" y1="1094" x2="404.25" y2="1108.7" stroke="#E4E4E4" stroke-width="1.1"/>
<line x1="404.25" y1="1494.3" x2="404.25" y2="1512.5" stroke="#E4E4E4" stroke-width="1.1"/>
<line x1="471.15" y1="1094" x2="471.15" y2="1108.7" stroke="#E4E4E4" stroke-width="1.1"/>
<line x1="471.15" y1="1494.3" x2="471.15" y2="1512.5" stroke="#E4E4E4" stroke-width="1.1"/>
<line x1="537.85" y1="1094" x2="537.85" y2="1108.7" stroke="#E4E4E4" stroke-width="1.1"/>
<line x1="537.85" y1="1494.3" x2="537.85" y2="1512.5" stroke="#E4E4E4" stroke-width="1.1"/>
<line x1="604.1" y1="1094" x2="604.1" y2="1108.7" stroke="#E4E4E4" stroke-width="1.1"/>
<line x1="604.1" y1="1494.3" x2="604.1" y2="1512.5" stroke="#E4E4E4" stroke-width="1.1"/>
<rect x="192.9" y="1108.7" width="23.4" height="28.6" fill="#fff" stroke="none" stroke-width="1"/>
<rect x="192.9" y="1108.7" width="23.4" height="28.6" fill="none" stroke="#9A9A9A" stroke-width="1.7"/>
<rect x="192.9" y="1137.3" width="23.4" height="40" fill="#fff" stroke="none" stroke-width="1"/>
<rect x="192.9" y="1137.3" width="23.4" height="40" fill="none" stroke="#9A9A9A" stroke-width="1.7"/>
<rect x="192.9" y="1177.3" width="23.4" height="242.7" fill="#fff" stroke="none" stroke-width="1"/>
<rect x="192.9" y="1177.3" width="23.4" height="242.7" fill="none" stroke="#9A9A9A" stroke-width="1.7"/>
<rect x="192.9" y="1420" width="23.4" height="57" fill="#fff" stroke="none" stroke-width="1"/>
<rect x="192.9" y="1420" width="23.4" height="11.4" fill="#FCE8E1" stroke="none" stroke-width="1"/>
<rect x="192.9" y="1431.4" width="23.4" height="5.7" fill="#E4F4EF" stroke="none" stroke-width="1"/>
<rect x="192.9" y="1437.1" width="23.4" height="12.54" fill="#FCE8E1" stroke="none" stroke-width="1"/>
<rect x="192.9" y="1449.64" width="23.4" height="4.56" fill="#E4F4EF" stroke="none" stroke-width="1"/>
<rect x="192.9" y="1454.2" width="23.4" height="12.54" fill="#FCE8E1" stroke="none" stroke-width="1"/>
<rect x="192.9" y="1466.74" width="23.4" height="4.56" fill="#E4F4EF" stroke="none" stroke-width="1"/>
<rect x="192.9" y="1471.3" width="23.4" height="5.7" fill="#FCE8E1" stroke="none" stroke-width="1"/>
<rect x="192.9" y="1420" width="23.4" height="57" fill="none" stroke="#9A9A9A" stroke-width="1.7"/>
<rect x="192.9" y="1477" width="23.4" height="17.3" fill="#fff" stroke="none" stroke-width="1"/>
<rect x="192.9" y="1477" width="23.4" height="17.3" fill="none" stroke="#9A9A9A" stroke-width="1.7"/>
<rect x="259.5" y="1108.7" width="22.8" height="35.5" fill="#fff" stroke="none" stroke-width="1"/>
<rect x="259.5" y="1108.7" width="22.8" height="35.5" fill="none" stroke="#9A9A9A" stroke-width="1.7"/>
<rect x="259.5" y="1144.2" width="22.8" height="22.4" fill="#fff" stroke="none" stroke-width="1"/>
<rect x="259.5" y="1144.2" width="22.8" height="22.4" fill="none" stroke="#9A9A9A" stroke-width="1.7"/>
<rect x="259.5" y="1166.6" width="22.8" height="57.3" fill="#fff" stroke="none" stroke-width="1"/>
<rect x="259.5" y="1166.6" width="22.8" height="57.3" fill="none" stroke="#9A9A9A" stroke-width="1.7"/>
<rect x="259.5" y="1223.9" width="22.8" height="270.4" fill="#fff" stroke="none" stroke-width="1"/>
<rect x="259.5" y="1223.9" width="22.8" height="270.4" fill="none" stroke="#9A9A9A" stroke-width="1.7"/>
<rect x="326.5" y="1108.7" width="22.9" height="57.9" fill="#fff" stroke="none" stroke-width="1"/>
<rect x="326.5" y="1108.7" width="22.9" height="6.95" fill="#E2F3EE" stroke="none" stroke-width="1"/>
<rect x="326.5" y="1115.65" width="22.9" height="12.74" fill="#FBE6DE" stroke="none" stroke-width="1"/>
<rect x="326.5" y="1128.39" width="22.9" height="32.42" fill="#E2F3EE" stroke="none" stroke-width="1"/>
<rect x="326.5" y="1160.81" width="22.9" height="5.79" fill="#FBE3DA" stroke="none" stroke-width="1"/>
<rect x="326.5" y="1108.7" width="22.9" height="57.9" fill="none" stroke="#9A9A9A" stroke-width="1.7"/>
<rect x="326.5" y="1166.6" width="22.9" height="304.5" fill="#fff" stroke="none" stroke-width="1"/>
<rect x="326.5" y="1166.6" width="22.9" height="304.5" fill="none" stroke="#9A9A9A" stroke-width="1.7"/>
<rect x="326.5" y="1471.1" width="22.9" height="23.2" fill="#fff" stroke="none" stroke-width="1"/>
<rect x="326.5" y="1471.1" width="22.9" height="23.2" fill="none" stroke="#9A9A9A" stroke-width="1.7"/>
<rect x="392.8" y="1108.7" width="22.9" height="276.1" fill="#fff" stroke="none" stroke-width="1"/>
<rect x="392.8" y="1108.7" width="22.9" height="276.1" fill="none" stroke="#9A9A9A" stroke-width="1.7"/>
<rect x="392.8" y="1384.8" width="22.9" height="24" fill="#fff" stroke="none" stroke-width="1"/>
<rect x="392.8" y="1384.8" width="22.9" height="24" fill="none" stroke="#9A9A9A" stroke-width="1.7"/>
<rect x="392.8" y="1408.8" width="22.9" height="34.6" fill="#fff" stroke="none" stroke-width="1"/>
<rect x="392.8" y="1408.8" width="22.9" height="25.95" fill="#FCE8E1" stroke="none" stroke-width="1"/>
<rect x="392.8" y="1434.75" width="22.9" height="8.65" fill="#E4F4EF" stroke="none" stroke-width="1"/>
<rect x="392.8" y="1408.8" width="22.9" height="34.6" fill="none" stroke="#9A9A9A" stroke-width="1.7"/>
<rect x="392.8" y="1443.4" width="22.9" height="50.9" fill="#fff" stroke="none" stroke-width="1"/>
<rect x="392.8" y="1443.4" width="22.9" height="50.9" fill="none" stroke="#9A9A9A" stroke-width="1.7"/>
<rect x="459.8" y="1108.7" width="22.7" height="149.8" fill="#fff" stroke="none" stroke-width="1"/>
<rect x="459.8" y="1108.7" width="22.7" height="149.8" fill="none" stroke="#9A9A9A" stroke-width="1.7"/>
<rect x="459.8" y="1258.5" width="22.7" height="207.1" fill="#fff" stroke="none" stroke-width="1"/>
<rect x="459.8" y="1258.5" width="22.7" height="207.1" fill="none" stroke="#9A9A9A" stroke-width="1.7"/>
<rect x="459.8" y="1465.6" width="22.7" height="15.7" fill="#fff" stroke="none" stroke-width="1"/>
<rect x="459.8" y="1465.6" width="22.7" height="15.7" fill="none" stroke="#9A9A9A" stroke-width="1.7"/>
<rect x="459.8" y="1481.3" width="22.7" height="7.4" fill="#fff" stroke="none" stroke-width="1"/>
<rect x="459.8" y="1481.3" width="22.7" height="7.4" fill="none" stroke="#9A9A9A" stroke-width="1.7"/>
<rect x="459.8" y="1488.7" width="22.7" height="5.6" fill="#fff" stroke="none" stroke-width="1"/>
<rect x="459.8" y="1488.7" width="22.7" height="5.6" fill="none" stroke="#9A9A9A" stroke-width="1.7"/>
<rect x="526.5" y="1108.7" width="22.7" height="144.2" fill="#fff" stroke="none" stroke-width="1"/>
<rect x="526.5" y="1108.7" width="22.7" height="144.2" fill="none" stroke="#9A9A9A" stroke-width="1.7"/>
<rect x="526.5" y="1252.9" width="22.7" height="241.4" fill="#fff" stroke="none" stroke-width="1"/>
<rect x="526.5" y="1252.9" width="22.7" height="241.4" fill="none" stroke="#9A9A9A" stroke-width="1.7"/>
<rect x="592.8" y="1108.7" width="22.6" height="178.5" fill="#fff" stroke="none" stroke-width="1"/>
<rect x="592.8" y="1108.7" width="22.6" height="178.5" fill="none" stroke="#9A9A9A" stroke-width="1.7"/>
<rect x="592.8" y="1287.2" width="22.6" height="207.1" fill="#fff" stroke="none" stroke-width="1"/>
<rect x="592.8" y="1287.2" width="22.6" height="207.1" fill="none" stroke="#9A9A9A" stroke-width="1.7"/>
<line x1="459.8" y1="1484.6" x2="482.5" y2="1484.6" stroke="#9C9C9C" stroke-width="1.2"/>
<text transform="translate(204.5 1127) scale(1.06 1)" font-size="14.2" text-anchor="middle">I</text>
<text transform="translate(204.5 1162) scale(1.06 1)" font-size="14.2" text-anchor="middle">II</text>
<text transform="translate(204.5 1302) scale(1.06 1)" font-size="14.2" text-anchor="middle">III</text>
<text transform="translate(204.7 1453) scale(1.06 1)" font-size="14.2" text-anchor="middle">IV</text>
<text transform="translate(204.5 1491) scale(1.06 1)" font-size="14.2" text-anchor="middle">Unknown</text>
<text transform="translate(268 1130) scale(1.06 1)" font-size="14.2" text-anchor="middle">CIMP−H</text>
<text transform="translate(267.4 1159.5) scale(1.06 1)" font-size="14.2" text-anchor="middle">CIMP EBV</text>
<text transform="translate(270.8 1198) scale(1.06 1)" font-size="14.2" text-anchor="middle">GEA CIMP−L</text>
<text transform="translate(275.5 1362) scale(1.06 1)" font-size="14.2" text-anchor="middle">Non−CIMP</text>
<text transform="translate(337.3 1140.3) scale(1.06 1)" font-size="14.2" text-anchor="middle">Diffuse</text>
<text transform="translate(336.8 1321.5) scale(1.06 1)" font-size="14.2" text-anchor="middle">Intestinal</text>
<text transform="translate(340.5 1485.4) scale(1.06 1)" font-size="14.2" text-anchor="middle">Signet ring</text>
<text transform="translate(402.2 1250.2) scale(1.06 1)" font-size="14.2" text-anchor="middle">CIN</text>
<text transform="translate(404.3 1401.5) scale(1.06 1)" font-size="14.2" text-anchor="middle">EBV</text>
<text transform="translate(403.5 1430.5) scale(1.06 1)" font-size="14.2" text-anchor="middle">GS</text>
<text transform="translate(401.5 1471.5) scale(1.06 1)" font-size="14.2" text-anchor="middle">MSI</text>
<text transform="translate(470.6 1187) scale(1.06 1)" font-size="14.2" text-anchor="middle">C1</text>
<text transform="translate(470.6 1365.3) scale(1.06 1)" font-size="14.2" text-anchor="middle">C2</text>
<text transform="translate(470.8 1477) scale(1.06 1)" font-size="14.2" text-anchor="middle">C3</text>
<text transform="translate(494.3 1491) scale(1.06 1)" font-size="14.2" text-anchor="middle">C4</text>
<text transform="translate(471 1506.4) scale(1.06 1)" font-size="14.2" text-anchor="middle">C6</text>
<text transform="translate(532.6 1184) scale(1.06 1)" font-size="14.2" text-anchor="middle">NO</text>
<text transform="translate(534.2 1377) scale(1.06 1)" font-size="14.2" text-anchor="middle">YES</text>
<text transform="translate(599.2 1201.4) scale(1.06 1)" font-size="14.2" text-anchor="middle">low</text>
<text transform="translate(600 1393.6) scale(1.06 1)" font-size="14.2" text-anchor="middle">high</text>
<text transform="translate(207.6 1523.5)" font-size="9.6" text-anchor="middle" fill="#222">Stage</text>
<text transform="translate(279.1 1523.5)" font-size="9.6" text-anchor="middle" fill="#222">Hypermethylation</text>
<text transform="translate(342.1 1523.5)" font-size="9.6" text-anchor="middle" fill="#222">Histology</text>
<text transform="translate(406.8 1523.5)" font-size="9.6" text-anchor="middle" fill="#222">Molecular_subtype</text>
<text transform="translate(485.7 1523.5)" font-size="9.6" text-anchor="middle" fill="#222">Immune_subtype</text>
<text transform="translate(538 1523.5)" font-size="9.6" text-anchor="middle" fill="#222">Old</text>
<text transform="translate(605.4 1523.5)" font-size="9.6" text-anchor="middle" fill="#222">Risk</text>
<text transform="translate(403.6 1540.8) scale(1.15 1)" font-size="11.6" text-anchor="middle">Groups</text>
<text transform="translate(283.5 1561.6)" font-size="18.9">Risk_Strata</text>
<rect x="398.3" y="1550.2" width="13" height="13.3" fill="#66C2A5" fill-opacity="0.55"/>
<text transform="translate(415.7 1561.6)" font-size="18.9">low</text>
<rect x="447.5" y="1550.2" width="13" height="13.3" fill="#FC8D62" fill-opacity=".49"/>
<text transform="translate(465.5 1561.6)" font-size="18.9">high</text>
</g>
</svg>
</body></html>
